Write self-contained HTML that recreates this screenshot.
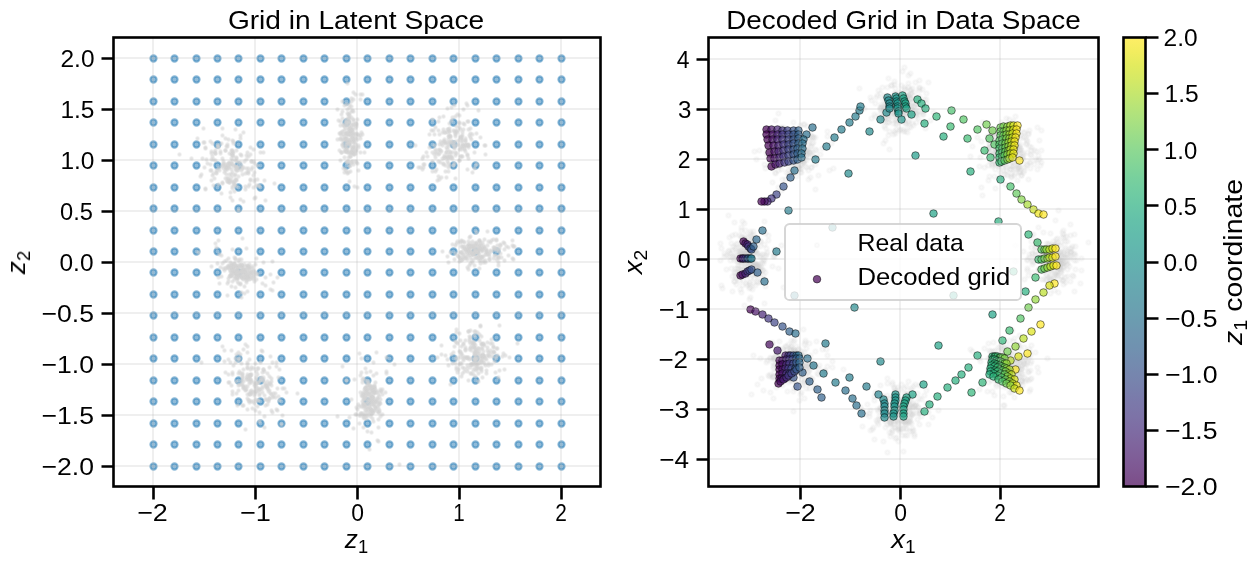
<!DOCTYPE html>
<html><head><meta charset="utf-8"><title>Latent grid decoding</title>
<style>html,body{margin:0;padding:0;background:#fff;overflow:hidden}svg{display:block}text{font-family:"Liberation Sans",sans-serif;fill:#000}</style>
</head><body>
<svg width="1260" height="566" viewBox="0 0 1260 566">
<rect width="1260" height="566" fill="#fff"/>
<defs><clipPath id="cl"><rect x="113.5" y="37.5" width="487.0" height="449.0"/></clipPath><clipPath id="cr"><rect x="708.5" y="37.5" width="390.0" height="449.0"/></clipPath>
<linearGradient id="vg" x1="0" y1="0" x2="0" y2="1"><stop offset="0%" stop-color="#feee66"/><stop offset="3.1%" stop-color="#f2ed5f"/><stop offset="6.2%" stop-color="#e3eb5e"/><stop offset="9.4%" stop-color="#d5e965"/><stop offset="12.5%" stop-color="#c6e76e"/><stop offset="15.6%" stop-color="#b7e478"/><stop offset="18.8%" stop-color="#a9e181"/><stop offset="21.9%" stop-color="#9bdd89"/><stop offset="25%" stop-color="#8ed991"/><stop offset="28.1%" stop-color="#83d597"/><stop offset="31.2%" stop-color="#78d09d"/><stop offset="34.4%" stop-color="#70cca2"/><stop offset="37.5%" stop-color="#69c7a6"/><stop offset="40.6%" stop-color="#64c1a9"/><stop offset="43.8%" stop-color="#62bcac"/><stop offset="46.9%" stop-color="#62b7ae"/><stop offset="50%" stop-color="#63b2af"/><stop offset="53.1%" stop-color="#65acb0"/><stop offset="56.2%" stop-color="#67a7b0"/><stop offset="59.4%" stop-color="#69a2b0"/><stop offset="62.5%" stop-color="#6b9db0"/><stop offset="65.6%" stop-color="#6e97b0"/><stop offset="68.8%" stop-color="#7092b0"/><stop offset="71.9%" stop-color="#738caf"/><stop offset="75%" stop-color="#7686ae"/><stop offset="78.1%" stop-color="#7880ac"/><stop offset="81.2%" stop-color="#7b79aa"/><stop offset="84.4%" stop-color="#7d73a7"/><stop offset="87.5%" stop-color="#7e6ca3"/><stop offset="90.6%" stop-color="#7f659d"/><stop offset="93.8%" stop-color="#7f5d97"/><stop offset="96.9%" stop-color="#7e5590"/><stop offset="100%" stop-color="#7c4d87"/></linearGradient></defs>
<g clip-path="url(#cl)">
<g fill="#1f77b4" fill-opacity="0.5" stroke="#1f77b4" stroke-opacity="0.5" stroke-width="2.08">
<circle cx="153.5" cy="466.5" r="3.1"/>
<circle cx="153.5" cy="444.5" r="3.1"/>
<circle cx="153.5" cy="423.5" r="3.1"/>
<circle cx="153.5" cy="401.5" r="3.1"/>
<circle cx="153.5" cy="380.5" r="3.1"/>
<circle cx="153.5" cy="358.5" r="3.1"/>
<circle cx="153.5" cy="337.5" r="3.1"/>
<circle cx="153.5" cy="315.5" r="3.1"/>
<circle cx="153.5" cy="294.5" r="3.1"/>
<circle cx="153.5" cy="272.5" r="3.1"/>
<circle cx="153.5" cy="251.5" r="3.1"/>
<circle cx="153.5" cy="230.5" r="3.1"/>
<circle cx="153.5" cy="208.5" r="3.1"/>
<circle cx="153.5" cy="187.5" r="3.1"/>
<circle cx="153.5" cy="165.5" r="3.1"/>
<circle cx="153.5" cy="144.5" r="3.1"/>
<circle cx="153.5" cy="122.5" r="3.1"/>
<circle cx="153.5" cy="101.5" r="3.1"/>
<circle cx="153.5" cy="79.5" r="3.1"/>
<circle cx="153.5" cy="58.5" r="3.1"/>
<circle cx="174.5" cy="466.5" r="3.1"/>
<circle cx="174.5" cy="444.5" r="3.1"/>
<circle cx="174.5" cy="423.5" r="3.1"/>
<circle cx="174.5" cy="401.5" r="3.1"/>
<circle cx="174.5" cy="380.5" r="3.1"/>
<circle cx="174.5" cy="358.5" r="3.1"/>
<circle cx="174.5" cy="337.5" r="3.1"/>
<circle cx="174.5" cy="315.5" r="3.1"/>
<circle cx="174.5" cy="294.5" r="3.1"/>
<circle cx="174.5" cy="272.5" r="3.1"/>
<circle cx="174.5" cy="251.5" r="3.1"/>
<circle cx="174.5" cy="230.5" r="3.1"/>
<circle cx="174.5" cy="208.5" r="3.1"/>
<circle cx="174.5" cy="187.5" r="3.1"/>
<circle cx="174.5" cy="165.5" r="3.1"/>
<circle cx="174.5" cy="144.5" r="3.1"/>
<circle cx="174.5" cy="122.5" r="3.1"/>
<circle cx="174.5" cy="101.5" r="3.1"/>
<circle cx="174.5" cy="79.5" r="3.1"/>
<circle cx="174.5" cy="58.5" r="3.1"/>
<circle cx="196.5" cy="466.5" r="3.1"/>
<circle cx="196.5" cy="444.5" r="3.1"/>
<circle cx="196.5" cy="423.5" r="3.1"/>
<circle cx="196.5" cy="401.5" r="3.1"/>
<circle cx="196.5" cy="380.5" r="3.1"/>
<circle cx="196.5" cy="358.5" r="3.1"/>
<circle cx="196.5" cy="337.5" r="3.1"/>
<circle cx="196.5" cy="315.5" r="3.1"/>
<circle cx="196.5" cy="294.5" r="3.1"/>
<circle cx="196.5" cy="272.5" r="3.1"/>
<circle cx="196.5" cy="251.5" r="3.1"/>
<circle cx="196.5" cy="230.5" r="3.1"/>
<circle cx="196.5" cy="208.5" r="3.1"/>
<circle cx="196.5" cy="187.5" r="3.1"/>
<circle cx="196.5" cy="165.5" r="3.1"/>
<circle cx="196.5" cy="144.5" r="3.1"/>
<circle cx="196.5" cy="122.5" r="3.1"/>
<circle cx="196.5" cy="101.5" r="3.1"/>
<circle cx="196.5" cy="79.5" r="3.1"/>
<circle cx="196.5" cy="58.5" r="3.1"/>
<circle cx="217.5" cy="466.5" r="3.1"/>
<circle cx="217.5" cy="444.5" r="3.1"/>
<circle cx="217.5" cy="423.5" r="3.1"/>
<circle cx="217.5" cy="401.5" r="3.1"/>
<circle cx="217.5" cy="380.5" r="3.1"/>
<circle cx="217.5" cy="358.5" r="3.1"/>
<circle cx="217.5" cy="337.5" r="3.1"/>
<circle cx="217.5" cy="315.5" r="3.1"/>
<circle cx="217.5" cy="294.5" r="3.1"/>
<circle cx="217.5" cy="272.5" r="3.1"/>
<circle cx="217.5" cy="251.5" r="3.1"/>
<circle cx="217.5" cy="230.5" r="3.1"/>
<circle cx="217.5" cy="208.5" r="3.1"/>
<circle cx="217.5" cy="187.5" r="3.1"/>
<circle cx="217.5" cy="165.5" r="3.1"/>
<circle cx="217.5" cy="144.5" r="3.1"/>
<circle cx="217.5" cy="122.5" r="3.1"/>
<circle cx="217.5" cy="101.5" r="3.1"/>
<circle cx="217.5" cy="79.5" r="3.1"/>
<circle cx="217.5" cy="58.5" r="3.1"/>
<circle cx="238.5" cy="466.5" r="3.1"/>
<circle cx="238.5" cy="444.5" r="3.1"/>
<circle cx="238.5" cy="423.5" r="3.1"/>
<circle cx="238.5" cy="401.5" r="3.1"/>
<circle cx="238.5" cy="380.5" r="3.1"/>
<circle cx="238.5" cy="358.5" r="3.1"/>
<circle cx="238.5" cy="337.5" r="3.1"/>
<circle cx="238.5" cy="315.5" r="3.1"/>
<circle cx="238.5" cy="294.5" r="3.1"/>
<circle cx="238.5" cy="272.5" r="3.1"/>
<circle cx="238.5" cy="251.5" r="3.1"/>
<circle cx="238.5" cy="230.5" r="3.1"/>
<circle cx="238.5" cy="208.5" r="3.1"/>
<circle cx="238.5" cy="187.5" r="3.1"/>
<circle cx="238.5" cy="165.5" r="3.1"/>
<circle cx="238.5" cy="144.5" r="3.1"/>
<circle cx="238.5" cy="122.5" r="3.1"/>
<circle cx="238.5" cy="101.5" r="3.1"/>
<circle cx="238.5" cy="79.5" r="3.1"/>
<circle cx="238.5" cy="58.5" r="3.1"/>
<circle cx="260.5" cy="466.5" r="3.1"/>
<circle cx="260.5" cy="444.5" r="3.1"/>
<circle cx="260.5" cy="423.5" r="3.1"/>
<circle cx="260.5" cy="401.5" r="3.1"/>
<circle cx="260.5" cy="380.5" r="3.1"/>
<circle cx="260.5" cy="358.5" r="3.1"/>
<circle cx="260.5" cy="337.5" r="3.1"/>
<circle cx="260.5" cy="315.5" r="3.1"/>
<circle cx="260.5" cy="294.5" r="3.1"/>
<circle cx="260.5" cy="272.5" r="3.1"/>
<circle cx="260.5" cy="251.5" r="3.1"/>
<circle cx="260.5" cy="230.5" r="3.1"/>
<circle cx="260.5" cy="208.5" r="3.1"/>
<circle cx="260.5" cy="187.5" r="3.1"/>
<circle cx="260.5" cy="165.5" r="3.1"/>
<circle cx="260.5" cy="144.5" r="3.1"/>
<circle cx="260.5" cy="122.5" r="3.1"/>
<circle cx="260.5" cy="101.5" r="3.1"/>
<circle cx="260.5" cy="79.5" r="3.1"/>
<circle cx="260.5" cy="58.5" r="3.1"/>
<circle cx="281.5" cy="466.5" r="3.1"/>
<circle cx="281.5" cy="444.5" r="3.1"/>
<circle cx="281.5" cy="423.5" r="3.1"/>
<circle cx="281.5" cy="401.5" r="3.1"/>
<circle cx="281.5" cy="380.5" r="3.1"/>
<circle cx="281.5" cy="358.5" r="3.1"/>
<circle cx="281.5" cy="337.5" r="3.1"/>
<circle cx="281.5" cy="315.5" r="3.1"/>
<circle cx="281.5" cy="294.5" r="3.1"/>
<circle cx="281.5" cy="272.5" r="3.1"/>
<circle cx="281.5" cy="251.5" r="3.1"/>
<circle cx="281.5" cy="230.5" r="3.1"/>
<circle cx="281.5" cy="208.5" r="3.1"/>
<circle cx="281.5" cy="187.5" r="3.1"/>
<circle cx="281.5" cy="165.5" r="3.1"/>
<circle cx="281.5" cy="144.5" r="3.1"/>
<circle cx="281.5" cy="122.5" r="3.1"/>
<circle cx="281.5" cy="101.5" r="3.1"/>
<circle cx="281.5" cy="79.5" r="3.1"/>
<circle cx="281.5" cy="58.5" r="3.1"/>
<circle cx="303.5" cy="466.5" r="3.1"/>
<circle cx="303.5" cy="444.5" r="3.1"/>
<circle cx="303.5" cy="423.5" r="3.1"/>
<circle cx="303.5" cy="401.5" r="3.1"/>
<circle cx="303.5" cy="380.5" r="3.1"/>
<circle cx="303.5" cy="358.5" r="3.1"/>
<circle cx="303.5" cy="337.5" r="3.1"/>
<circle cx="303.5" cy="315.5" r="3.1"/>
<circle cx="303.5" cy="294.5" r="3.1"/>
<circle cx="303.5" cy="272.5" r="3.1"/>
<circle cx="303.5" cy="251.5" r="3.1"/>
<circle cx="303.5" cy="230.5" r="3.1"/>
<circle cx="303.5" cy="208.5" r="3.1"/>
<circle cx="303.5" cy="187.5" r="3.1"/>
<circle cx="303.5" cy="165.5" r="3.1"/>
<circle cx="303.5" cy="144.5" r="3.1"/>
<circle cx="303.5" cy="122.5" r="3.1"/>
<circle cx="303.5" cy="101.5" r="3.1"/>
<circle cx="303.5" cy="79.5" r="3.1"/>
<circle cx="303.5" cy="58.5" r="3.1"/>
<circle cx="324.5" cy="466.5" r="3.1"/>
<circle cx="324.5" cy="444.5" r="3.1"/>
<circle cx="324.5" cy="423.5" r="3.1"/>
<circle cx="324.5" cy="401.5" r="3.1"/>
<circle cx="324.5" cy="380.5" r="3.1"/>
<circle cx="324.5" cy="358.5" r="3.1"/>
<circle cx="324.5" cy="337.5" r="3.1"/>
<circle cx="324.5" cy="315.5" r="3.1"/>
<circle cx="324.5" cy="294.5" r="3.1"/>
<circle cx="324.5" cy="272.5" r="3.1"/>
<circle cx="324.5" cy="251.5" r="3.1"/>
<circle cx="324.5" cy="230.5" r="3.1"/>
<circle cx="324.5" cy="208.5" r="3.1"/>
<circle cx="324.5" cy="187.5" r="3.1"/>
<circle cx="324.5" cy="165.5" r="3.1"/>
<circle cx="324.5" cy="144.5" r="3.1"/>
<circle cx="324.5" cy="122.5" r="3.1"/>
<circle cx="324.5" cy="101.5" r="3.1"/>
<circle cx="324.5" cy="79.5" r="3.1"/>
<circle cx="324.5" cy="58.5" r="3.1"/>
<circle cx="346.5" cy="466.5" r="3.1"/>
<circle cx="346.5" cy="444.5" r="3.1"/>
<circle cx="346.5" cy="423.5" r="3.1"/>
<circle cx="346.5" cy="401.5" r="3.1"/>
<circle cx="346.5" cy="380.5" r="3.1"/>
<circle cx="346.5" cy="358.5" r="3.1"/>
<circle cx="346.5" cy="337.5" r="3.1"/>
<circle cx="346.5" cy="315.5" r="3.1"/>
<circle cx="346.5" cy="294.5" r="3.1"/>
<circle cx="346.5" cy="272.5" r="3.1"/>
<circle cx="346.5" cy="251.5" r="3.1"/>
<circle cx="346.5" cy="230.5" r="3.1"/>
<circle cx="346.5" cy="208.5" r="3.1"/>
<circle cx="346.5" cy="187.5" r="3.1"/>
<circle cx="346.5" cy="165.5" r="3.1"/>
<circle cx="346.5" cy="144.5" r="3.1"/>
<circle cx="346.5" cy="122.5" r="3.1"/>
<circle cx="346.5" cy="101.5" r="3.1"/>
<circle cx="346.5" cy="79.5" r="3.1"/>
<circle cx="346.5" cy="58.5" r="3.1"/>
<circle cx="367.5" cy="466.5" r="3.1"/>
<circle cx="367.5" cy="444.5" r="3.1"/>
<circle cx="367.5" cy="423.5" r="3.1"/>
<circle cx="367.5" cy="401.5" r="3.1"/>
<circle cx="367.5" cy="380.5" r="3.1"/>
<circle cx="367.5" cy="358.5" r="3.1"/>
<circle cx="367.5" cy="337.5" r="3.1"/>
<circle cx="367.5" cy="315.5" r="3.1"/>
<circle cx="367.5" cy="294.5" r="3.1"/>
<circle cx="367.5" cy="272.5" r="3.1"/>
<circle cx="367.5" cy="251.5" r="3.1"/>
<circle cx="367.5" cy="230.5" r="3.1"/>
<circle cx="367.5" cy="208.5" r="3.1"/>
<circle cx="367.5" cy="187.5" r="3.1"/>
<circle cx="367.5" cy="165.5" r="3.1"/>
<circle cx="367.5" cy="144.5" r="3.1"/>
<circle cx="367.5" cy="122.5" r="3.1"/>
<circle cx="367.5" cy="101.5" r="3.1"/>
<circle cx="367.5" cy="79.5" r="3.1"/>
<circle cx="367.5" cy="58.5" r="3.1"/>
<circle cx="389.5" cy="466.5" r="3.1"/>
<circle cx="389.5" cy="444.5" r="3.1"/>
<circle cx="389.5" cy="423.5" r="3.1"/>
<circle cx="389.5" cy="401.5" r="3.1"/>
<circle cx="389.5" cy="380.5" r="3.1"/>
<circle cx="389.5" cy="358.5" r="3.1"/>
<circle cx="389.5" cy="337.5" r="3.1"/>
<circle cx="389.5" cy="315.5" r="3.1"/>
<circle cx="389.5" cy="294.5" r="3.1"/>
<circle cx="389.5" cy="272.5" r="3.1"/>
<circle cx="389.5" cy="251.5" r="3.1"/>
<circle cx="389.5" cy="230.5" r="3.1"/>
<circle cx="389.5" cy="208.5" r="3.1"/>
<circle cx="389.5" cy="187.5" r="3.1"/>
<circle cx="389.5" cy="165.5" r="3.1"/>
<circle cx="389.5" cy="144.5" r="3.1"/>
<circle cx="389.5" cy="122.5" r="3.1"/>
<circle cx="389.5" cy="101.5" r="3.1"/>
<circle cx="389.5" cy="79.5" r="3.1"/>
<circle cx="389.5" cy="58.5" r="3.1"/>
<circle cx="410.5" cy="466.5" r="3.1"/>
<circle cx="410.5" cy="444.5" r="3.1"/>
<circle cx="410.5" cy="423.5" r="3.1"/>
<circle cx="410.5" cy="401.5" r="3.1"/>
<circle cx="410.5" cy="380.5" r="3.1"/>
<circle cx="410.5" cy="358.5" r="3.1"/>
<circle cx="410.5" cy="337.5" r="3.1"/>
<circle cx="410.5" cy="315.5" r="3.1"/>
<circle cx="410.5" cy="294.5" r="3.1"/>
<circle cx="410.5" cy="272.5" r="3.1"/>
<circle cx="410.5" cy="251.5" r="3.1"/>
<circle cx="410.5" cy="230.5" r="3.1"/>
<circle cx="410.5" cy="208.5" r="3.1"/>
<circle cx="410.5" cy="187.5" r="3.1"/>
<circle cx="410.5" cy="165.5" r="3.1"/>
<circle cx="410.5" cy="144.5" r="3.1"/>
<circle cx="410.5" cy="122.5" r="3.1"/>
<circle cx="410.5" cy="101.5" r="3.1"/>
<circle cx="410.5" cy="79.5" r="3.1"/>
<circle cx="410.5" cy="58.5" r="3.1"/>
<circle cx="432.5" cy="466.5" r="3.1"/>
<circle cx="432.5" cy="444.5" r="3.1"/>
<circle cx="432.5" cy="423.5" r="3.1"/>
<circle cx="432.5" cy="401.5" r="3.1"/>
<circle cx="432.5" cy="380.5" r="3.1"/>
<circle cx="432.5" cy="358.5" r="3.1"/>
<circle cx="432.5" cy="337.5" r="3.1"/>
<circle cx="432.5" cy="315.5" r="3.1"/>
<circle cx="432.5" cy="294.5" r="3.1"/>
<circle cx="432.5" cy="272.5" r="3.1"/>
<circle cx="432.5" cy="251.5" r="3.1"/>
<circle cx="432.5" cy="230.5" r="3.1"/>
<circle cx="432.5" cy="208.5" r="3.1"/>
<circle cx="432.5" cy="187.5" r="3.1"/>
<circle cx="432.5" cy="165.5" r="3.1"/>
<circle cx="432.5" cy="144.5" r="3.1"/>
<circle cx="432.5" cy="122.5" r="3.1"/>
<circle cx="432.5" cy="101.5" r="3.1"/>
<circle cx="432.5" cy="79.5" r="3.1"/>
<circle cx="432.5" cy="58.5" r="3.1"/>
<circle cx="453.5" cy="466.5" r="3.1"/>
<circle cx="453.5" cy="444.5" r="3.1"/>
<circle cx="453.5" cy="423.5" r="3.1"/>
<circle cx="453.5" cy="401.5" r="3.1"/>
<circle cx="453.5" cy="380.5" r="3.1"/>
<circle cx="453.5" cy="358.5" r="3.1"/>
<circle cx="453.5" cy="337.5" r="3.1"/>
<circle cx="453.5" cy="315.5" r="3.1"/>
<circle cx="453.5" cy="294.5" r="3.1"/>
<circle cx="453.5" cy="272.5" r="3.1"/>
<circle cx="453.5" cy="251.5" r="3.1"/>
<circle cx="453.5" cy="230.5" r="3.1"/>
<circle cx="453.5" cy="208.5" r="3.1"/>
<circle cx="453.5" cy="187.5" r="3.1"/>
<circle cx="453.5" cy="165.5" r="3.1"/>
<circle cx="453.5" cy="144.5" r="3.1"/>
<circle cx="453.5" cy="122.5" r="3.1"/>
<circle cx="453.5" cy="101.5" r="3.1"/>
<circle cx="453.5" cy="79.5" r="3.1"/>
<circle cx="453.5" cy="58.5" r="3.1"/>
<circle cx="475.5" cy="466.5" r="3.1"/>
<circle cx="475.5" cy="444.5" r="3.1"/>
<circle cx="475.5" cy="423.5" r="3.1"/>
<circle cx="475.5" cy="401.5" r="3.1"/>
<circle cx="475.5" cy="380.5" r="3.1"/>
<circle cx="475.5" cy="358.5" r="3.1"/>
<circle cx="475.5" cy="337.5" r="3.1"/>
<circle cx="475.5" cy="315.5" r="3.1"/>
<circle cx="475.5" cy="294.5" r="3.1"/>
<circle cx="475.5" cy="272.5" r="3.1"/>
<circle cx="475.5" cy="251.5" r="3.1"/>
<circle cx="475.5" cy="230.5" r="3.1"/>
<circle cx="475.5" cy="208.5" r="3.1"/>
<circle cx="475.5" cy="187.5" r="3.1"/>
<circle cx="475.5" cy="165.5" r="3.1"/>
<circle cx="475.5" cy="144.5" r="3.1"/>
<circle cx="475.5" cy="122.5" r="3.1"/>
<circle cx="475.5" cy="101.5" r="3.1"/>
<circle cx="475.5" cy="79.5" r="3.1"/>
<circle cx="475.5" cy="58.5" r="3.1"/>
<circle cx="496.5" cy="466.5" r="3.1"/>
<circle cx="496.5" cy="444.5" r="3.1"/>
<circle cx="496.5" cy="423.5" r="3.1"/>
<circle cx="496.5" cy="401.5" r="3.1"/>
<circle cx="496.5" cy="380.5" r="3.1"/>
<circle cx="496.5" cy="358.5" r="3.1"/>
<circle cx="496.5" cy="337.5" r="3.1"/>
<circle cx="496.5" cy="315.5" r="3.1"/>
<circle cx="496.5" cy="294.5" r="3.1"/>
<circle cx="496.5" cy="272.5" r="3.1"/>
<circle cx="496.5" cy="251.5" r="3.1"/>
<circle cx="496.5" cy="230.5" r="3.1"/>
<circle cx="496.5" cy="208.5" r="3.1"/>
<circle cx="496.5" cy="187.5" r="3.1"/>
<circle cx="496.5" cy="165.5" r="3.1"/>
<circle cx="496.5" cy="144.5" r="3.1"/>
<circle cx="496.5" cy="122.5" r="3.1"/>
<circle cx="496.5" cy="101.5" r="3.1"/>
<circle cx="496.5" cy="79.5" r="3.1"/>
<circle cx="496.5" cy="58.5" r="3.1"/>
<circle cx="518.5" cy="466.5" r="3.1"/>
<circle cx="518.5" cy="444.5" r="3.1"/>
<circle cx="518.5" cy="423.5" r="3.1"/>
<circle cx="518.5" cy="401.5" r="3.1"/>
<circle cx="518.5" cy="380.5" r="3.1"/>
<circle cx="518.5" cy="358.5" r="3.1"/>
<circle cx="518.5" cy="337.5" r="3.1"/>
<circle cx="518.5" cy="315.5" r="3.1"/>
<circle cx="518.5" cy="294.5" r="3.1"/>
<circle cx="518.5" cy="272.5" r="3.1"/>
<circle cx="518.5" cy="251.5" r="3.1"/>
<circle cx="518.5" cy="230.5" r="3.1"/>
<circle cx="518.5" cy="208.5" r="3.1"/>
<circle cx="518.5" cy="187.5" r="3.1"/>
<circle cx="518.5" cy="165.5" r="3.1"/>
<circle cx="518.5" cy="144.5" r="3.1"/>
<circle cx="518.5" cy="122.5" r="3.1"/>
<circle cx="518.5" cy="101.5" r="3.1"/>
<circle cx="518.5" cy="79.5" r="3.1"/>
<circle cx="518.5" cy="58.5" r="3.1"/>
<circle cx="539.5" cy="466.5" r="3.1"/>
<circle cx="539.5" cy="444.5" r="3.1"/>
<circle cx="539.5" cy="423.5" r="3.1"/>
<circle cx="539.5" cy="401.5" r="3.1"/>
<circle cx="539.5" cy="380.5" r="3.1"/>
<circle cx="539.5" cy="358.5" r="3.1"/>
<circle cx="539.5" cy="337.5" r="3.1"/>
<circle cx="539.5" cy="315.5" r="3.1"/>
<circle cx="539.5" cy="294.5" r="3.1"/>
<circle cx="539.5" cy="272.5" r="3.1"/>
<circle cx="539.5" cy="251.5" r="3.1"/>
<circle cx="539.5" cy="230.5" r="3.1"/>
<circle cx="539.5" cy="208.5" r="3.1"/>
<circle cx="539.5" cy="187.5" r="3.1"/>
<circle cx="539.5" cy="165.5" r="3.1"/>
<circle cx="539.5" cy="144.5" r="3.1"/>
<circle cx="539.5" cy="122.5" r="3.1"/>
<circle cx="539.5" cy="101.5" r="3.1"/>
<circle cx="539.5" cy="79.5" r="3.1"/>
<circle cx="539.5" cy="58.5" r="3.1"/>
<circle cx="561.5" cy="466.5" r="3.1"/>
<circle cx="561.5" cy="444.5" r="3.1"/>
<circle cx="561.5" cy="423.5" r="3.1"/>
<circle cx="561.5" cy="401.5" r="3.1"/>
<circle cx="561.5" cy="380.5" r="3.1"/>
<circle cx="561.5" cy="358.5" r="3.1"/>
<circle cx="561.5" cy="337.5" r="3.1"/>
<circle cx="561.5" cy="315.5" r="3.1"/>
<circle cx="561.5" cy="294.5" r="3.1"/>
<circle cx="561.5" cy="272.5" r="3.1"/>
<circle cx="561.5" cy="251.5" r="3.1"/>
<circle cx="561.5" cy="230.5" r="3.1"/>
<circle cx="561.5" cy="208.5" r="3.1"/>
<circle cx="561.5" cy="187.5" r="3.1"/>
<circle cx="561.5" cy="165.5" r="3.1"/>
<circle cx="561.5" cy="144.5" r="3.1"/>
<circle cx="561.5" cy="122.5" r="3.1"/>
<circle cx="561.5" cy="101.5" r="3.1"/>
<circle cx="561.5" cy="79.5" r="3.1"/>
<circle cx="561.5" cy="58.5" r="3.1"/>
</g>
<g fill="#d3d3d3" fill-opacity="0.42" stroke="#d3d3d3" stroke-opacity="0.42" stroke-width="2.08">
<circle cx="232.5" cy="160.5" r="1.2"/>
<circle cx="228.5" cy="178.5" r="1.2"/>
<circle cx="225.5" cy="178.5" r="1.2"/>
<circle cx="233.5" cy="143.5" r="1.2"/>
<circle cx="224.5" cy="172.5" r="1.2"/>
<circle cx="240.5" cy="162.5" r="1.2"/>
<circle cx="234.5" cy="181.5" r="1.2"/>
<circle cx="232.5" cy="153.5" r="1.2"/>
<circle cx="210.5" cy="164.5" r="1.2"/>
<circle cx="201.5" cy="174.5" r="1.2"/>
<circle cx="202.5" cy="158.5" r="1.2"/>
<circle cx="211.5" cy="153.5" r="1.2"/>
<circle cx="235.5" cy="169.5" r="1.2"/>
<circle cx="191.5" cy="158.5" r="1.2"/>
<circle cx="231.5" cy="163.5" r="1.2"/>
<circle cx="207.5" cy="163.5" r="1.2"/>
<circle cx="216.5" cy="172.5" r="1.2"/>
<circle cx="249.5" cy="184.5" r="1.2"/>
<circle cx="232.5" cy="150.5" r="1.2"/>
<circle cx="223.5" cy="163.5" r="1.2"/>
<circle cx="234.5" cy="165.5" r="1.2"/>
<circle cx="212.5" cy="156.5" r="1.2"/>
<circle cx="254.5" cy="198.5" r="1.2"/>
<circle cx="246.5" cy="168.5" r="1.2"/>
<circle cx="222.5" cy="128.5" r="1.2"/>
<circle cx="245.5" cy="189.5" r="1.2"/>
<circle cx="233.5" cy="156.5" r="1.2"/>
<circle cx="229.5" cy="153.5" r="1.2"/>
<circle cx="231.5" cy="154.5" r="1.2"/>
<circle cx="256.5" cy="185.5" r="1.2"/>
<circle cx="235.5" cy="174.5" r="1.2"/>
<circle cx="234.5" cy="185.5" r="1.2"/>
<circle cx="223.5" cy="165.5" r="1.2"/>
<circle cx="247.5" cy="152.5" r="1.2"/>
<circle cx="211.5" cy="170.5" r="1.2"/>
<circle cx="243.5" cy="201.5" r="1.2"/>
<circle cx="225.5" cy="164.5" r="1.2"/>
<circle cx="253.5" cy="161.5" r="1.2"/>
<circle cx="227.5" cy="169.5" r="1.2"/>
<circle cx="228.5" cy="139.5" r="1.2"/>
<circle cx="225.5" cy="167.5" r="1.2"/>
<circle cx="238.5" cy="169.5" r="1.2"/>
<circle cx="229.5" cy="182.5" r="1.2"/>
<circle cx="232.5" cy="172.5" r="1.2"/>
<circle cx="251.5" cy="161.5" r="1.2"/>
<circle cx="232.5" cy="154.5" r="1.2"/>
<circle cx="227.5" cy="146.5" r="1.2"/>
<circle cx="232.5" cy="155.5" r="1.2"/>
<circle cx="211.5" cy="151.5" r="1.2"/>
<circle cx="205.5" cy="188.5" r="1.2"/>
<circle cx="227.5" cy="178.5" r="1.2"/>
<circle cx="235.5" cy="129.5" r="1.2"/>
<circle cx="219.5" cy="170.5" r="1.2"/>
<circle cx="236.5" cy="158.5" r="1.2"/>
<circle cx="229.5" cy="167.5" r="1.2"/>
<circle cx="244.5" cy="161.5" r="1.2"/>
<circle cx="215.5" cy="160.5" r="1.2"/>
<circle cx="233.5" cy="182.5" r="1.2"/>
<circle cx="236.5" cy="180.5" r="1.2"/>
<circle cx="248.5" cy="168.5" r="1.2"/>
<circle cx="234.5" cy="175.5" r="1.2"/>
<circle cx="230.5" cy="197.5" r="1.2"/>
<circle cx="214.5" cy="152.5" r="1.2"/>
<circle cx="197.5" cy="138.5" r="1.2"/>
<circle cx="204.5" cy="142.5" r="1.2"/>
<circle cx="218.5" cy="147.5" r="1.2"/>
<circle cx="234.5" cy="191.5" r="1.2"/>
<circle cx="253.5" cy="149.5" r="1.2"/>
<circle cx="231.5" cy="169.5" r="1.2"/>
<circle cx="230.5" cy="180.5" r="1.2"/>
<circle cx="250.5" cy="180.5" r="1.2"/>
<circle cx="231.5" cy="177.5" r="1.2"/>
<circle cx="222.5" cy="182.5" r="1.2"/>
<circle cx="253.5" cy="175.5" r="1.2"/>
<circle cx="248.5" cy="171.5" r="1.2"/>
<circle cx="221.5" cy="166.5" r="1.2"/>
<circle cx="223.5" cy="161.5" r="1.2"/>
<circle cx="226.5" cy="167.5" r="1.2"/>
<circle cx="210.5" cy="170.5" r="1.2"/>
<circle cx="259.5" cy="186.5" r="1.2"/>
<circle cx="215.5" cy="153.5" r="1.2"/>
<circle cx="255.5" cy="197.5" r="1.2"/>
<circle cx="229.5" cy="174.5" r="1.2"/>
<circle cx="203.5" cy="142.5" r="1.2"/>
<circle cx="232.5" cy="164.5" r="1.2"/>
<circle cx="220.5" cy="153.5" r="1.2"/>
<circle cx="223.5" cy="164.5" r="1.2"/>
<circle cx="214.5" cy="178.5" r="1.2"/>
<circle cx="254.5" cy="181.5" r="1.2"/>
<circle cx="237.5" cy="167.5" r="1.2"/>
<circle cx="225.5" cy="170.5" r="1.2"/>
<circle cx="242.5" cy="174.5" r="1.2"/>
<circle cx="230.5" cy="164.5" r="1.2"/>
<circle cx="251.5" cy="161.5" r="1.2"/>
<circle cx="238.5" cy="176.5" r="1.2"/>
<circle cx="210.5" cy="141.5" r="1.2"/>
<circle cx="248.5" cy="173.5" r="1.2"/>
<circle cx="241.5" cy="155.5" r="1.2"/>
<circle cx="246.5" cy="155.5" r="1.2"/>
<circle cx="225.5" cy="138.5" r="1.2"/>
<circle cx="212.5" cy="143.5" r="1.2"/>
<circle cx="240.5" cy="154.5" r="1.2"/>
<circle cx="263.5" cy="152.5" r="1.2"/>
<circle cx="213.5" cy="185.5" r="1.2"/>
<circle cx="245.5" cy="186.5" r="1.2"/>
<circle cx="232.5" cy="151.5" r="1.2"/>
<circle cx="205.5" cy="189.5" r="1.2"/>
<circle cx="236.5" cy="166.5" r="1.2"/>
<circle cx="228.5" cy="163.5" r="1.2"/>
<circle cx="218.5" cy="184.5" r="1.2"/>
<circle cx="229.5" cy="180.5" r="1.2"/>
<circle cx="205.5" cy="147.5" r="1.2"/>
<circle cx="231.5" cy="158.5" r="1.2"/>
<circle cx="216.5" cy="170.5" r="1.2"/>
<circle cx="216.5" cy="173.5" r="1.2"/>
<circle cx="235.5" cy="179.5" r="1.2"/>
<circle cx="238.5" cy="162.5" r="1.2"/>
<circle cx="265.5" cy="200.5" r="1.2"/>
<circle cx="247.5" cy="172.5" r="1.2"/>
<circle cx="232.5" cy="188.5" r="1.2"/>
<circle cx="225.5" cy="150.5" r="1.2"/>
<circle cx="231.5" cy="163.5" r="1.2"/>
<circle cx="227.5" cy="144.5" r="1.2"/>
<circle cx="232.5" cy="200.5" r="1.2"/>
<circle cx="221.5" cy="193.5" r="1.2"/>
<circle cx="179.5" cy="154.5" r="1.2"/>
<circle cx="254.5" cy="172.5" r="1.2"/>
<circle cx="213.5" cy="173.5" r="1.2"/>
<circle cx="251.5" cy="169.5" r="1.2"/>
<circle cx="233.5" cy="166.5" r="1.2"/>
<circle cx="233.5" cy="152.5" r="1.2"/>
<circle cx="241.5" cy="165.5" r="1.2"/>
<circle cx="215.5" cy="150.5" r="1.2"/>
<circle cx="221.5" cy="143.5" r="1.2"/>
<circle cx="211.5" cy="159.5" r="1.2"/>
<circle cx="232.5" cy="186.5" r="1.2"/>
<circle cx="260.5" cy="152.5" r="1.2"/>
<circle cx="225.5" cy="150.5" r="1.2"/>
<circle cx="238.5" cy="210.5" r="1.2"/>
<circle cx="236.5" cy="167.5" r="1.2"/>
<circle cx="234.5" cy="183.5" r="1.2"/>
<circle cx="228.5" cy="166.5" r="1.2"/>
<circle cx="252.5" cy="167.5" r="1.2"/>
<circle cx="232.5" cy="140.5" r="1.2"/>
<circle cx="223.5" cy="168.5" r="1.2"/>
<circle cx="203.5" cy="128.5" r="1.2"/>
<circle cx="248.5" cy="156.5" r="1.2"/>
<circle cx="243.5" cy="167.5" r="1.2"/>
<circle cx="236.5" cy="170.5" r="1.2"/>
<circle cx="229.5" cy="163.5" r="1.2"/>
<circle cx="257.5" cy="165.5" r="1.2"/>
<circle cx="231.5" cy="174.5" r="1.2"/>
<circle cx="222.5" cy="135.5" r="1.2"/>
<circle cx="240.5" cy="167.5" r="1.2"/>
<circle cx="227.5" cy="181.5" r="1.2"/>
<circle cx="231.5" cy="150.5" r="1.2"/>
<circle cx="226.5" cy="166.5" r="1.2"/>
<circle cx="229.5" cy="162.5" r="1.2"/>
<circle cx="206.5" cy="159.5" r="1.2"/>
<circle cx="218.5" cy="145.5" r="1.2"/>
<circle cx="220.5" cy="151.5" r="1.2"/>
<circle cx="257.5" cy="179.5" r="1.2"/>
<circle cx="222.5" cy="158.5" r="1.2"/>
<circle cx="232.5" cy="181.5" r="1.2"/>
<circle cx="240.5" cy="135.5" r="1.2"/>
<circle cx="228.5" cy="167.5" r="1.2"/>
<circle cx="215.5" cy="153.5" r="1.2"/>
<circle cx="212.5" cy="175.5" r="1.2"/>
<circle cx="253.5" cy="187.5" r="1.2"/>
<circle cx="250.5" cy="147.5" r="1.2"/>
<circle cx="236.5" cy="157.5" r="1.2"/>
<circle cx="264.5" cy="180.5" r="1.2"/>
<circle cx="222.5" cy="183.5" r="1.2"/>
<circle cx="233.5" cy="141.5" r="1.2"/>
<circle cx="248.5" cy="186.5" r="1.2"/>
<circle cx="218.5" cy="168.5" r="1.2"/>
<circle cx="237.5" cy="170.5" r="1.2"/>
<circle cx="236.5" cy="161.5" r="1.2"/>
<circle cx="227.5" cy="164.5" r="1.2"/>
<circle cx="236.5" cy="167.5" r="1.2"/>
<circle cx="240.5" cy="138.5" r="1.2"/>
<circle cx="242.5" cy="168.5" r="1.2"/>
<circle cx="205.5" cy="148.5" r="1.2"/>
<circle cx="200.5" cy="176.5" r="1.2"/>
<circle cx="246.5" cy="159.5" r="1.2"/>
<circle cx="230.5" cy="192.5" r="1.2"/>
<circle cx="226.5" cy="174.5" r="1.2"/>
<circle cx="243.5" cy="132.5" r="1.2"/>
<circle cx="236.5" cy="179.5" r="1.2"/>
<circle cx="213.5" cy="159.5" r="1.2"/>
<circle cx="229.5" cy="182.5" r="1.2"/>
<circle cx="234.5" cy="184.5" r="1.2"/>
<circle cx="250.5" cy="154.5" r="1.2"/>
<circle cx="250.5" cy="179.5" r="1.2"/>
<circle cx="241.5" cy="170.5" r="1.2"/>
<circle cx="226.5" cy="168.5" r="1.2"/>
<circle cx="211.5" cy="180.5" r="1.2"/>
<circle cx="245.5" cy="173.5" r="1.2"/>
<circle cx="236.5" cy="150.5" r="1.2"/>
<circle cx="204.5" cy="167.5" r="1.2"/>
<circle cx="235.5" cy="160.5" r="1.2"/>
<circle cx="226.5" cy="146.5" r="1.2"/>
<circle cx="236.5" cy="186.5" r="1.2"/>
<circle cx="217.5" cy="146.5" r="1.2"/>
<circle cx="240.5" cy="199.5" r="1.2"/>
<circle cx="254.5" cy="163.5" r="1.2"/>
<circle cx="254.5" cy="179.5" r="1.2"/>
<circle cx="227.5" cy="181.5" r="1.2"/>
<circle cx="274.5" cy="183.5" r="1.2"/>
<circle cx="258.5" cy="185.5" r="1.2"/>
<circle cx="350.5" cy="165.5" r="1.2"/>
<circle cx="347.5" cy="113.5" r="1.2"/>
<circle cx="342.5" cy="111.5" r="1.2"/>
<circle cx="351.5" cy="152.5" r="1.2"/>
<circle cx="347.5" cy="141.5" r="1.2"/>
<circle cx="349.5" cy="143.5" r="1.2"/>
<circle cx="345.5" cy="138.5" r="1.2"/>
<circle cx="344.5" cy="157.5" r="1.2"/>
<circle cx="349.5" cy="115.5" r="1.2"/>
<circle cx="341.5" cy="132.5" r="1.2"/>
<circle cx="346.5" cy="151.5" r="1.2"/>
<circle cx="354.5" cy="142.5" r="1.2"/>
<circle cx="358.5" cy="147.5" r="1.2"/>
<circle cx="352.5" cy="137.5" r="1.2"/>
<circle cx="345.5" cy="121.5" r="1.2"/>
<circle cx="349.5" cy="121.5" r="1.2"/>
<circle cx="349.5" cy="153.5" r="1.2"/>
<circle cx="349.5" cy="131.5" r="1.2"/>
<circle cx="355.5" cy="150.5" r="1.2"/>
<circle cx="349.5" cy="166.5" r="1.2"/>
<circle cx="353.5" cy="153.5" r="1.2"/>
<circle cx="339.5" cy="133.5" r="1.2"/>
<circle cx="356.5" cy="162.5" r="1.2"/>
<circle cx="343.5" cy="147.5" r="1.2"/>
<circle cx="343.5" cy="125.5" r="1.2"/>
<circle cx="345.5" cy="146.5" r="1.2"/>
<circle cx="353.5" cy="147.5" r="1.2"/>
<circle cx="352.5" cy="151.5" r="1.2"/>
<circle cx="343.5" cy="168.5" r="1.2"/>
<circle cx="360.5" cy="138.5" r="1.2"/>
<circle cx="351.5" cy="133.5" r="1.2"/>
<circle cx="350.5" cy="131.5" r="1.2"/>
<circle cx="360.5" cy="152.5" r="1.2"/>
<circle cx="341.5" cy="152.5" r="1.2"/>
<circle cx="342.5" cy="118.5" r="1.2"/>
<circle cx="354.5" cy="151.5" r="1.2"/>
<circle cx="342.5" cy="139.5" r="1.2"/>
<circle cx="357.5" cy="187.5" r="1.2"/>
<circle cx="352.5" cy="153.5" r="1.2"/>
<circle cx="355.5" cy="153.5" r="1.2"/>
<circle cx="348.5" cy="161.5" r="1.2"/>
<circle cx="344.5" cy="105.5" r="1.2"/>
<circle cx="354.5" cy="140.5" r="1.2"/>
<circle cx="345.5" cy="169.5" r="1.2"/>
<circle cx="347.5" cy="133.5" r="1.2"/>
<circle cx="349.5" cy="134.5" r="1.2"/>
<circle cx="343.5" cy="134.5" r="1.2"/>
<circle cx="349.5" cy="107.5" r="1.2"/>
<circle cx="360.5" cy="135.5" r="1.2"/>
<circle cx="345.5" cy="133.5" r="1.2"/>
<circle cx="346.5" cy="147.5" r="1.2"/>
<circle cx="349.5" cy="152.5" r="1.2"/>
<circle cx="353.5" cy="134.5" r="1.2"/>
<circle cx="351.5" cy="136.5" r="1.2"/>
<circle cx="345.5" cy="151.5" r="1.2"/>
<circle cx="348.5" cy="143.5" r="1.2"/>
<circle cx="351.5" cy="132.5" r="1.2"/>
<circle cx="342.5" cy="131.5" r="1.2"/>
<circle cx="342.5" cy="144.5" r="1.2"/>
<circle cx="348.5" cy="172.5" r="1.2"/>
<circle cx="350.5" cy="129.5" r="1.2"/>
<circle cx="349.5" cy="140.5" r="1.2"/>
<circle cx="347.5" cy="151.5" r="1.2"/>
<circle cx="348.5" cy="143.5" r="1.2"/>
<circle cx="350.5" cy="156.5" r="1.2"/>
<circle cx="351.5" cy="129.5" r="1.2"/>
<circle cx="349.5" cy="141.5" r="1.2"/>
<circle cx="353.5" cy="164.5" r="1.2"/>
<circle cx="352.5" cy="128.5" r="1.2"/>
<circle cx="351.5" cy="125.5" r="1.2"/>
<circle cx="346.5" cy="137.5" r="1.2"/>
<circle cx="353.5" cy="124.5" r="1.2"/>
<circle cx="351.5" cy="162.5" r="1.2"/>
<circle cx="352.5" cy="110.5" r="1.2"/>
<circle cx="355.5" cy="128.5" r="1.2"/>
<circle cx="341.5" cy="114.5" r="1.2"/>
<circle cx="349.5" cy="181.5" r="1.2"/>
<circle cx="352.5" cy="161.5" r="1.2"/>
<circle cx="342.5" cy="145.5" r="1.2"/>
<circle cx="357.5" cy="139.5" r="1.2"/>
<circle cx="351.5" cy="98.5" r="1.2"/>
<circle cx="358.5" cy="134.5" r="1.2"/>
<circle cx="348.5" cy="157.5" r="1.2"/>
<circle cx="346.5" cy="124.5" r="1.2"/>
<circle cx="352.5" cy="130.5" r="1.2"/>
<circle cx="355.5" cy="147.5" r="1.2"/>
<circle cx="349.5" cy="118.5" r="1.2"/>
<circle cx="353.5" cy="111.5" r="1.2"/>
<circle cx="352.5" cy="138.5" r="1.2"/>
<circle cx="351.5" cy="152.5" r="1.2"/>
<circle cx="340.5" cy="121.5" r="1.2"/>
<circle cx="349.5" cy="126.5" r="1.2"/>
<circle cx="340.5" cy="139.5" r="1.2"/>
<circle cx="346.5" cy="149.5" r="1.2"/>
<circle cx="337.5" cy="139.5" r="1.2"/>
<circle cx="354.5" cy="125.5" r="1.2"/>
<circle cx="346.5" cy="133.5" r="1.2"/>
<circle cx="354.5" cy="186.5" r="1.2"/>
<circle cx="349.5" cy="122.5" r="1.2"/>
<circle cx="353.5" cy="99.5" r="1.2"/>
<circle cx="356.5" cy="126.5" r="1.2"/>
<circle cx="351.5" cy="117.5" r="1.2"/>
<circle cx="346.5" cy="133.5" r="1.2"/>
<circle cx="355.5" cy="94.5" r="1.2"/>
<circle cx="349.5" cy="133.5" r="1.2"/>
<circle cx="351.5" cy="106.5" r="1.2"/>
<circle cx="349.5" cy="104.5" r="1.2"/>
<circle cx="344.5" cy="136.5" r="1.2"/>
<circle cx="348.5" cy="117.5" r="1.2"/>
<circle cx="355.5" cy="161.5" r="1.2"/>
<circle cx="344.5" cy="126.5" r="1.2"/>
<circle cx="346.5" cy="162.5" r="1.2"/>
<circle cx="355.5" cy="123.5" r="1.2"/>
<circle cx="352.5" cy="141.5" r="1.2"/>
<circle cx="355.5" cy="137.5" r="1.2"/>
<circle cx="356.5" cy="150.5" r="1.2"/>
<circle cx="345.5" cy="128.5" r="1.2"/>
<circle cx="346.5" cy="119.5" r="1.2"/>
<circle cx="351.5" cy="150.5" r="1.2"/>
<circle cx="350.5" cy="139.5" r="1.2"/>
<circle cx="355.5" cy="144.5" r="1.2"/>
<circle cx="347.5" cy="109.5" r="1.2"/>
<circle cx="362.5" cy="94.5" r="1.2"/>
<circle cx="350.5" cy="128.5" r="1.2"/>
<circle cx="358.5" cy="135.5" r="1.2"/>
<circle cx="344.5" cy="130.5" r="1.2"/>
<circle cx="352.5" cy="148.5" r="1.2"/>
<circle cx="340.5" cy="160.5" r="1.2"/>
<circle cx="353.5" cy="147.5" r="1.2"/>
<circle cx="349.5" cy="128.5" r="1.2"/>
<circle cx="353.5" cy="139.5" r="1.2"/>
<circle cx="352.5" cy="149.5" r="1.2"/>
<circle cx="347.5" cy="152.5" r="1.2"/>
<circle cx="356.5" cy="133.5" r="1.2"/>
<circle cx="345.5" cy="139.5" r="1.2"/>
<circle cx="348.5" cy="119.5" r="1.2"/>
<circle cx="341.5" cy="152.5" r="1.2"/>
<circle cx="347.5" cy="83.5" r="1.2"/>
<circle cx="355.5" cy="134.5" r="1.2"/>
<circle cx="353.5" cy="92.5" r="1.2"/>
<circle cx="348.5" cy="139.5" r="1.2"/>
<circle cx="356.5" cy="123.5" r="1.2"/>
<circle cx="353.5" cy="142.5" r="1.2"/>
<circle cx="360.5" cy="99.5" r="1.2"/>
<circle cx="353.5" cy="119.5" r="1.2"/>
<circle cx="338.5" cy="120.5" r="1.2"/>
<circle cx="348.5" cy="124.5" r="1.2"/>
<circle cx="353.5" cy="139.5" r="1.2"/>
<circle cx="340.5" cy="125.5" r="1.2"/>
<circle cx="345.5" cy="139.5" r="1.2"/>
<circle cx="346.5" cy="139.5" r="1.2"/>
<circle cx="337.5" cy="109.5" r="1.2"/>
<circle cx="351.5" cy="111.5" r="1.2"/>
<circle cx="361.5" cy="132.5" r="1.2"/>
<circle cx="339.5" cy="150.5" r="1.2"/>
<circle cx="343.5" cy="142.5" r="1.2"/>
<circle cx="350.5" cy="171.5" r="1.2"/>
<circle cx="351.5" cy="162.5" r="1.2"/>
<circle cx="351.5" cy="134.5" r="1.2"/>
<circle cx="348.5" cy="134.5" r="1.2"/>
<circle cx="346.5" cy="144.5" r="1.2"/>
<circle cx="340.5" cy="133.5" r="1.2"/>
<circle cx="360.5" cy="94.5" r="1.2"/>
<circle cx="357.5" cy="119.5" r="1.2"/>
<circle cx="346.5" cy="104.5" r="1.2"/>
<circle cx="349.5" cy="134.5" r="1.2"/>
<circle cx="348.5" cy="130.5" r="1.2"/>
<circle cx="347.5" cy="134.5" r="1.2"/>
<circle cx="343.5" cy="139.5" r="1.2"/>
<circle cx="362.5" cy="134.5" r="1.2"/>
<circle cx="348.5" cy="122.5" r="1.2"/>
<circle cx="353.5" cy="154.5" r="1.2"/>
<circle cx="348.5" cy="114.5" r="1.2"/>
<circle cx="351.5" cy="130.5" r="1.2"/>
<circle cx="358.5" cy="145.5" r="1.2"/>
<circle cx="350.5" cy="142.5" r="1.2"/>
<circle cx="358.5" cy="170.5" r="1.2"/>
<circle cx="346.5" cy="142.5" r="1.2"/>
<circle cx="353.5" cy="120.5" r="1.2"/>
<circle cx="357.5" cy="163.5" r="1.2"/>
<circle cx="354.5" cy="138.5" r="1.2"/>
<circle cx="346.5" cy="122.5" r="1.2"/>
<circle cx="344.5" cy="172.5" r="1.2"/>
<circle cx="347.5" cy="161.5" r="1.2"/>
<circle cx="346.5" cy="125.5" r="1.2"/>
<circle cx="351.5" cy="101.5" r="1.2"/>
<circle cx="348.5" cy="162.5" r="1.2"/>
<circle cx="345.5" cy="150.5" r="1.2"/>
<circle cx="343.5" cy="124.5" r="1.2"/>
<circle cx="346.5" cy="171.5" r="1.2"/>
<circle cx="353.5" cy="134.5" r="1.2"/>
<circle cx="351.5" cy="130.5" r="1.2"/>
<circle cx="353.5" cy="132.5" r="1.2"/>
<circle cx="356.5" cy="124.5" r="1.2"/>
<circle cx="352.5" cy="124.5" r="1.2"/>
<circle cx="341.5" cy="135.5" r="1.2"/>
<circle cx="348.5" cy="128.5" r="1.2"/>
<circle cx="342.5" cy="101.5" r="1.2"/>
<circle cx="350.5" cy="156.5" r="1.2"/>
<circle cx="340.5" cy="138.5" r="1.2"/>
<circle cx="349.5" cy="146.5" r="1.2"/>
<circle cx="350.5" cy="145.5" r="1.2"/>
<circle cx="353.5" cy="146.5" r="1.2"/>
<circle cx="349.5" cy="113.5" r="1.2"/>
<circle cx="364.5" cy="152.5" r="1.2"/>
<circle cx="347.5" cy="149.5" r="1.2"/>
<circle cx="354.5" cy="154.5" r="1.2"/>
<circle cx="347.5" cy="133.5" r="1.2"/>
<circle cx="344.5" cy="151.5" r="1.2"/>
<circle cx="347.5" cy="173.5" r="1.2"/>
<circle cx="427.5" cy="156.5" r="1.2"/>
<circle cx="452.5" cy="145.5" r="1.2"/>
<circle cx="422.5" cy="158.5" r="1.2"/>
<circle cx="462.5" cy="132.5" r="1.2"/>
<circle cx="448.5" cy="157.5" r="1.2"/>
<circle cx="459.5" cy="149.5" r="1.2"/>
<circle cx="432.5" cy="161.5" r="1.2"/>
<circle cx="472.5" cy="134.5" r="1.2"/>
<circle cx="467.5" cy="145.5" r="1.2"/>
<circle cx="464.5" cy="148.5" r="1.2"/>
<circle cx="447.5" cy="108.5" r="1.2"/>
<circle cx="461.5" cy="147.5" r="1.2"/>
<circle cx="448.5" cy="139.5" r="1.2"/>
<circle cx="468.5" cy="145.5" r="1.2"/>
<circle cx="423.5" cy="156.5" r="1.2"/>
<circle cx="450.5" cy="142.5" r="1.2"/>
<circle cx="470.5" cy="133.5" r="1.2"/>
<circle cx="462.5" cy="156.5" r="1.2"/>
<circle cx="463.5" cy="109.5" r="1.2"/>
<circle cx="461.5" cy="136.5" r="1.2"/>
<circle cx="452.5" cy="117.5" r="1.2"/>
<circle cx="435.5" cy="149.5" r="1.2"/>
<circle cx="456.5" cy="130.5" r="1.2"/>
<circle cx="443.5" cy="141.5" r="1.2"/>
<circle cx="445.5" cy="143.5" r="1.2"/>
<circle cx="447.5" cy="161.5" r="1.2"/>
<circle cx="449.5" cy="131.5" r="1.2"/>
<circle cx="435.5" cy="151.5" r="1.2"/>
<circle cx="460.5" cy="156.5" r="1.2"/>
<circle cx="452.5" cy="158.5" r="1.2"/>
<circle cx="467.5" cy="105.5" r="1.2"/>
<circle cx="480.5" cy="137.5" r="1.2"/>
<circle cx="461.5" cy="138.5" r="1.2"/>
<circle cx="451.5" cy="120.5" r="1.2"/>
<circle cx="429.5" cy="134.5" r="1.2"/>
<circle cx="449.5" cy="123.5" r="1.2"/>
<circle cx="452.5" cy="152.5" r="1.2"/>
<circle cx="454.5" cy="131.5" r="1.2"/>
<circle cx="450.5" cy="136.5" r="1.2"/>
<circle cx="441.5" cy="177.5" r="1.2"/>
<circle cx="463.5" cy="129.5" r="1.2"/>
<circle cx="452.5" cy="142.5" r="1.2"/>
<circle cx="465.5" cy="145.5" r="1.2"/>
<circle cx="439.5" cy="149.5" r="1.2"/>
<circle cx="468.5" cy="158.5" r="1.2"/>
<circle cx="468.5" cy="147.5" r="1.2"/>
<circle cx="433.5" cy="130.5" r="1.2"/>
<circle cx="448.5" cy="163.5" r="1.2"/>
<circle cx="444.5" cy="132.5" r="1.2"/>
<circle cx="468.5" cy="144.5" r="1.2"/>
<circle cx="456.5" cy="131.5" r="1.2"/>
<circle cx="440.5" cy="141.5" r="1.2"/>
<circle cx="449.5" cy="151.5" r="1.2"/>
<circle cx="442.5" cy="145.5" r="1.2"/>
<circle cx="450.5" cy="152.5" r="1.2"/>
<circle cx="443.5" cy="129.5" r="1.2"/>
<circle cx="453.5" cy="130.5" r="1.2"/>
<circle cx="468.5" cy="129.5" r="1.2"/>
<circle cx="484.5" cy="145.5" r="1.2"/>
<circle cx="462.5" cy="144.5" r="1.2"/>
<circle cx="478.5" cy="110.5" r="1.2"/>
<circle cx="420.5" cy="167.5" r="1.2"/>
<circle cx="460.5" cy="129.5" r="1.2"/>
<circle cx="461.5" cy="141.5" r="1.2"/>
<circle cx="456.5" cy="132.5" r="1.2"/>
<circle cx="448.5" cy="129.5" r="1.2"/>
<circle cx="415.5" cy="145.5" r="1.2"/>
<circle cx="434.5" cy="134.5" r="1.2"/>
<circle cx="446.5" cy="157.5" r="1.2"/>
<circle cx="455.5" cy="155.5" r="1.2"/>
<circle cx="435.5" cy="171.5" r="1.2"/>
<circle cx="449.5" cy="136.5" r="1.2"/>
<circle cx="465.5" cy="141.5" r="1.2"/>
<circle cx="465.5" cy="138.5" r="1.2"/>
<circle cx="448.5" cy="136.5" r="1.2"/>
<circle cx="466.5" cy="144.5" r="1.2"/>
<circle cx="446.5" cy="147.5" r="1.2"/>
<circle cx="451.5" cy="156.5" r="1.2"/>
<circle cx="465.5" cy="145.5" r="1.2"/>
<circle cx="456.5" cy="153.5" r="1.2"/>
<circle cx="455.5" cy="136.5" r="1.2"/>
<circle cx="443.5" cy="116.5" r="1.2"/>
<circle cx="455.5" cy="116.5" r="1.2"/>
<circle cx="464.5" cy="149.5" r="1.2"/>
<circle cx="444.5" cy="139.5" r="1.2"/>
<circle cx="450.5" cy="142.5" r="1.2"/>
<circle cx="445.5" cy="171.5" r="1.2"/>
<circle cx="446.5" cy="177.5" r="1.2"/>
<circle cx="455.5" cy="152.5" r="1.2"/>
<circle cx="438.5" cy="150.5" r="1.2"/>
<circle cx="454.5" cy="163.5" r="1.2"/>
<circle cx="423.5" cy="167.5" r="1.2"/>
<circle cx="418.5" cy="167.5" r="1.2"/>
<circle cx="474.5" cy="152.5" r="1.2"/>
<circle cx="459.5" cy="160.5" r="1.2"/>
<circle cx="454.5" cy="147.5" r="1.2"/>
<circle cx="449.5" cy="135.5" r="1.2"/>
<circle cx="476.5" cy="133.5" r="1.2"/>
<circle cx="451.5" cy="157.5" r="1.2"/>
<circle cx="458.5" cy="144.5" r="1.2"/>
<circle cx="462.5" cy="140.5" r="1.2"/>
<circle cx="476.5" cy="164.5" r="1.2"/>
<circle cx="445.5" cy="132.5" r="1.2"/>
<circle cx="444.5" cy="157.5" r="1.2"/>
<circle cx="445.5" cy="165.5" r="1.2"/>
<circle cx="451.5" cy="107.5" r="1.2"/>
<circle cx="467.5" cy="154.5" r="1.2"/>
<circle cx="436.5" cy="153.5" r="1.2"/>
<circle cx="465.5" cy="151.5" r="1.2"/>
<circle cx="439.5" cy="134.5" r="1.2"/>
<circle cx="463.5" cy="145.5" r="1.2"/>
<circle cx="432.5" cy="171.5" r="1.2"/>
<circle cx="439.5" cy="179.5" r="1.2"/>
<circle cx="461.5" cy="149.5" r="1.2"/>
<circle cx="457.5" cy="114.5" r="1.2"/>
<circle cx="467.5" cy="155.5" r="1.2"/>
<circle cx="463.5" cy="123.5" r="1.2"/>
<circle cx="438.5" cy="161.5" r="1.2"/>
<circle cx="448.5" cy="167.5" r="1.2"/>
<circle cx="472.5" cy="172.5" r="1.2"/>
<circle cx="432.5" cy="152.5" r="1.2"/>
<circle cx="446.5" cy="142.5" r="1.2"/>
<circle cx="454.5" cy="145.5" r="1.2"/>
<circle cx="467.5" cy="169.5" r="1.2"/>
<circle cx="449.5" cy="154.5" r="1.2"/>
<circle cx="451.5" cy="140.5" r="1.2"/>
<circle cx="435.5" cy="157.5" r="1.2"/>
<circle cx="462.5" cy="135.5" r="1.2"/>
<circle cx="439.5" cy="117.5" r="1.2"/>
<circle cx="485.5" cy="154.5" r="1.2"/>
<circle cx="454.5" cy="105.5" r="1.2"/>
<circle cx="461.5" cy="137.5" r="1.2"/>
<circle cx="446.5" cy="152.5" r="1.2"/>
<circle cx="446.5" cy="152.5" r="1.2"/>
<circle cx="461.5" cy="146.5" r="1.2"/>
<circle cx="443.5" cy="163.5" r="1.2"/>
<circle cx="449.5" cy="157.5" r="1.2"/>
<circle cx="447.5" cy="129.5" r="1.2"/>
<circle cx="455.5" cy="134.5" r="1.2"/>
<circle cx="455.5" cy="141.5" r="1.2"/>
<circle cx="447.5" cy="149.5" r="1.2"/>
<circle cx="461.5" cy="156.5" r="1.2"/>
<circle cx="470.5" cy="137.5" r="1.2"/>
<circle cx="438.5" cy="154.5" r="1.2"/>
<circle cx="439.5" cy="144.5" r="1.2"/>
<circle cx="438.5" cy="130.5" r="1.2"/>
<circle cx="437.5" cy="180.5" r="1.2"/>
<circle cx="438.5" cy="176.5" r="1.2"/>
<circle cx="449.5" cy="128.5" r="1.2"/>
<circle cx="459.5" cy="160.5" r="1.2"/>
<circle cx="438.5" cy="121.5" r="1.2"/>
<circle cx="454.5" cy="142.5" r="1.2"/>
<circle cx="466.5" cy="103.5" r="1.2"/>
<circle cx="469.5" cy="135.5" r="1.2"/>
<circle cx="455.5" cy="133.5" r="1.2"/>
<circle cx="440.5" cy="162.5" r="1.2"/>
<circle cx="450.5" cy="157.5" r="1.2"/>
<circle cx="448.5" cy="142.5" r="1.2"/>
<circle cx="485.5" cy="145.5" r="1.2"/>
<circle cx="448.5" cy="146.5" r="1.2"/>
<circle cx="456.5" cy="126.5" r="1.2"/>
<circle cx="442.5" cy="158.5" r="1.2"/>
<circle cx="424.5" cy="164.5" r="1.2"/>
<circle cx="458.5" cy="140.5" r="1.2"/>
<circle cx="434.5" cy="154.5" r="1.2"/>
<circle cx="450.5" cy="136.5" r="1.2"/>
<circle cx="440.5" cy="150.5" r="1.2"/>
<circle cx="422.5" cy="169.5" r="1.2"/>
<circle cx="474.5" cy="168.5" r="1.2"/>
<circle cx="444.5" cy="142.5" r="1.2"/>
<circle cx="444.5" cy="157.5" r="1.2"/>
<circle cx="448.5" cy="144.5" r="1.2"/>
<circle cx="448.5" cy="171.5" r="1.2"/>
<circle cx="447.5" cy="157.5" r="1.2"/>
<circle cx="441.5" cy="143.5" r="1.2"/>
<circle cx="459.5" cy="127.5" r="1.2"/>
<circle cx="442.5" cy="132.5" r="1.2"/>
<circle cx="467.5" cy="121.5" r="1.2"/>
<circle cx="471.5" cy="139.5" r="1.2"/>
<circle cx="447.5" cy="132.5" r="1.2"/>
<circle cx="429.5" cy="147.5" r="1.2"/>
<circle cx="441.5" cy="151.5" r="1.2"/>
<circle cx="423.5" cy="164.5" r="1.2"/>
<circle cx="449.5" cy="131.5" r="1.2"/>
<circle cx="465.5" cy="140.5" r="1.2"/>
<circle cx="447.5" cy="156.5" r="1.2"/>
<circle cx="456.5" cy="145.5" r="1.2"/>
<circle cx="459.5" cy="115.5" r="1.2"/>
<circle cx="449.5" cy="165.5" r="1.2"/>
<circle cx="436.5" cy="169.5" r="1.2"/>
<circle cx="431.5" cy="130.5" r="1.2"/>
<circle cx="453.5" cy="165.5" r="1.2"/>
<circle cx="459.5" cy="122.5" r="1.2"/>
<circle cx="444.5" cy="155.5" r="1.2"/>
<circle cx="444.5" cy="141.5" r="1.2"/>
<circle cx="459.5" cy="123.5" r="1.2"/>
<circle cx="468.5" cy="121.5" r="1.2"/>
<circle cx="470.5" cy="128.5" r="1.2"/>
<circle cx="426.5" cy="152.5" r="1.2"/>
<circle cx="454.5" cy="148.5" r="1.2"/>
<circle cx="463.5" cy="145.5" r="1.2"/>
<circle cx="435.5" cy="127.5" r="1.2"/>
<circle cx="460.5" cy="137.5" r="1.2"/>
<circle cx="464.5" cy="124.5" r="1.2"/>
<circle cx="455.5" cy="178.5" r="1.2"/>
<circle cx="439.5" cy="153.5" r="1.2"/>
<circle cx="434.5" cy="145.5" r="1.2"/>
<circle cx="468.5" cy="145.5" r="1.2"/>
<circle cx="432.5" cy="119.5" r="1.2"/>
<circle cx="443.5" cy="164.5" r="1.2"/>
<circle cx="480.5" cy="248.5" r="1.2"/>
<circle cx="468.5" cy="245.5" r="1.2"/>
<circle cx="470.5" cy="257.5" r="1.2"/>
<circle cx="479.5" cy="245.5" r="1.2"/>
<circle cx="469.5" cy="248.5" r="1.2"/>
<circle cx="476.5" cy="232.5" r="1.2"/>
<circle cx="468.5" cy="241.5" r="1.2"/>
<circle cx="476.5" cy="251.5" r="1.2"/>
<circle cx="487.5" cy="245.5" r="1.2"/>
<circle cx="494.5" cy="248.5" r="1.2"/>
<circle cx="469.5" cy="254.5" r="1.2"/>
<circle cx="484.5" cy="247.5" r="1.2"/>
<circle cx="495.5" cy="248.5" r="1.2"/>
<circle cx="491.5" cy="240.5" r="1.2"/>
<circle cx="479.5" cy="260.5" r="1.2"/>
<circle cx="461.5" cy="260.5" r="1.2"/>
<circle cx="498.5" cy="256.5" r="1.2"/>
<circle cx="493.5" cy="247.5" r="1.2"/>
<circle cx="500.5" cy="244.5" r="1.2"/>
<circle cx="476.5" cy="252.5" r="1.2"/>
<circle cx="478.5" cy="249.5" r="1.2"/>
<circle cx="470.5" cy="251.5" r="1.2"/>
<circle cx="498.5" cy="262.5" r="1.2"/>
<circle cx="480.5" cy="257.5" r="1.2"/>
<circle cx="479.5" cy="245.5" r="1.2"/>
<circle cx="476.5" cy="245.5" r="1.2"/>
<circle cx="456.5" cy="243.5" r="1.2"/>
<circle cx="469.5" cy="246.5" r="1.2"/>
<circle cx="479.5" cy="268.5" r="1.2"/>
<circle cx="467.5" cy="249.5" r="1.2"/>
<circle cx="498.5" cy="249.5" r="1.2"/>
<circle cx="480.5" cy="260.5" r="1.2"/>
<circle cx="496.5" cy="239.5" r="1.2"/>
<circle cx="477.5" cy="252.5" r="1.2"/>
<circle cx="455.5" cy="245.5" r="1.2"/>
<circle cx="513.5" cy="246.5" r="1.2"/>
<circle cx="494.5" cy="247.5" r="1.2"/>
<circle cx="464.5" cy="242.5" r="1.2"/>
<circle cx="461.5" cy="252.5" r="1.2"/>
<circle cx="481.5" cy="245.5" r="1.2"/>
<circle cx="482.5" cy="248.5" r="1.2"/>
<circle cx="467.5" cy="259.5" r="1.2"/>
<circle cx="478.5" cy="255.5" r="1.2"/>
<circle cx="460.5" cy="259.5" r="1.2"/>
<circle cx="470.5" cy="263.5" r="1.2"/>
<circle cx="459.5" cy="261.5" r="1.2"/>
<circle cx="479.5" cy="248.5" r="1.2"/>
<circle cx="504.5" cy="260.5" r="1.2"/>
<circle cx="468.5" cy="244.5" r="1.2"/>
<circle cx="474.5" cy="253.5" r="1.2"/>
<circle cx="500.5" cy="253.5" r="1.2"/>
<circle cx="462.5" cy="259.5" r="1.2"/>
<circle cx="481.5" cy="249.5" r="1.2"/>
<circle cx="459.5" cy="257.5" r="1.2"/>
<circle cx="484.5" cy="247.5" r="1.2"/>
<circle cx="468.5" cy="246.5" r="1.2"/>
<circle cx="485.5" cy="262.5" r="1.2"/>
<circle cx="473.5" cy="248.5" r="1.2"/>
<circle cx="469.5" cy="265.5" r="1.2"/>
<circle cx="473.5" cy="246.5" r="1.2"/>
<circle cx="498.5" cy="265.5" r="1.2"/>
<circle cx="512.5" cy="258.5" r="1.2"/>
<circle cx="490.5" cy="242.5" r="1.2"/>
<circle cx="490.5" cy="250.5" r="1.2"/>
<circle cx="462.5" cy="246.5" r="1.2"/>
<circle cx="467.5" cy="267.5" r="1.2"/>
<circle cx="514.5" cy="246.5" r="1.2"/>
<circle cx="501.5" cy="257.5" r="1.2"/>
<circle cx="496.5" cy="240.5" r="1.2"/>
<circle cx="498.5" cy="251.5" r="1.2"/>
<circle cx="461.5" cy="252.5" r="1.2"/>
<circle cx="448.5" cy="262.5" r="1.2"/>
<circle cx="478.5" cy="257.5" r="1.2"/>
<circle cx="475.5" cy="251.5" r="1.2"/>
<circle cx="503.5" cy="242.5" r="1.2"/>
<circle cx="476.5" cy="243.5" r="1.2"/>
<circle cx="467.5" cy="253.5" r="1.2"/>
<circle cx="489.5" cy="259.5" r="1.2"/>
<circle cx="473.5" cy="259.5" r="1.2"/>
<circle cx="479.5" cy="240.5" r="1.2"/>
<circle cx="467.5" cy="249.5" r="1.2"/>
<circle cx="465.5" cy="258.5" r="1.2"/>
<circle cx="461.5" cy="241.5" r="1.2"/>
<circle cx="508.5" cy="247.5" r="1.2"/>
<circle cx="467.5" cy="246.5" r="1.2"/>
<circle cx="473.5" cy="245.5" r="1.2"/>
<circle cx="481.5" cy="249.5" r="1.2"/>
<circle cx="485.5" cy="254.5" r="1.2"/>
<circle cx="472.5" cy="262.5" r="1.2"/>
<circle cx="471.5" cy="260.5" r="1.2"/>
<circle cx="475.5" cy="257.5" r="1.2"/>
<circle cx="478.5" cy="248.5" r="1.2"/>
<circle cx="458.5" cy="256.5" r="1.2"/>
<circle cx="464.5" cy="246.5" r="1.2"/>
<circle cx="500.5" cy="245.5" r="1.2"/>
<circle cx="472.5" cy="241.5" r="1.2"/>
<circle cx="457.5" cy="241.5" r="1.2"/>
<circle cx="468.5" cy="269.5" r="1.2"/>
<circle cx="512.5" cy="240.5" r="1.2"/>
<circle cx="463.5" cy="249.5" r="1.2"/>
<circle cx="474.5" cy="250.5" r="1.2"/>
<circle cx="457.5" cy="255.5" r="1.2"/>
<circle cx="483.5" cy="249.5" r="1.2"/>
<circle cx="493.5" cy="250.5" r="1.2"/>
<circle cx="508.5" cy="255.5" r="1.2"/>
<circle cx="480.5" cy="263.5" r="1.2"/>
<circle cx="460.5" cy="242.5" r="1.2"/>
<circle cx="464.5" cy="247.5" r="1.2"/>
<circle cx="476.5" cy="257.5" r="1.2"/>
<circle cx="472.5" cy="254.5" r="1.2"/>
<circle cx="470.5" cy="246.5" r="1.2"/>
<circle cx="486.5" cy="254.5" r="1.2"/>
<circle cx="465.5" cy="249.5" r="1.2"/>
<circle cx="476.5" cy="244.5" r="1.2"/>
<circle cx="512.5" cy="245.5" r="1.2"/>
<circle cx="476.5" cy="252.5" r="1.2"/>
<circle cx="466.5" cy="257.5" r="1.2"/>
<circle cx="464.5" cy="253.5" r="1.2"/>
<circle cx="471.5" cy="246.5" r="1.2"/>
<circle cx="472.5" cy="252.5" r="1.2"/>
<circle cx="461.5" cy="240.5" r="1.2"/>
<circle cx="484.5" cy="239.5" r="1.2"/>
<circle cx="488.5" cy="241.5" r="1.2"/>
<circle cx="474.5" cy="246.5" r="1.2"/>
<circle cx="513.5" cy="259.5" r="1.2"/>
<circle cx="493.5" cy="239.5" r="1.2"/>
<circle cx="483.5" cy="245.5" r="1.2"/>
<circle cx="494.5" cy="255.5" r="1.2"/>
<circle cx="482.5" cy="256.5" r="1.2"/>
<circle cx="468.5" cy="255.5" r="1.2"/>
<circle cx="475.5" cy="250.5" r="1.2"/>
<circle cx="483.5" cy="260.5" r="1.2"/>
<circle cx="504.5" cy="243.5" r="1.2"/>
<circle cx="487.5" cy="253.5" r="1.2"/>
<circle cx="476.5" cy="247.5" r="1.2"/>
<circle cx="483.5" cy="262.5" r="1.2"/>
<circle cx="487.5" cy="231.5" r="1.2"/>
<circle cx="452.5" cy="244.5" r="1.2"/>
<circle cx="482.5" cy="251.5" r="1.2"/>
<circle cx="496.5" cy="259.5" r="1.2"/>
<circle cx="479.5" cy="241.5" r="1.2"/>
<circle cx="474.5" cy="253.5" r="1.2"/>
<circle cx="479.5" cy="254.5" r="1.2"/>
<circle cx="498.5" cy="257.5" r="1.2"/>
<circle cx="489.5" cy="259.5" r="1.2"/>
<circle cx="486.5" cy="251.5" r="1.2"/>
<circle cx="442.5" cy="251.5" r="1.2"/>
<circle cx="462.5" cy="254.5" r="1.2"/>
<circle cx="498.5" cy="258.5" r="1.2"/>
<circle cx="463.5" cy="241.5" r="1.2"/>
<circle cx="479.5" cy="240.5" r="1.2"/>
<circle cx="481.5" cy="257.5" r="1.2"/>
<circle cx="476.5" cy="242.5" r="1.2"/>
<circle cx="490.5" cy="251.5" r="1.2"/>
<circle cx="478.5" cy="251.5" r="1.2"/>
<circle cx="469.5" cy="237.5" r="1.2"/>
<circle cx="477.5" cy="258.5" r="1.2"/>
<circle cx="470.5" cy="246.5" r="1.2"/>
<circle cx="486.5" cy="251.5" r="1.2"/>
<circle cx="468.5" cy="250.5" r="1.2"/>
<circle cx="454.5" cy="259.5" r="1.2"/>
<circle cx="488.5" cy="254.5" r="1.2"/>
<circle cx="482.5" cy="242.5" r="1.2"/>
<circle cx="486.5" cy="250.5" r="1.2"/>
<circle cx="506.5" cy="246.5" r="1.2"/>
<circle cx="472.5" cy="246.5" r="1.2"/>
<circle cx="483.5" cy="256.5" r="1.2"/>
<circle cx="478.5" cy="252.5" r="1.2"/>
<circle cx="450.5" cy="252.5" r="1.2"/>
<circle cx="473.5" cy="254.5" r="1.2"/>
<circle cx="455.5" cy="253.5" r="1.2"/>
<circle cx="476.5" cy="250.5" r="1.2"/>
<circle cx="461.5" cy="246.5" r="1.2"/>
<circle cx="460.5" cy="252.5" r="1.2"/>
<circle cx="495.5" cy="255.5" r="1.2"/>
<circle cx="470.5" cy="243.5" r="1.2"/>
<circle cx="472.5" cy="253.5" r="1.2"/>
<circle cx="480.5" cy="243.5" r="1.2"/>
<circle cx="447.5" cy="256.5" r="1.2"/>
<circle cx="463.5" cy="258.5" r="1.2"/>
<circle cx="465.5" cy="256.5" r="1.2"/>
<circle cx="481.5" cy="257.5" r="1.2"/>
<circle cx="479.5" cy="248.5" r="1.2"/>
<circle cx="467.5" cy="250.5" r="1.2"/>
<circle cx="499.5" cy="248.5" r="1.2"/>
<circle cx="468.5" cy="251.5" r="1.2"/>
<circle cx="465.5" cy="249.5" r="1.2"/>
<circle cx="489.5" cy="256.5" r="1.2"/>
<circle cx="474.5" cy="243.5" r="1.2"/>
<circle cx="470.5" cy="249.5" r="1.2"/>
<circle cx="463.5" cy="256.5" r="1.2"/>
<circle cx="470.5" cy="236.5" r="1.2"/>
<circle cx="472.5" cy="254.5" r="1.2"/>
<circle cx="469.5" cy="252.5" r="1.2"/>
<circle cx="486.5" cy="249.5" r="1.2"/>
<circle cx="504.5" cy="249.5" r="1.2"/>
<circle cx="496.5" cy="249.5" r="1.2"/>
<circle cx="485.5" cy="260.5" r="1.2"/>
<circle cx="475.5" cy="251.5" r="1.2"/>
<circle cx="474.5" cy="265.5" r="1.2"/>
<circle cx="489.5" cy="253.5" r="1.2"/>
<circle cx="471.5" cy="252.5" r="1.2"/>
<circle cx="474.5" cy="248.5" r="1.2"/>
<circle cx="460.5" cy="257.5" r="1.2"/>
<circle cx="481.5" cy="250.5" r="1.2"/>
<circle cx="472.5" cy="254.5" r="1.2"/>
<circle cx="466.5" cy="251.5" r="1.2"/>
<circle cx="493.5" cy="258.5" r="1.2"/>
<circle cx="497.5" cy="245.5" r="1.2"/>
<circle cx="471.5" cy="245.5" r="1.2"/>
<circle cx="228.5" cy="278.5" r="1.2"/>
<circle cx="230.5" cy="271.5" r="1.2"/>
<circle cx="237.5" cy="273.5" r="1.2"/>
<circle cx="240.5" cy="283.5" r="1.2"/>
<circle cx="243.5" cy="279.5" r="1.2"/>
<circle cx="235.5" cy="272.5" r="1.2"/>
<circle cx="231.5" cy="276.5" r="1.2"/>
<circle cx="232.5" cy="269.5" r="1.2"/>
<circle cx="244.5" cy="269.5" r="1.2"/>
<circle cx="232.5" cy="273.5" r="1.2"/>
<circle cx="233.5" cy="267.5" r="1.2"/>
<circle cx="224.5" cy="261.5" r="1.2"/>
<circle cx="236.5" cy="274.5" r="1.2"/>
<circle cx="242.5" cy="266.5" r="1.2"/>
<circle cx="242.5" cy="266.5" r="1.2"/>
<circle cx="241.5" cy="265.5" r="1.2"/>
<circle cx="249.5" cy="274.5" r="1.2"/>
<circle cx="251.5" cy="272.5" r="1.2"/>
<circle cx="240.5" cy="276.5" r="1.2"/>
<circle cx="237.5" cy="266.5" r="1.2"/>
<circle cx="230.5" cy="265.5" r="1.2"/>
<circle cx="242.5" cy="270.5" r="1.2"/>
<circle cx="223.5" cy="268.5" r="1.2"/>
<circle cx="245.5" cy="276.5" r="1.2"/>
<circle cx="240.5" cy="284.5" r="1.2"/>
<circle cx="245.5" cy="276.5" r="1.2"/>
<circle cx="246.5" cy="282.5" r="1.2"/>
<circle cx="245.5" cy="273.5" r="1.2"/>
<circle cx="246.5" cy="277.5" r="1.2"/>
<circle cx="235.5" cy="258.5" r="1.2"/>
<circle cx="233.5" cy="273.5" r="1.2"/>
<circle cx="238.5" cy="276.5" r="1.2"/>
<circle cx="249.5" cy="264.5" r="1.2"/>
<circle cx="234.5" cy="279.5" r="1.2"/>
<circle cx="249.5" cy="267.5" r="1.2"/>
<circle cx="246.5" cy="266.5" r="1.2"/>
<circle cx="233.5" cy="270.5" r="1.2"/>
<circle cx="229.5" cy="276.5" r="1.2"/>
<circle cx="247.5" cy="276.5" r="1.2"/>
<circle cx="257.5" cy="274.5" r="1.2"/>
<circle cx="235.5" cy="266.5" r="1.2"/>
<circle cx="253.5" cy="271.5" r="1.2"/>
<circle cx="230.5" cy="267.5" r="1.2"/>
<circle cx="250.5" cy="276.5" r="1.2"/>
<circle cx="234.5" cy="264.5" r="1.2"/>
<circle cx="241.5" cy="277.5" r="1.2"/>
<circle cx="237.5" cy="274.5" r="1.2"/>
<circle cx="242.5" cy="271.5" r="1.2"/>
<circle cx="249.5" cy="269.5" r="1.2"/>
<circle cx="228.5" cy="266.5" r="1.2"/>
<circle cx="247.5" cy="270.5" r="1.2"/>
<circle cx="248.5" cy="276.5" r="1.2"/>
<circle cx="232.5" cy="264.5" r="1.2"/>
<circle cx="232.5" cy="281.5" r="1.2"/>
<circle cx="248.5" cy="277.5" r="1.2"/>
<circle cx="237.5" cy="278.5" r="1.2"/>
<circle cx="230.5" cy="275.5" r="1.2"/>
<circle cx="237.5" cy="268.5" r="1.2"/>
<circle cx="222.5" cy="263.5" r="1.2"/>
<circle cx="231.5" cy="275.5" r="1.2"/>
<circle cx="245.5" cy="272.5" r="1.2"/>
<circle cx="228.5" cy="258.5" r="1.2"/>
<circle cx="233.5" cy="268.5" r="1.2"/>
<circle cx="241.5" cy="264.5" r="1.2"/>
<circle cx="236.5" cy="265.5" r="1.2"/>
<circle cx="234.5" cy="264.5" r="1.2"/>
<circle cx="234.5" cy="272.5" r="1.2"/>
<circle cx="254.5" cy="272.5" r="1.2"/>
<circle cx="241.5" cy="259.5" r="1.2"/>
<circle cx="242.5" cy="276.5" r="1.2"/>
<circle cx="245.5" cy="278.5" r="1.2"/>
<circle cx="248.5" cy="266.5" r="1.2"/>
<circle cx="235.5" cy="273.5" r="1.2"/>
<circle cx="241.5" cy="271.5" r="1.2"/>
<circle cx="232.5" cy="266.5" r="1.2"/>
<circle cx="224.5" cy="270.5" r="1.2"/>
<circle cx="237.5" cy="272.5" r="1.2"/>
<circle cx="242.5" cy="278.5" r="1.2"/>
<circle cx="244.5" cy="273.5" r="1.2"/>
<circle cx="235.5" cy="277.5" r="1.2"/>
<circle cx="231.5" cy="267.5" r="1.2"/>
<circle cx="232.5" cy="269.5" r="1.2"/>
<circle cx="248.5" cy="267.5" r="1.2"/>
<circle cx="252.5" cy="275.5" r="1.2"/>
<circle cx="231.5" cy="264.5" r="1.2"/>
<circle cx="242.5" cy="265.5" r="1.2"/>
<circle cx="240.5" cy="265.5" r="1.2"/>
<circle cx="246.5" cy="269.5" r="1.2"/>
<circle cx="244.5" cy="270.5" r="1.2"/>
<circle cx="241.5" cy="270.5" r="1.2"/>
<circle cx="247.5" cy="275.5" r="1.2"/>
<circle cx="253.5" cy="274.5" r="1.2"/>
<circle cx="247.5" cy="273.5" r="1.2"/>
<circle cx="238.5" cy="260.5" r="1.2"/>
<circle cx="237.5" cy="277.5" r="1.2"/>
<circle cx="234.5" cy="271.5" r="1.2"/>
<circle cx="256.5" cy="273.5" r="1.2"/>
<circle cx="247.5" cy="278.5" r="1.2"/>
<circle cx="242.5" cy="268.5" r="1.2"/>
<circle cx="253.5" cy="278.5" r="1.2"/>
<circle cx="244.5" cy="270.5" r="1.2"/>
<circle cx="232.5" cy="269.5" r="1.2"/>
<circle cx="238.5" cy="283.5" r="1.2"/>
<circle cx="244.5" cy="269.5" r="1.2"/>
<circle cx="236.5" cy="277.5" r="1.2"/>
<circle cx="251.5" cy="272.5" r="1.2"/>
<circle cx="247.5" cy="265.5" r="1.2"/>
<circle cx="236.5" cy="266.5" r="1.2"/>
<circle cx="238.5" cy="271.5" r="1.2"/>
<circle cx="239.5" cy="271.5" r="1.2"/>
<circle cx="248.5" cy="272.5" r="1.2"/>
<circle cx="239.5" cy="272.5" r="1.2"/>
<circle cx="242.5" cy="276.5" r="1.2"/>
<circle cx="236.5" cy="270.5" r="1.2"/>
<circle cx="235.5" cy="271.5" r="1.2"/>
<circle cx="235.5" cy="259.5" r="1.2"/>
<circle cx="250.5" cy="271.5" r="1.2"/>
<circle cx="239.5" cy="259.5" r="1.2"/>
<circle cx="242.5" cy="272.5" r="1.2"/>
<circle cx="242.5" cy="270.5" r="1.2"/>
<circle cx="250.5" cy="273.5" r="1.2"/>
<circle cx="256.5" cy="279.5" r="1.2"/>
<circle cx="245.5" cy="277.5" r="1.2"/>
<circle cx="254.5" cy="276.5" r="1.2"/>
<circle cx="239.5" cy="266.5" r="1.2"/>
<circle cx="249.5" cy="279.5" r="1.2"/>
<circle cx="237.5" cy="278.5" r="1.2"/>
<circle cx="241.5" cy="272.5" r="1.2"/>
<circle cx="237.5" cy="274.5" r="1.2"/>
<circle cx="237.5" cy="274.5" r="1.2"/>
<circle cx="244.5" cy="264.5" r="1.2"/>
<circle cx="225.5" cy="268.5" r="1.2"/>
<circle cx="237.5" cy="268.5" r="1.2"/>
<circle cx="232.5" cy="270.5" r="1.2"/>
<circle cx="232.5" cy="265.5" r="1.2"/>
<circle cx="240.5" cy="272.5" r="1.2"/>
<circle cx="243.5" cy="273.5" r="1.2"/>
<circle cx="228.5" cy="265.5" r="1.2"/>
<circle cx="242.5" cy="272.5" r="1.2"/>
<circle cx="247.5" cy="266.5" r="1.2"/>
<circle cx="231.5" cy="273.5" r="1.2"/>
<circle cx="252.5" cy="266.5" r="1.2"/>
<circle cx="234.5" cy="276.5" r="1.2"/>
<circle cx="235.5" cy="273.5" r="1.2"/>
<circle cx="228.5" cy="268.5" r="1.2"/>
<circle cx="230.5" cy="275.5" r="1.2"/>
<circle cx="247.5" cy="276.5" r="1.2"/>
<circle cx="239.5" cy="267.5" r="1.2"/>
<circle cx="246.5" cy="274.5" r="1.2"/>
<circle cx="240.5" cy="275.5" r="1.2"/>
<circle cx="253.5" cy="270.5" r="1.2"/>
<circle cx="220.5" cy="267.5" r="1.2"/>
<circle cx="252.5" cy="268.5" r="1.2"/>
<circle cx="272.5" cy="261.5" r="1.2"/>
<circle cx="230.5" cy="270.5" r="1.2"/>
<circle cx="217.5" cy="263.5" r="1.2"/>
<circle cx="242.5" cy="238.5" r="1.2"/>
<circle cx="241.5" cy="297.5" r="1.2"/>
<circle cx="228.5" cy="267.5" r="1.2"/>
<circle cx="218.5" cy="277.5" r="1.2"/>
<circle cx="233.5" cy="265.5" r="1.2"/>
<circle cx="237.5" cy="281.5" r="1.2"/>
<circle cx="254.5" cy="281.5" r="1.2"/>
<circle cx="231.5" cy="286.5" r="1.2"/>
<circle cx="226.5" cy="260.5" r="1.2"/>
<circle cx="211.5" cy="266.5" r="1.2"/>
<circle cx="252.5" cy="278.5" r="1.2"/>
<circle cx="244.5" cy="286.5" r="1.2"/>
<circle cx="263.5" cy="262.5" r="1.2"/>
<circle cx="244.5" cy="293.5" r="1.2"/>
<circle cx="221.5" cy="255.5" r="1.2"/>
<circle cx="270.5" cy="274.5" r="1.2"/>
<circle cx="262.5" cy="283.5" r="1.2"/>
<circle cx="236.5" cy="270.5" r="1.2"/>
<circle cx="247.5" cy="291.5" r="1.2"/>
<circle cx="256.5" cy="258.5" r="1.2"/>
<circle cx="219.5" cy="283.5" r="1.2"/>
<circle cx="246.5" cy="280.5" r="1.2"/>
<circle cx="198.5" cy="252.5" r="1.2"/>
<circle cx="242.5" cy="277.5" r="1.2"/>
<circle cx="277.5" cy="277.5" r="1.2"/>
<circle cx="226.5" cy="267.5" r="1.2"/>
<circle cx="221.5" cy="276.5" r="1.2"/>
<circle cx="247.5" cy="279.5" r="1.2"/>
<circle cx="232.5" cy="249.5" r="1.2"/>
<circle cx="255.5" cy="264.5" r="1.2"/>
<circle cx="249.5" cy="267.5" r="1.2"/>
<circle cx="265.5" cy="277.5" r="1.2"/>
<circle cx="272.5" cy="290.5" r="1.2"/>
<circle cx="235.5" cy="287.5" r="1.2"/>
<circle cx="234.5" cy="263.5" r="1.2"/>
<circle cx="265.5" cy="285.5" r="1.2"/>
<circle cx="240.5" cy="275.5" r="1.2"/>
<circle cx="227.5" cy="283.5" r="1.2"/>
<circle cx="241.5" cy="292.5" r="1.2"/>
<circle cx="242.5" cy="271.5" r="1.2"/>
<circle cx="228.5" cy="281.5" r="1.2"/>
<circle cx="215.5" cy="243.5" r="1.2"/>
<circle cx="216.5" cy="247.5" r="1.2"/>
<circle cx="250.5" cy="278.5" r="1.2"/>
<circle cx="219.5" cy="254.5" r="1.2"/>
<circle cx="270.5" cy="289.5" r="1.2"/>
<circle cx="234.5" cy="257.5" r="1.2"/>
<circle cx="246.5" cy="248.5" r="1.2"/>
<circle cx="230.5" cy="262.5" r="1.2"/>
<circle cx="218.5" cy="240.5" r="1.2"/>
<circle cx="227.5" cy="295.5" r="1.2"/>
<circle cx="237.5" cy="272.5" r="1.2"/>
<circle cx="273.5" cy="282.5" r="1.2"/>
<circle cx="239.5" cy="264.5" r="1.2"/>
<circle cx="278.5" cy="396.5" r="1.2"/>
<circle cx="269.5" cy="383.5" r="1.2"/>
<circle cx="249.5" cy="379.5" r="1.2"/>
<circle cx="254.5" cy="395.5" r="1.2"/>
<circle cx="272.5" cy="412.5" r="1.2"/>
<circle cx="271.5" cy="378.5" r="1.2"/>
<circle cx="252.5" cy="392.5" r="1.2"/>
<circle cx="250.5" cy="374.5" r="1.2"/>
<circle cx="265.5" cy="384.5" r="1.2"/>
<circle cx="269.5" cy="398.5" r="1.2"/>
<circle cx="257.5" cy="406.5" r="1.2"/>
<circle cx="265.5" cy="386.5" r="1.2"/>
<circle cx="247.5" cy="362.5" r="1.2"/>
<circle cx="264.5" cy="427.5" r="1.2"/>
<circle cx="254.5" cy="403.5" r="1.2"/>
<circle cx="270.5" cy="356.5" r="1.2"/>
<circle cx="246.5" cy="377.5" r="1.2"/>
<circle cx="250.5" cy="375.5" r="1.2"/>
<circle cx="263.5" cy="369.5" r="1.2"/>
<circle cx="238.5" cy="352.5" r="1.2"/>
<circle cx="239.5" cy="371.5" r="1.2"/>
<circle cx="271.5" cy="381.5" r="1.2"/>
<circle cx="239.5" cy="384.5" r="1.2"/>
<circle cx="247.5" cy="379.5" r="1.2"/>
<circle cx="271.5" cy="410.5" r="1.2"/>
<circle cx="261.5" cy="377.5" r="1.2"/>
<circle cx="262.5" cy="380.5" r="1.2"/>
<circle cx="277.5" cy="388.5" r="1.2"/>
<circle cx="267.5" cy="381.5" r="1.2"/>
<circle cx="281.5" cy="424.5" r="1.2"/>
<circle cx="273.5" cy="396.5" r="1.2"/>
<circle cx="249.5" cy="393.5" r="1.2"/>
<circle cx="225.5" cy="372.5" r="1.2"/>
<circle cx="243.5" cy="369.5" r="1.2"/>
<circle cx="231.5" cy="350.5" r="1.2"/>
<circle cx="258.5" cy="388.5" r="1.2"/>
<circle cx="243.5" cy="387.5" r="1.2"/>
<circle cx="236.5" cy="381.5" r="1.2"/>
<circle cx="254.5" cy="385.5" r="1.2"/>
<circle cx="232.5" cy="374.5" r="1.2"/>
<circle cx="240.5" cy="373.5" r="1.2"/>
<circle cx="282.5" cy="388.5" r="1.2"/>
<circle cx="249.5" cy="402.5" r="1.2"/>
<circle cx="232.5" cy="394.5" r="1.2"/>
<circle cx="265.5" cy="399.5" r="1.2"/>
<circle cx="255.5" cy="391.5" r="1.2"/>
<circle cx="255.5" cy="363.5" r="1.2"/>
<circle cx="243.5" cy="381.5" r="1.2"/>
<circle cx="241.5" cy="363.5" r="1.2"/>
<circle cx="238.5" cy="390.5" r="1.2"/>
<circle cx="232.5" cy="391.5" r="1.2"/>
<circle cx="261.5" cy="350.5" r="1.2"/>
<circle cx="238.5" cy="360.5" r="1.2"/>
<circle cx="257.5" cy="400.5" r="1.2"/>
<circle cx="249.5" cy="383.5" r="1.2"/>
<circle cx="243.5" cy="349.5" r="1.2"/>
<circle cx="224.5" cy="361.5" r="1.2"/>
<circle cx="259.5" cy="393.5" r="1.2"/>
<circle cx="256.5" cy="371.5" r="1.2"/>
<circle cx="256.5" cy="377.5" r="1.2"/>
<circle cx="264.5" cy="416.5" r="1.2"/>
<circle cx="276.5" cy="362.5" r="1.2"/>
<circle cx="269.5" cy="376.5" r="1.2"/>
<circle cx="232.5" cy="372.5" r="1.2"/>
<circle cx="241.5" cy="384.5" r="1.2"/>
<circle cx="268.5" cy="401.5" r="1.2"/>
<circle cx="252.5" cy="408.5" r="1.2"/>
<circle cx="251.5" cy="380.5" r="1.2"/>
<circle cx="243.5" cy="386.5" r="1.2"/>
<circle cx="282.5" cy="415.5" r="1.2"/>
<circle cx="238.5" cy="385.5" r="1.2"/>
<circle cx="272.5" cy="362.5" r="1.2"/>
<circle cx="259.5" cy="395.5" r="1.2"/>
<circle cx="247.5" cy="364.5" r="1.2"/>
<circle cx="240.5" cy="354.5" r="1.2"/>
<circle cx="275.5" cy="393.5" r="1.2"/>
<circle cx="263.5" cy="377.5" r="1.2"/>
<circle cx="277.5" cy="410.5" r="1.2"/>
<circle cx="272.5" cy="397.5" r="1.2"/>
<circle cx="242.5" cy="374.5" r="1.2"/>
<circle cx="250.5" cy="394.5" r="1.2"/>
<circle cx="229.5" cy="382.5" r="1.2"/>
<circle cx="276.5" cy="366.5" r="1.2"/>
<circle cx="264.5" cy="371.5" r="1.2"/>
<circle cx="246.5" cy="379.5" r="1.2"/>
<circle cx="258.5" cy="400.5" r="1.2"/>
<circle cx="238.5" cy="373.5" r="1.2"/>
<circle cx="249.5" cy="394.5" r="1.2"/>
<circle cx="259.5" cy="389.5" r="1.2"/>
<circle cx="269.5" cy="390.5" r="1.2"/>
<circle cx="249.5" cy="378.5" r="1.2"/>
<circle cx="251.5" cy="390.5" r="1.2"/>
<circle cx="247.5" cy="368.5" r="1.2"/>
<circle cx="263.5" cy="369.5" r="1.2"/>
<circle cx="228.5" cy="374.5" r="1.2"/>
<circle cx="247.5" cy="376.5" r="1.2"/>
<circle cx="247.5" cy="386.5" r="1.2"/>
<circle cx="266.5" cy="386.5" r="1.2"/>
<circle cx="236.5" cy="354.5" r="1.2"/>
<circle cx="269.5" cy="398.5" r="1.2"/>
<circle cx="266.5" cy="399.5" r="1.2"/>
<circle cx="271.5" cy="394.5" r="1.2"/>
<circle cx="241.5" cy="381.5" r="1.2"/>
<circle cx="242.5" cy="373.5" r="1.2"/>
<circle cx="256.5" cy="383.5" r="1.2"/>
<circle cx="245.5" cy="429.5" r="1.2"/>
<circle cx="255.5" cy="410.5" r="1.2"/>
<circle cx="257.5" cy="368.5" r="1.2"/>
<circle cx="258.5" cy="390.5" r="1.2"/>
<circle cx="251.5" cy="382.5" r="1.2"/>
<circle cx="245.5" cy="386.5" r="1.2"/>
<circle cx="239.5" cy="358.5" r="1.2"/>
<circle cx="253.5" cy="368.5" r="1.2"/>
<circle cx="250.5" cy="379.5" r="1.2"/>
<circle cx="251.5" cy="374.5" r="1.2"/>
<circle cx="266.5" cy="385.5" r="1.2"/>
<circle cx="243.5" cy="388.5" r="1.2"/>
<circle cx="279.5" cy="400.5" r="1.2"/>
<circle cx="249.5" cy="359.5" r="1.2"/>
<circle cx="270.5" cy="383.5" r="1.2"/>
<circle cx="247.5" cy="346.5" r="1.2"/>
<circle cx="260.5" cy="378.5" r="1.2"/>
<circle cx="251.5" cy="401.5" r="1.2"/>
<circle cx="233.5" cy="365.5" r="1.2"/>
<circle cx="260.5" cy="389.5" r="1.2"/>
<circle cx="236.5" cy="393.5" r="1.2"/>
<circle cx="249.5" cy="400.5" r="1.2"/>
<circle cx="267.5" cy="373.5" r="1.2"/>
<circle cx="297.5" cy="393.5" r="1.2"/>
<circle cx="245.5" cy="390.5" r="1.2"/>
<circle cx="201.5" cy="362.5" r="1.2"/>
<circle cx="251.5" cy="367.5" r="1.2"/>
<circle cx="263.5" cy="379.5" r="1.2"/>
<circle cx="257.5" cy="374.5" r="1.2"/>
<circle cx="276.5" cy="409.5" r="1.2"/>
<circle cx="247.5" cy="398.5" r="1.2"/>
<circle cx="278.5" cy="377.5" r="1.2"/>
<circle cx="265.5" cy="405.5" r="1.2"/>
<circle cx="256.5" cy="387.5" r="1.2"/>
<circle cx="255.5" cy="385.5" r="1.2"/>
<circle cx="262.5" cy="392.5" r="1.2"/>
<circle cx="267.5" cy="386.5" r="1.2"/>
<circle cx="249.5" cy="381.5" r="1.2"/>
<circle cx="247.5" cy="367.5" r="1.2"/>
<circle cx="249.5" cy="376.5" r="1.2"/>
<circle cx="248.5" cy="400.5" r="1.2"/>
<circle cx="267.5" cy="404.5" r="1.2"/>
<circle cx="264.5" cy="382.5" r="1.2"/>
<circle cx="228.5" cy="382.5" r="1.2"/>
<circle cx="246.5" cy="389.5" r="1.2"/>
<circle cx="235.5" cy="362.5" r="1.2"/>
<circle cx="250.5" cy="375.5" r="1.2"/>
<circle cx="247.5" cy="374.5" r="1.2"/>
<circle cx="242.5" cy="376.5" r="1.2"/>
<circle cx="262.5" cy="386.5" r="1.2"/>
<circle cx="247.5" cy="394.5" r="1.2"/>
<circle cx="256.5" cy="379.5" r="1.2"/>
<circle cx="250.5" cy="391.5" r="1.2"/>
<circle cx="262.5" cy="351.5" r="1.2"/>
<circle cx="249.5" cy="375.5" r="1.2"/>
<circle cx="259.5" cy="421.5" r="1.2"/>
<circle cx="255.5" cy="393.5" r="1.2"/>
<circle cx="275.5" cy="397.5" r="1.2"/>
<circle cx="242.5" cy="379.5" r="1.2"/>
<circle cx="256.5" cy="391.5" r="1.2"/>
<circle cx="253.5" cy="401.5" r="1.2"/>
<circle cx="250.5" cy="369.5" r="1.2"/>
<circle cx="284.5" cy="388.5" r="1.2"/>
<circle cx="258.5" cy="368.5" r="1.2"/>
<circle cx="269.5" cy="367.5" r="1.2"/>
<circle cx="270.5" cy="393.5" r="1.2"/>
<circle cx="258.5" cy="382.5" r="1.2"/>
<circle cx="258.5" cy="382.5" r="1.2"/>
<circle cx="242.5" cy="405.5" r="1.2"/>
<circle cx="243.5" cy="405.5" r="1.2"/>
<circle cx="255.5" cy="383.5" r="1.2"/>
<circle cx="228.5" cy="359.5" r="1.2"/>
<circle cx="267.5" cy="388.5" r="1.2"/>
<circle cx="279.5" cy="369.5" r="1.2"/>
<circle cx="235.5" cy="358.5" r="1.2"/>
<circle cx="260.5" cy="380.5" r="1.2"/>
<circle cx="268.5" cy="400.5" r="1.2"/>
<circle cx="245.5" cy="389.5" r="1.2"/>
<circle cx="242.5" cy="377.5" r="1.2"/>
<circle cx="231.5" cy="385.5" r="1.2"/>
<circle cx="262.5" cy="388.5" r="1.2"/>
<circle cx="259.5" cy="412.5" r="1.2"/>
<circle cx="242.5" cy="384.5" r="1.2"/>
<circle cx="254.5" cy="391.5" r="1.2"/>
<circle cx="268.5" cy="391.5" r="1.2"/>
<circle cx="254.5" cy="382.5" r="1.2"/>
<circle cx="264.5" cy="395.5" r="1.2"/>
<circle cx="271.5" cy="385.5" r="1.2"/>
<circle cx="256.5" cy="383.5" r="1.2"/>
<circle cx="262.5" cy="372.5" r="1.2"/>
<circle cx="268.5" cy="384.5" r="1.2"/>
<circle cx="267.5" cy="388.5" r="1.2"/>
<circle cx="273.5" cy="393.5" r="1.2"/>
<circle cx="222.5" cy="346.5" r="1.2"/>
<circle cx="255.5" cy="399.5" r="1.2"/>
<circle cx="251.5" cy="393.5" r="1.2"/>
<circle cx="286.5" cy="392.5" r="1.2"/>
<circle cx="230.5" cy="362.5" r="1.2"/>
<circle cx="247.5" cy="352.5" r="1.2"/>
<circle cx="237.5" cy="405.5" r="1.2"/>
<circle cx="255.5" cy="388.5" r="1.2"/>
<circle cx="247.5" cy="409.5" r="1.2"/>
<circle cx="260.5" cy="362.5" r="1.2"/>
<circle cx="224.5" cy="350.5" r="1.2"/>
<circle cx="245.5" cy="344.5" r="1.2"/>
<circle cx="371.5" cy="400.5" r="1.2"/>
<circle cx="374.5" cy="392.5" r="1.2"/>
<circle cx="366.5" cy="390.5" r="1.2"/>
<circle cx="366.5" cy="418.5" r="1.2"/>
<circle cx="379.5" cy="402.5" r="1.2"/>
<circle cx="366.5" cy="394.5" r="1.2"/>
<circle cx="361.5" cy="413.5" r="1.2"/>
<circle cx="366.5" cy="403.5" r="1.2"/>
<circle cx="369.5" cy="385.5" r="1.2"/>
<circle cx="366.5" cy="392.5" r="1.2"/>
<circle cx="372.5" cy="410.5" r="1.2"/>
<circle cx="370.5" cy="408.5" r="1.2"/>
<circle cx="374.5" cy="393.5" r="1.2"/>
<circle cx="369.5" cy="413.5" r="1.2"/>
<circle cx="369.5" cy="406.5" r="1.2"/>
<circle cx="372.5" cy="399.5" r="1.2"/>
<circle cx="365.5" cy="387.5" r="1.2"/>
<circle cx="372.5" cy="404.5" r="1.2"/>
<circle cx="375.5" cy="401.5" r="1.2"/>
<circle cx="367.5" cy="396.5" r="1.2"/>
<circle cx="365.5" cy="403.5" r="1.2"/>
<circle cx="368.5" cy="381.5" r="1.2"/>
<circle cx="376.5" cy="401.5" r="1.2"/>
<circle cx="377.5" cy="398.5" r="1.2"/>
<circle cx="371.5" cy="388.5" r="1.2"/>
<circle cx="370.5" cy="371.5" r="1.2"/>
<circle cx="370.5" cy="411.5" r="1.2"/>
<circle cx="375.5" cy="402.5" r="1.2"/>
<circle cx="367.5" cy="431.5" r="1.2"/>
<circle cx="374.5" cy="388.5" r="1.2"/>
<circle cx="373.5" cy="387.5" r="1.2"/>
<circle cx="377.5" cy="398.5" r="1.2"/>
<circle cx="374.5" cy="406.5" r="1.2"/>
<circle cx="367.5" cy="386.5" r="1.2"/>
<circle cx="371.5" cy="413.5" r="1.2"/>
<circle cx="371.5" cy="400.5" r="1.2"/>
<circle cx="365.5" cy="393.5" r="1.2"/>
<circle cx="367.5" cy="415.5" r="1.2"/>
<circle cx="363.5" cy="378.5" r="1.2"/>
<circle cx="361.5" cy="395.5" r="1.2"/>
<circle cx="372.5" cy="390.5" r="1.2"/>
<circle cx="362.5" cy="401.5" r="1.2"/>
<circle cx="369.5" cy="389.5" r="1.2"/>
<circle cx="365.5" cy="411.5" r="1.2"/>
<circle cx="374.5" cy="385.5" r="1.2"/>
<circle cx="371.5" cy="404.5" r="1.2"/>
<circle cx="371.5" cy="396.5" r="1.2"/>
<circle cx="373.5" cy="412.5" r="1.2"/>
<circle cx="369.5" cy="399.5" r="1.2"/>
<circle cx="363.5" cy="395.5" r="1.2"/>
<circle cx="369.5" cy="402.5" r="1.2"/>
<circle cx="371.5" cy="414.5" r="1.2"/>
<circle cx="368.5" cy="393.5" r="1.2"/>
<circle cx="370.5" cy="386.5" r="1.2"/>
<circle cx="363.5" cy="415.5" r="1.2"/>
<circle cx="370.5" cy="393.5" r="1.2"/>
<circle cx="380.5" cy="391.5" r="1.2"/>
<circle cx="364.5" cy="389.5" r="1.2"/>
<circle cx="364.5" cy="414.5" r="1.2"/>
<circle cx="382.5" cy="394.5" r="1.2"/>
<circle cx="372.5" cy="391.5" r="1.2"/>
<circle cx="378.5" cy="394.5" r="1.2"/>
<circle cx="375.5" cy="409.5" r="1.2"/>
<circle cx="362.5" cy="382.5" r="1.2"/>
<circle cx="376.5" cy="392.5" r="1.2"/>
<circle cx="370.5" cy="396.5" r="1.2"/>
<circle cx="365.5" cy="380.5" r="1.2"/>
<circle cx="372.5" cy="392.5" r="1.2"/>
<circle cx="371.5" cy="386.5" r="1.2"/>
<circle cx="371.5" cy="389.5" r="1.2"/>
<circle cx="363.5" cy="392.5" r="1.2"/>
<circle cx="380.5" cy="403.5" r="1.2"/>
<circle cx="368.5" cy="388.5" r="1.2"/>
<circle cx="374.5" cy="391.5" r="1.2"/>
<circle cx="360.5" cy="392.5" r="1.2"/>
<circle cx="363.5" cy="407.5" r="1.2"/>
<circle cx="372.5" cy="401.5" r="1.2"/>
<circle cx="373.5" cy="362.5" r="1.2"/>
<circle cx="373.5" cy="390.5" r="1.2"/>
<circle cx="364.5" cy="405.5" r="1.2"/>
<circle cx="363.5" cy="404.5" r="1.2"/>
<circle cx="363.5" cy="405.5" r="1.2"/>
<circle cx="368.5" cy="409.5" r="1.2"/>
<circle cx="362.5" cy="413.5" r="1.2"/>
<circle cx="371.5" cy="397.5" r="1.2"/>
<circle cx="374.5" cy="386.5" r="1.2"/>
<circle cx="367.5" cy="390.5" r="1.2"/>
<circle cx="361.5" cy="372.5" r="1.2"/>
<circle cx="375.5" cy="400.5" r="1.2"/>
<circle cx="363.5" cy="393.5" r="1.2"/>
<circle cx="359.5" cy="406.5" r="1.2"/>
<circle cx="373.5" cy="397.5" r="1.2"/>
<circle cx="366.5" cy="387.5" r="1.2"/>
<circle cx="363.5" cy="394.5" r="1.2"/>
<circle cx="366.5" cy="407.5" r="1.2"/>
<circle cx="371.5" cy="409.5" r="1.2"/>
<circle cx="378.5" cy="404.5" r="1.2"/>
<circle cx="379.5" cy="410.5" r="1.2"/>
<circle cx="372.5" cy="411.5" r="1.2"/>
<circle cx="362.5" cy="396.5" r="1.2"/>
<circle cx="372.5" cy="412.5" r="1.2"/>
<circle cx="375.5" cy="407.5" r="1.2"/>
<circle cx="369.5" cy="393.5" r="1.2"/>
<circle cx="372.5" cy="418.5" r="1.2"/>
<circle cx="377.5" cy="391.5" r="1.2"/>
<circle cx="367.5" cy="409.5" r="1.2"/>
<circle cx="360.5" cy="413.5" r="1.2"/>
<circle cx="372.5" cy="401.5" r="1.2"/>
<circle cx="363.5" cy="404.5" r="1.2"/>
<circle cx="377.5" cy="401.5" r="1.2"/>
<circle cx="366.5" cy="383.5" r="1.2"/>
<circle cx="371.5" cy="397.5" r="1.2"/>
<circle cx="366.5" cy="415.5" r="1.2"/>
<circle cx="363.5" cy="403.5" r="1.2"/>
<circle cx="368.5" cy="394.5" r="1.2"/>
<circle cx="372.5" cy="395.5" r="1.2"/>
<circle cx="370.5" cy="409.5" r="1.2"/>
<circle cx="358.5" cy="404.5" r="1.2"/>
<circle cx="364.5" cy="405.5" r="1.2"/>
<circle cx="367.5" cy="412.5" r="1.2"/>
<circle cx="363.5" cy="399.5" r="1.2"/>
<circle cx="369.5" cy="405.5" r="1.2"/>
<circle cx="371.5" cy="400.5" r="1.2"/>
<circle cx="364.5" cy="397.5" r="1.2"/>
<circle cx="378.5" cy="405.5" r="1.2"/>
<circle cx="375.5" cy="382.5" r="1.2"/>
<circle cx="376.5" cy="407.5" r="1.2"/>
<circle cx="379.5" cy="396.5" r="1.2"/>
<circle cx="367.5" cy="400.5" r="1.2"/>
<circle cx="372.5" cy="397.5" r="1.2"/>
<circle cx="368.5" cy="383.5" r="1.2"/>
<circle cx="365.5" cy="409.5" r="1.2"/>
<circle cx="373.5" cy="390.5" r="1.2"/>
<circle cx="374.5" cy="410.5" r="1.2"/>
<circle cx="374.5" cy="392.5" r="1.2"/>
<circle cx="378.5" cy="412.5" r="1.2"/>
<circle cx="370.5" cy="401.5" r="1.2"/>
<circle cx="361.5" cy="406.5" r="1.2"/>
<circle cx="374.5" cy="403.5" r="1.2"/>
<circle cx="365.5" cy="388.5" r="1.2"/>
<circle cx="374.5" cy="387.5" r="1.2"/>
<circle cx="365.5" cy="398.5" r="1.2"/>
<circle cx="374.5" cy="405.5" r="1.2"/>
<circle cx="365.5" cy="388.5" r="1.2"/>
<circle cx="377.5" cy="411.5" r="1.2"/>
<circle cx="355.5" cy="414.5" r="1.2"/>
<circle cx="364.5" cy="399.5" r="1.2"/>
<circle cx="372.5" cy="399.5" r="1.2"/>
<circle cx="365.5" cy="396.5" r="1.2"/>
<circle cx="364.5" cy="398.5" r="1.2"/>
<circle cx="365.5" cy="368.5" r="1.2"/>
<circle cx="378.5" cy="419.5" r="1.2"/>
<circle cx="357.5" cy="409.5" r="1.2"/>
<circle cx="349.5" cy="417.5" r="1.2"/>
<circle cx="360.5" cy="375.5" r="1.2"/>
<circle cx="364.5" cy="418.5" r="1.2"/>
<circle cx="353.5" cy="428.5" r="1.2"/>
<circle cx="368.5" cy="403.5" r="1.2"/>
<circle cx="382.5" cy="414.5" r="1.2"/>
<circle cx="381.5" cy="391.5" r="1.2"/>
<circle cx="369.5" cy="449.5" r="1.2"/>
<circle cx="354.5" cy="379.5" r="1.2"/>
<circle cx="385.5" cy="392.5" r="1.2"/>
<circle cx="378.5" cy="408.5" r="1.2"/>
<circle cx="364.5" cy="415.5" r="1.2"/>
<circle cx="380.5" cy="389.5" r="1.2"/>
<circle cx="366.5" cy="406.5" r="1.2"/>
<circle cx="375.5" cy="389.5" r="1.2"/>
<circle cx="359.5" cy="353.5" r="1.2"/>
<circle cx="372.5" cy="397.5" r="1.2"/>
<circle cx="386.5" cy="371.5" r="1.2"/>
<circle cx="368.5" cy="384.5" r="1.2"/>
<circle cx="356.5" cy="414.5" r="1.2"/>
<circle cx="342.5" cy="366.5" r="1.2"/>
<circle cx="346.5" cy="380.5" r="1.2"/>
<circle cx="359.5" cy="423.5" r="1.2"/>
<circle cx="366.5" cy="391.5" r="1.2"/>
<circle cx="376.5" cy="352.5" r="1.2"/>
<circle cx="373.5" cy="375.5" r="1.2"/>
<circle cx="362.5" cy="379.5" r="1.2"/>
<circle cx="371.5" cy="410.5" r="1.2"/>
<circle cx="368.5" cy="399.5" r="1.2"/>
<circle cx="371.5" cy="387.5" r="1.2"/>
<circle cx="363.5" cy="417.5" r="1.2"/>
<circle cx="378.5" cy="441.5" r="1.2"/>
<circle cx="361.5" cy="358.5" r="1.2"/>
<circle cx="337.5" cy="416.5" r="1.2"/>
<circle cx="377.5" cy="440.5" r="1.2"/>
<circle cx="399.5" cy="464.5" r="1.2"/>
<circle cx="386.5" cy="357.5" r="1.2"/>
<circle cx="379.5" cy="403.5" r="1.2"/>
<circle cx="373.5" cy="421.5" r="1.2"/>
<circle cx="378.5" cy="427.5" r="1.2"/>
<circle cx="366.5" cy="372.5" r="1.2"/>
<circle cx="356.5" cy="407.5" r="1.2"/>
<circle cx="371.5" cy="432.5" r="1.2"/>
<circle cx="382.5" cy="389.5" r="1.2"/>
<circle cx="351.5" cy="399.5" r="1.2"/>
<circle cx="360.5" cy="415.5" r="1.2"/>
<circle cx="370.5" cy="416.5" r="1.2"/>
<circle cx="380.5" cy="416.5" r="1.2"/>
<circle cx="380.5" cy="399.5" r="1.2"/>
<circle cx="379.5" cy="412.5" r="1.2"/>
<circle cx="363.5" cy="427.5" r="1.2"/>
<circle cx="376.5" cy="373.5" r="1.2"/>
<circle cx="394.5" cy="364.5" r="1.2"/>
<circle cx="372.5" cy="403.5" r="1.2"/>
<circle cx="373.5" cy="398.5" r="1.2"/>
<circle cx="386.5" cy="373.5" r="1.2"/>
<circle cx="359.5" cy="415.5" r="1.2"/>
<circle cx="493.5" cy="352.5" r="1.2"/>
<circle cx="472.5" cy="341.5" r="1.2"/>
<circle cx="469.5" cy="359.5" r="1.2"/>
<circle cx="468.5" cy="380.5" r="1.2"/>
<circle cx="486.5" cy="370.5" r="1.2"/>
<circle cx="467.5" cy="365.5" r="1.2"/>
<circle cx="484.5" cy="356.5" r="1.2"/>
<circle cx="475.5" cy="376.5" r="1.2"/>
<circle cx="473.5" cy="374.5" r="1.2"/>
<circle cx="479.5" cy="351.5" r="1.2"/>
<circle cx="474.5" cy="331.5" r="1.2"/>
<circle cx="482.5" cy="348.5" r="1.2"/>
<circle cx="477.5" cy="358.5" r="1.2"/>
<circle cx="487.5" cy="342.5" r="1.2"/>
<circle cx="457.5" cy="343.5" r="1.2"/>
<circle cx="481.5" cy="344.5" r="1.2"/>
<circle cx="481.5" cy="371.5" r="1.2"/>
<circle cx="459.5" cy="333.5" r="1.2"/>
<circle cx="478.5" cy="373.5" r="1.2"/>
<circle cx="479.5" cy="360.5" r="1.2"/>
<circle cx="450.5" cy="384.5" r="1.2"/>
<circle cx="453.5" cy="352.5" r="1.2"/>
<circle cx="474.5" cy="359.5" r="1.2"/>
<circle cx="478.5" cy="348.5" r="1.2"/>
<circle cx="447.5" cy="359.5" r="1.2"/>
<circle cx="464.5" cy="371.5" r="1.2"/>
<circle cx="467.5" cy="357.5" r="1.2"/>
<circle cx="471.5" cy="373.5" r="1.2"/>
<circle cx="468.5" cy="331.5" r="1.2"/>
<circle cx="461.5" cy="376.5" r="1.2"/>
<circle cx="478.5" cy="348.5" r="1.2"/>
<circle cx="481.5" cy="369.5" r="1.2"/>
<circle cx="488.5" cy="365.5" r="1.2"/>
<circle cx="460.5" cy="363.5" r="1.2"/>
<circle cx="473.5" cy="347.5" r="1.2"/>
<circle cx="483.5" cy="356.5" r="1.2"/>
<circle cx="487.5" cy="355.5" r="1.2"/>
<circle cx="486.5" cy="373.5" r="1.2"/>
<circle cx="454.5" cy="346.5" r="1.2"/>
<circle cx="456.5" cy="359.5" r="1.2"/>
<circle cx="473.5" cy="362.5" r="1.2"/>
<circle cx="469.5" cy="339.5" r="1.2"/>
<circle cx="441.5" cy="345.5" r="1.2"/>
<circle cx="505.5" cy="355.5" r="1.2"/>
<circle cx="474.5" cy="347.5" r="1.2"/>
<circle cx="499.5" cy="370.5" r="1.2"/>
<circle cx="476.5" cy="358.5" r="1.2"/>
<circle cx="482.5" cy="354.5" r="1.2"/>
<circle cx="483.5" cy="361.5" r="1.2"/>
<circle cx="475.5" cy="364.5" r="1.2"/>
<circle cx="466.5" cy="357.5" r="1.2"/>
<circle cx="473.5" cy="370.5" r="1.2"/>
<circle cx="495.5" cy="357.5" r="1.2"/>
<circle cx="456.5" cy="342.5" r="1.2"/>
<circle cx="465.5" cy="349.5" r="1.2"/>
<circle cx="474.5" cy="352.5" r="1.2"/>
<circle cx="477.5" cy="363.5" r="1.2"/>
<circle cx="475.5" cy="331.5" r="1.2"/>
<circle cx="445.5" cy="355.5" r="1.2"/>
<circle cx="480.5" cy="368.5" r="1.2"/>
<circle cx="456.5" cy="329.5" r="1.2"/>
<circle cx="470.5" cy="330.5" r="1.2"/>
<circle cx="482.5" cy="355.5" r="1.2"/>
<circle cx="481.5" cy="348.5" r="1.2"/>
<circle cx="490.5" cy="350.5" r="1.2"/>
<circle cx="477.5" cy="353.5" r="1.2"/>
<circle cx="493.5" cy="346.5" r="1.2"/>
<circle cx="461.5" cy="363.5" r="1.2"/>
<circle cx="479.5" cy="363.5" r="1.2"/>
<circle cx="470.5" cy="367.5" r="1.2"/>
<circle cx="471.5" cy="350.5" r="1.2"/>
<circle cx="488.5" cy="355.5" r="1.2"/>
<circle cx="502.5" cy="356.5" r="1.2"/>
<circle cx="517.5" cy="343.5" r="1.2"/>
<circle cx="481.5" cy="362.5" r="1.2"/>
<circle cx="437.5" cy="357.5" r="1.2"/>
<circle cx="477.5" cy="332.5" r="1.2"/>
<circle cx="456.5" cy="332.5" r="1.2"/>
<circle cx="471.5" cy="347.5" r="1.2"/>
<circle cx="441.5" cy="354.5" r="1.2"/>
<circle cx="470.5" cy="347.5" r="1.2"/>
<circle cx="476.5" cy="370.5" r="1.2"/>
<circle cx="487.5" cy="347.5" r="1.2"/>
<circle cx="483.5" cy="343.5" r="1.2"/>
<circle cx="489.5" cy="356.5" r="1.2"/>
<circle cx="457.5" cy="372.5" r="1.2"/>
<circle cx="493.5" cy="347.5" r="1.2"/>
<circle cx="476.5" cy="361.5" r="1.2"/>
<circle cx="475.5" cy="355.5" r="1.2"/>
<circle cx="470.5" cy="364.5" r="1.2"/>
<circle cx="503.5" cy="353.5" r="1.2"/>
<circle cx="467.5" cy="371.5" r="1.2"/>
<circle cx="465.5" cy="347.5" r="1.2"/>
<circle cx="485.5" cy="358.5" r="1.2"/>
<circle cx="475.5" cy="359.5" r="1.2"/>
<circle cx="460.5" cy="340.5" r="1.2"/>
<circle cx="480.5" cy="325.5" r="1.2"/>
<circle cx="465.5" cy="357.5" r="1.2"/>
<circle cx="486.5" cy="359.5" r="1.2"/>
<circle cx="456.5" cy="367.5" r="1.2"/>
<circle cx="476.5" cy="351.5" r="1.2"/>
<circle cx="473.5" cy="343.5" r="1.2"/>
<circle cx="488.5" cy="352.5" r="1.2"/>
<circle cx="475.5" cy="359.5" r="1.2"/>
<circle cx="482.5" cy="344.5" r="1.2"/>
<circle cx="475.5" cy="350.5" r="1.2"/>
<circle cx="470.5" cy="373.5" r="1.2"/>
<circle cx="461.5" cy="346.5" r="1.2"/>
<circle cx="481.5" cy="336.5" r="1.2"/>
<circle cx="475.5" cy="345.5" r="1.2"/>
<circle cx="492.5" cy="343.5" r="1.2"/>
<circle cx="467.5" cy="358.5" r="1.2"/>
<circle cx="476.5" cy="368.5" r="1.2"/>
<circle cx="481.5" cy="343.5" r="1.2"/>
<circle cx="468.5" cy="331.5" r="1.2"/>
<circle cx="471.5" cy="358.5" r="1.2"/>
<circle cx="471.5" cy="364.5" r="1.2"/>
<circle cx="480.5" cy="355.5" r="1.2"/>
<circle cx="497.5" cy="348.5" r="1.2"/>
<circle cx="482.5" cy="358.5" r="1.2"/>
<circle cx="456.5" cy="357.5" r="1.2"/>
<circle cx="463.5" cy="344.5" r="1.2"/>
<circle cx="474.5" cy="335.5" r="1.2"/>
<circle cx="484.5" cy="345.5" r="1.2"/>
<circle cx="478.5" cy="353.5" r="1.2"/>
<circle cx="483.5" cy="344.5" r="1.2"/>
<circle cx="465.5" cy="350.5" r="1.2"/>
<circle cx="509.5" cy="357.5" r="1.2"/>
<circle cx="471.5" cy="364.5" r="1.2"/>
<circle cx="455.5" cy="341.5" r="1.2"/>
<circle cx="475.5" cy="352.5" r="1.2"/>
<circle cx="499.5" cy="325.5" r="1.2"/>
<circle cx="463.5" cy="343.5" r="1.2"/>
<circle cx="483.5" cy="351.5" r="1.2"/>
<circle cx="481.5" cy="356.5" r="1.2"/>
<circle cx="496.5" cy="348.5" r="1.2"/>
<circle cx="479.5" cy="340.5" r="1.2"/>
<circle cx="487.5" cy="350.5" r="1.2"/>
<circle cx="479.5" cy="334.5" r="1.2"/>
<circle cx="481.5" cy="357.5" r="1.2"/>
<circle cx="463.5" cy="360.5" r="1.2"/>
<circle cx="461.5" cy="354.5" r="1.2"/>
<circle cx="478.5" cy="381.5" r="1.2"/>
<circle cx="475.5" cy="348.5" r="1.2"/>
<circle cx="477.5" cy="367.5" r="1.2"/>
<circle cx="491.5" cy="364.5" r="1.2"/>
<circle cx="458.5" cy="369.5" r="1.2"/>
<circle cx="474.5" cy="343.5" r="1.2"/>
<circle cx="490.5" cy="353.5" r="1.2"/>
<circle cx="459.5" cy="364.5" r="1.2"/>
<circle cx="463.5" cy="358.5" r="1.2"/>
<circle cx="451.5" cy="354.5" r="1.2"/>
<circle cx="483.5" cy="357.5" r="1.2"/>
<circle cx="481.5" cy="367.5" r="1.2"/>
<circle cx="455.5" cy="363.5" r="1.2"/>
<circle cx="490.5" cy="343.5" r="1.2"/>
<circle cx="469.5" cy="341.5" r="1.2"/>
<circle cx="470.5" cy="337.5" r="1.2"/>
<circle cx="481.5" cy="361.5" r="1.2"/>
<circle cx="485.5" cy="365.5" r="1.2"/>
<circle cx="462.5" cy="373.5" r="1.2"/>
<circle cx="478.5" cy="356.5" r="1.2"/>
<circle cx="474.5" cy="361.5" r="1.2"/>
<circle cx="494.5" cy="361.5" r="1.2"/>
<circle cx="465.5" cy="340.5" r="1.2"/>
<circle cx="493.5" cy="351.5" r="1.2"/>
<circle cx="452.5" cy="363.5" r="1.2"/>
<circle cx="483.5" cy="355.5" r="1.2"/>
<circle cx="495.5" cy="372.5" r="1.2"/>
<circle cx="484.5" cy="363.5" r="1.2"/>
<circle cx="492.5" cy="356.5" r="1.2"/>
<circle cx="488.5" cy="363.5" r="1.2"/>
<circle cx="456.5" cy="369.5" r="1.2"/>
<circle cx="467.5" cy="368.5" r="1.2"/>
<circle cx="491.5" cy="339.5" r="1.2"/>
<circle cx="478.5" cy="368.5" r="1.2"/>
<circle cx="473.5" cy="364.5" r="1.2"/>
<circle cx="494.5" cy="352.5" r="1.2"/>
<circle cx="481.5" cy="360.5" r="1.2"/>
<circle cx="448.5" cy="365.5" r="1.2"/>
<circle cx="460.5" cy="351.5" r="1.2"/>
<circle cx="476.5" cy="365.5" r="1.2"/>
<circle cx="469.5" cy="336.5" r="1.2"/>
<circle cx="462.5" cy="367.5" r="1.2"/>
<circle cx="472.5" cy="364.5" r="1.2"/>
<circle cx="469.5" cy="349.5" r="1.2"/>
<circle cx="498.5" cy="377.5" r="1.2"/>
<circle cx="474.5" cy="355.5" r="1.2"/>
<circle cx="474.5" cy="358.5" r="1.2"/>
<circle cx="470.5" cy="343.5" r="1.2"/>
<circle cx="468.5" cy="357.5" r="1.2"/>
<circle cx="475.5" cy="354.5" r="1.2"/>
<circle cx="472.5" cy="343.5" r="1.2"/>
<circle cx="474.5" cy="353.5" r="1.2"/>
<circle cx="474.5" cy="368.5" r="1.2"/>
<circle cx="464.5" cy="368.5" r="1.2"/>
<circle cx="477.5" cy="364.5" r="1.2"/>
<circle cx="461.5" cy="353.5" r="1.2"/>
<circle cx="482.5" cy="377.5" r="1.2"/>
<circle cx="497.5" cy="355.5" r="1.2"/>
<circle cx="473.5" cy="342.5" r="1.2"/>
<circle cx="476.5" cy="363.5" r="1.2"/>
<circle cx="504.5" cy="369.5" r="1.2"/>
<circle cx="473.5" cy="345.5" r="1.2"/>
<circle cx="460.5" cy="357.5" r="1.2"/>
<circle cx="480.5" cy="326.5" r="1.2"/>
<circle cx="463.5" cy="356.5" r="1.2"/>
<circle cx="483.5" cy="355.5" r="1.2"/>
<circle cx="459.5" cy="351.5" r="1.2"/>
<circle cx="476.5" cy="350.5" r="1.2"/>
</g>
<path d="M153 37.5V486.5M255 37.5V486.5M357 37.5V486.5M459 37.5V486.5M561 37.5V486.5" fill="none" stroke="#b0b0b0" stroke-opacity="0.2" stroke-width="2"/>
<path d="M113.5 466H600.5M113.5 415H600.5M113.5 364H600.5M113.5 313H600.5M113.5 262H600.5M113.5 211H600.5M113.5 160H600.5M113.5 109H600.5M113.5 58H600.5" fill="none" stroke="#b0b0b0" stroke-opacity="0.2" stroke-width="2"/>
</g>
<rect x="113.5" y="37.5" width="487.0" height="449.0" fill="none" stroke="#000" stroke-width="2.6"/>
<path d="M153.5 486.5v13.0M255.5 486.5v13.0M357.5 486.5v13.0M459.5 486.5v13.0M561.5 486.5v13.0M113.5 466.5h-12.0M113.5 415.5h-12.0M113.5 364.5h-12.0M113.5 313.5h-12.0M113.5 262.5h-12.0M113.5 211.5h-12.0M113.5 160.5h-12.0M113.5 109.5h-12.0M113.5 58.5h-12.0" fill="none" stroke="#000" stroke-width="2.6"/>
<g clip-path="url(#cr)">
<g fill="#d3d3d3" fill-opacity="0.13" stroke="#d3d3d3" stroke-opacity="0.13" stroke-width="2.08">
<circle cx="1053.5" cy="241.5" r="2.2"/>
<circle cx="1069.5" cy="266.5" r="2.2"/>
<circle cx="1048.5" cy="266.5" r="2.2"/>
<circle cx="1060.5" cy="260.5" r="2.2"/>
<circle cx="1063.5" cy="284.5" r="2.2"/>
<circle cx="1074.5" cy="260.5" r="2.2"/>
<circle cx="1062.5" cy="261.5" r="2.2"/>
<circle cx="1047.5" cy="253.5" r="2.2"/>
<circle cx="1064.5" cy="262.5" r="2.2"/>
<circle cx="1050.5" cy="250.5" r="2.2"/>
<circle cx="1041.5" cy="279.5" r="2.2"/>
<circle cx="1058.5" cy="268.5" r="2.2"/>
<circle cx="1027.5" cy="270.5" r="2.2"/>
<circle cx="1046.5" cy="275.5" r="2.2"/>
<circle cx="1032.5" cy="259.5" r="2.2"/>
<circle cx="1065.5" cy="262.5" r="2.2"/>
<circle cx="1042.5" cy="254.5" r="2.2"/>
<circle cx="1062.5" cy="263.5" r="2.2"/>
<circle cx="1060.5" cy="245.5" r="2.2"/>
<circle cx="1050.5" cy="270.5" r="2.2"/>
<circle cx="1057.5" cy="256.5" r="2.2"/>
<circle cx="1067.5" cy="276.5" r="2.2"/>
<circle cx="1044.5" cy="270.5" r="2.2"/>
<circle cx="1029.5" cy="257.5" r="2.2"/>
<circle cx="1060.5" cy="269.5" r="2.2"/>
<circle cx="1071.5" cy="248.5" r="2.2"/>
<circle cx="1061.5" cy="254.5" r="2.2"/>
<circle cx="1065.5" cy="277.5" r="2.2"/>
<circle cx="1061.5" cy="251.5" r="2.2"/>
<circle cx="1029.5" cy="254.5" r="2.2"/>
<circle cx="1049.5" cy="248.5" r="2.2"/>
<circle cx="1047.5" cy="259.5" r="2.2"/>
<circle cx="1057.5" cy="271.5" r="2.2"/>
<circle cx="1061.5" cy="260.5" r="2.2"/>
<circle cx="1059.5" cy="266.5" r="2.2"/>
<circle cx="1067.5" cy="251.5" r="2.2"/>
<circle cx="1050.5" cy="250.5" r="2.2"/>
<circle cx="1070.5" cy="235.5" r="2.2"/>
<circle cx="1031.5" cy="247.5" r="2.2"/>
<circle cx="1059.5" cy="260.5" r="2.2"/>
<circle cx="1039.5" cy="242.5" r="2.2"/>
<circle cx="1035.5" cy="251.5" r="2.2"/>
<circle cx="1070.5" cy="281.5" r="2.2"/>
<circle cx="1048.5" cy="277.5" r="2.2"/>
<circle cx="1056.5" cy="239.5" r="2.2"/>
<circle cx="1080.5" cy="283.5" r="2.2"/>
<circle cx="1045.5" cy="250.5" r="2.2"/>
<circle cx="1074.5" cy="253.5" r="2.2"/>
<circle cx="1042.5" cy="255.5" r="2.2"/>
<circle cx="1052.5" cy="262.5" r="2.2"/>
<circle cx="1043.5" cy="254.5" r="2.2"/>
<circle cx="1057.5" cy="260.5" r="2.2"/>
<circle cx="1050.5" cy="276.5" r="2.2"/>
<circle cx="1046.5" cy="243.5" r="2.2"/>
<circle cx="1050.5" cy="278.5" r="2.2"/>
<circle cx="1071.5" cy="252.5" r="2.2"/>
<circle cx="1081.5" cy="258.5" r="2.2"/>
<circle cx="1046.5" cy="279.5" r="2.2"/>
<circle cx="1070.5" cy="224.5" r="2.2"/>
<circle cx="1041.5" cy="268.5" r="2.2"/>
<circle cx="1061.5" cy="270.5" r="2.2"/>
<circle cx="1049.5" cy="264.5" r="2.2"/>
<circle cx="1055.5" cy="244.5" r="2.2"/>
<circle cx="1053.5" cy="247.5" r="2.2"/>
<circle cx="1047.5" cy="255.5" r="2.2"/>
<circle cx="1024.5" cy="279.5" r="2.2"/>
<circle cx="1063.5" cy="267.5" r="2.2"/>
<circle cx="1060.5" cy="252.5" r="2.2"/>
<circle cx="1070.5" cy="248.5" r="2.2"/>
<circle cx="1066.5" cy="261.5" r="2.2"/>
<circle cx="1043.5" cy="269.5" r="2.2"/>
<circle cx="1046.5" cy="274.5" r="2.2"/>
<circle cx="1045.5" cy="260.5" r="2.2"/>
<circle cx="1056.5" cy="264.5" r="2.2"/>
<circle cx="1027.5" cy="260.5" r="2.2"/>
<circle cx="1056.5" cy="244.5" r="2.2"/>
<circle cx="1060.5" cy="268.5" r="2.2"/>
<circle cx="1043.5" cy="232.5" r="2.2"/>
<circle cx="1063.5" cy="234.5" r="2.2"/>
<circle cx="1081.5" cy="270.5" r="2.2"/>
<circle cx="1058.5" cy="253.5" r="2.2"/>
<circle cx="1060.5" cy="252.5" r="2.2"/>
<circle cx="1055.5" cy="257.5" r="2.2"/>
<circle cx="1032.5" cy="261.5" r="2.2"/>
<circle cx="1042.5" cy="257.5" r="2.2"/>
<circle cx="1046.5" cy="251.5" r="2.2"/>
<circle cx="1064.5" cy="255.5" r="2.2"/>
<circle cx="1057.5" cy="258.5" r="2.2"/>
<circle cx="1046.5" cy="261.5" r="2.2"/>
<circle cx="1046.5" cy="254.5" r="2.2"/>
<circle cx="1053.5" cy="251.5" r="2.2"/>
<circle cx="1035.5" cy="247.5" r="2.2"/>
<circle cx="1042.5" cy="269.5" r="2.2"/>
<circle cx="1050.5" cy="267.5" r="2.2"/>
<circle cx="1056.5" cy="267.5" r="2.2"/>
<circle cx="1038.5" cy="270.5" r="2.2"/>
<circle cx="1070.5" cy="258.5" r="2.2"/>
<circle cx="1037.5" cy="259.5" r="2.2"/>
<circle cx="1031.5" cy="235.5" r="2.2"/>
<circle cx="1032.5" cy="253.5" r="2.2"/>
<circle cx="1060.5" cy="279.5" r="2.2"/>
<circle cx="1057.5" cy="246.5" r="2.2"/>
<circle cx="1059.5" cy="255.5" r="2.2"/>
<circle cx="1065.5" cy="257.5" r="2.2"/>
<circle cx="1057.5" cy="261.5" r="2.2"/>
<circle cx="1061.5" cy="272.5" r="2.2"/>
<circle cx="1063.5" cy="266.5" r="2.2"/>
<circle cx="1038.5" cy="254.5" r="2.2"/>
<circle cx="1075.5" cy="246.5" r="2.2"/>
<circle cx="1046.5" cy="250.5" r="2.2"/>
<circle cx="1046.5" cy="261.5" r="2.2"/>
<circle cx="1054.5" cy="290.5" r="2.2"/>
<circle cx="1055.5" cy="273.5" r="2.2"/>
<circle cx="1043.5" cy="279.5" r="2.2"/>
<circle cx="1032.5" cy="272.5" r="2.2"/>
<circle cx="1064.5" cy="237.5" r="2.2"/>
<circle cx="1052.5" cy="244.5" r="2.2"/>
<circle cx="1049.5" cy="285.5" r="2.2"/>
<circle cx="1055.5" cy="253.5" r="2.2"/>
<circle cx="1047.5" cy="255.5" r="2.2"/>
<circle cx="1060.5" cy="271.5" r="2.2"/>
<circle cx="1033.5" cy="262.5" r="2.2"/>
<circle cx="1050.5" cy="264.5" r="2.2"/>
<circle cx="1066.5" cy="236.5" r="2.2"/>
<circle cx="1047.5" cy="250.5" r="2.2"/>
<circle cx="1065.5" cy="249.5" r="2.2"/>
<circle cx="1067.5" cy="264.5" r="2.2"/>
<circle cx="1062.5" cy="232.5" r="2.2"/>
<circle cx="1063.5" cy="267.5" r="2.2"/>
<circle cx="1061.5" cy="242.5" r="2.2"/>
<circle cx="1057.5" cy="267.5" r="2.2"/>
<circle cx="1073.5" cy="276.5" r="2.2"/>
<circle cx="1059.5" cy="259.5" r="2.2"/>
<circle cx="1036.5" cy="243.5" r="2.2"/>
<circle cx="1057.5" cy="275.5" r="2.2"/>
<circle cx="1061.5" cy="265.5" r="2.2"/>
<circle cx="1027.5" cy="268.5" r="2.2"/>
<circle cx="1056.5" cy="250.5" r="2.2"/>
<circle cx="1055.5" cy="258.5" r="2.2"/>
<circle cx="1059.5" cy="262.5" r="2.2"/>
<circle cx="1068.5" cy="257.5" r="2.2"/>
<circle cx="1056.5" cy="252.5" r="2.2"/>
<circle cx="1038.5" cy="269.5" r="2.2"/>
<circle cx="1073.5" cy="254.5" r="2.2"/>
<circle cx="1049.5" cy="254.5" r="2.2"/>
<circle cx="1046.5" cy="255.5" r="2.2"/>
<circle cx="1044.5" cy="255.5" r="2.2"/>
<circle cx="1031.5" cy="241.5" r="2.2"/>
<circle cx="1046.5" cy="280.5" r="2.2"/>
<circle cx="1049.5" cy="264.5" r="2.2"/>
<circle cx="1055.5" cy="274.5" r="2.2"/>
<circle cx="1058.5" cy="210.5" r="2.2"/>
<circle cx="1035.5" cy="254.5" r="2.2"/>
<circle cx="1048.5" cy="256.5" r="2.2"/>
<circle cx="1028.5" cy="275.5" r="2.2"/>
<circle cx="1059.5" cy="260.5" r="2.2"/>
<circle cx="1075.5" cy="269.5" r="2.2"/>
<circle cx="1055.5" cy="220.5" r="2.2"/>
<circle cx="1042.5" cy="271.5" r="2.2"/>
<circle cx="1052.5" cy="260.5" r="2.2"/>
<circle cx="1064.5" cy="257.5" r="2.2"/>
<circle cx="1042.5" cy="256.5" r="2.2"/>
<circle cx="1088.5" cy="242.5" r="2.2"/>
<circle cx="1015.5" cy="261.5" r="2.2"/>
<circle cx="1041.5" cy="251.5" r="2.2"/>
<circle cx="1050.5" cy="233.5" r="2.2"/>
<circle cx="1065.5" cy="247.5" r="2.2"/>
<circle cx="1055.5" cy="260.5" r="2.2"/>
<circle cx="1057.5" cy="242.5" r="2.2"/>
<circle cx="1060.5" cy="264.5" r="2.2"/>
<circle cx="1070.5" cy="256.5" r="2.2"/>
<circle cx="1051.5" cy="270.5" r="2.2"/>
<circle cx="1045.5" cy="268.5" r="2.2"/>
<circle cx="1015.5" cy="245.5" r="2.2"/>
<circle cx="1060.5" cy="262.5" r="2.2"/>
<circle cx="1067.5" cy="253.5" r="2.2"/>
<circle cx="1058.5" cy="292.5" r="2.2"/>
<circle cx="1049.5" cy="252.5" r="2.2"/>
<circle cx="1074.5" cy="234.5" r="2.2"/>
<circle cx="1072.5" cy="275.5" r="2.2"/>
<circle cx="1023.5" cy="251.5" r="2.2"/>
<circle cx="1053.5" cy="246.5" r="2.2"/>
<circle cx="1051.5" cy="256.5" r="2.2"/>
<circle cx="1032.5" cy="253.5" r="2.2"/>
<circle cx="1046.5" cy="254.5" r="2.2"/>
<circle cx="1059.5" cy="261.5" r="2.2"/>
<circle cx="1057.5" cy="259.5" r="2.2"/>
<circle cx="1063.5" cy="252.5" r="2.2"/>
<circle cx="1045.5" cy="267.5" r="2.2"/>
<circle cx="1076.5" cy="260.5" r="2.2"/>
<circle cx="1066.5" cy="254.5" r="2.2"/>
<circle cx="1045.5" cy="269.5" r="2.2"/>
<circle cx="1054.5" cy="256.5" r="2.2"/>
<circle cx="1061.5" cy="276.5" r="2.2"/>
<circle cx="1044.5" cy="260.5" r="2.2"/>
<circle cx="1074.5" cy="291.5" r="2.2"/>
<circle cx="1058.5" cy="266.5" r="2.2"/>
<circle cx="1058.5" cy="266.5" r="2.2"/>
<circle cx="1057.5" cy="238.5" r="2.2"/>
<circle cx="1057.5" cy="253.5" r="2.2"/>
<circle cx="1058.5" cy="269.5" r="2.2"/>
<circle cx="1060.5" cy="262.5" r="2.2"/>
<circle cx="1042.5" cy="260.5" r="2.2"/>
<circle cx="1049.5" cy="249.5" r="2.2"/>
<circle cx="1052.5" cy="266.5" r="2.2"/>
<circle cx="1072.5" cy="246.5" r="2.2"/>
<circle cx="1070.5" cy="251.5" r="2.2"/>
<circle cx="1051.5" cy="265.5" r="2.2"/>
<circle cx="1049.5" cy="246.5" r="2.2"/>
<circle cx="1054.5" cy="279.5" r="2.2"/>
<circle cx="1052.5" cy="278.5" r="2.2"/>
<circle cx="1055.5" cy="275.5" r="2.2"/>
<circle cx="1035.5" cy="257.5" r="2.2"/>
<circle cx="1051.5" cy="281.5" r="2.2"/>
<circle cx="1063.5" cy="230.5" r="2.2"/>
<circle cx="1033.5" cy="234.5" r="2.2"/>
<circle cx="1043.5" cy="266.5" r="2.2"/>
<circle cx="1050.5" cy="279.5" r="2.2"/>
<circle cx="1070.5" cy="252.5" r="2.2"/>
<circle cx="1042.5" cy="263.5" r="2.2"/>
<circle cx="1032.5" cy="264.5" r="2.2"/>
<circle cx="1065.5" cy="282.5" r="2.2"/>
<circle cx="1047.5" cy="257.5" r="2.2"/>
<circle cx="1067.5" cy="241.5" r="2.2"/>
<circle cx="1046.5" cy="269.5" r="2.2"/>
<circle cx="1059.5" cy="264.5" r="2.2"/>
<circle cx="1048.5" cy="244.5" r="2.2"/>
<circle cx="1075.5" cy="255.5" r="2.2"/>
<circle cx="1050.5" cy="251.5" r="2.2"/>
<circle cx="1027.5" cy="259.5" r="2.2"/>
<circle cx="1038.5" cy="227.5" r="2.2"/>
<circle cx="1062.5" cy="257.5" r="2.2"/>
<circle cx="1050.5" cy="293.5" r="2.2"/>
<circle cx="1062.5" cy="237.5" r="2.2"/>
<circle cx="1043.5" cy="250.5" r="2.2"/>
<circle cx="1062.5" cy="280.5" r="2.2"/>
<circle cx="1065.5" cy="241.5" r="2.2"/>
<circle cx="1056.5" cy="260.5" r="2.2"/>
<circle cx="1063.5" cy="280.5" r="2.2"/>
<circle cx="1054.5" cy="245.5" r="2.2"/>
<circle cx="1036.5" cy="246.5" r="2.2"/>
<circle cx="1047.5" cy="287.5" r="2.2"/>
<circle cx="1051.5" cy="272.5" r="2.2"/>
<circle cx="1057.5" cy="275.5" r="2.2"/>
<circle cx="1067.5" cy="269.5" r="2.2"/>
<circle cx="1057.5" cy="267.5" r="2.2"/>
<circle cx="1048.5" cy="243.5" r="2.2"/>
<circle cx="1055.5" cy="264.5" r="2.2"/>
<circle cx="1036.5" cy="243.5" r="2.2"/>
<circle cx="1062.5" cy="263.5" r="2.2"/>
<circle cx="1056.5" cy="273.5" r="2.2"/>
<circle cx="1039.5" cy="270.5" r="2.2"/>
<circle cx="1057.5" cy="255.5" r="2.2"/>
<circle cx="1042.5" cy="249.5" r="2.2"/>
<circle cx="1063.5" cy="257.5" r="2.2"/>
<circle cx="1067.5" cy="263.5" r="2.2"/>
<circle cx="1051.5" cy="253.5" r="2.2"/>
<circle cx="1052.5" cy="248.5" r="2.2"/>
<circle cx="1036.5" cy="240.5" r="2.2"/>
<circle cx="1042.5" cy="261.5" r="2.2"/>
<circle cx="989.5" cy="143.5" r="2.2"/>
<circle cx="1025.5" cy="137.5" r="2.2"/>
<circle cx="1019.5" cy="172.5" r="2.2"/>
<circle cx="997.5" cy="157.5" r="2.2"/>
<circle cx="995.5" cy="136.5" r="2.2"/>
<circle cx="1010.5" cy="151.5" r="2.2"/>
<circle cx="1014.5" cy="164.5" r="2.2"/>
<circle cx="996.5" cy="163.5" r="2.2"/>
<circle cx="1015.5" cy="147.5" r="2.2"/>
<circle cx="1016.5" cy="137.5" r="2.2"/>
<circle cx="990.5" cy="159.5" r="2.2"/>
<circle cx="1010.5" cy="169.5" r="2.2"/>
<circle cx="1001.5" cy="137.5" r="2.2"/>
<circle cx="1023.5" cy="137.5" r="2.2"/>
<circle cx="1008.5" cy="154.5" r="2.2"/>
<circle cx="1022.5" cy="156.5" r="2.2"/>
<circle cx="1012.5" cy="133.5" r="2.2"/>
<circle cx="1003.5" cy="159.5" r="2.2"/>
<circle cx="1008.5" cy="143.5" r="2.2"/>
<circle cx="1014.5" cy="149.5" r="2.2"/>
<circle cx="1015.5" cy="173.5" r="2.2"/>
<circle cx="996.5" cy="149.5" r="2.2"/>
<circle cx="995.5" cy="169.5" r="2.2"/>
<circle cx="992.5" cy="164.5" r="2.2"/>
<circle cx="1005.5" cy="165.5" r="2.2"/>
<circle cx="1011.5" cy="128.5" r="2.2"/>
<circle cx="1006.5" cy="134.5" r="2.2"/>
<circle cx="1012.5" cy="166.5" r="2.2"/>
<circle cx="1004.5" cy="164.5" r="2.2"/>
<circle cx="1018.5" cy="167.5" r="2.2"/>
<circle cx="1026.5" cy="143.5" r="2.2"/>
<circle cx="981.5" cy="141.5" r="2.2"/>
<circle cx="1029.5" cy="162.5" r="2.2"/>
<circle cx="1021.5" cy="175.5" r="2.2"/>
<circle cx="1011.5" cy="174.5" r="2.2"/>
<circle cx="1014.5" cy="175.5" r="2.2"/>
<circle cx="972.5" cy="146.5" r="2.2"/>
<circle cx="1039.5" cy="159.5" r="2.2"/>
<circle cx="1019.5" cy="150.5" r="2.2"/>
<circle cx="1003.5" cy="143.5" r="2.2"/>
<circle cx="1030.5" cy="168.5" r="2.2"/>
<circle cx="1015.5" cy="147.5" r="2.2"/>
<circle cx="989.5" cy="129.5" r="2.2"/>
<circle cx="1034.5" cy="164.5" r="2.2"/>
<circle cx="1031.5" cy="150.5" r="2.2"/>
<circle cx="1006.5" cy="131.5" r="2.2"/>
<circle cx="1011.5" cy="147.5" r="2.2"/>
<circle cx="1028.5" cy="134.5" r="2.2"/>
<circle cx="1020.5" cy="170.5" r="2.2"/>
<circle cx="987.5" cy="136.5" r="2.2"/>
<circle cx="995.5" cy="149.5" r="2.2"/>
<circle cx="993.5" cy="154.5" r="2.2"/>
<circle cx="991.5" cy="129.5" r="2.2"/>
<circle cx="994.5" cy="153.5" r="2.2"/>
<circle cx="1005.5" cy="135.5" r="2.2"/>
<circle cx="989.5" cy="152.5" r="2.2"/>
<circle cx="1005.5" cy="144.5" r="2.2"/>
<circle cx="1014.5" cy="157.5" r="2.2"/>
<circle cx="1011.5" cy="156.5" r="2.2"/>
<circle cx="1014.5" cy="153.5" r="2.2"/>
<circle cx="999.5" cy="152.5" r="2.2"/>
<circle cx="1013.5" cy="121.5" r="2.2"/>
<circle cx="1001.5" cy="147.5" r="2.2"/>
<circle cx="1028.5" cy="179.5" r="2.2"/>
<circle cx="984.5" cy="167.5" r="2.2"/>
<circle cx="1006.5" cy="118.5" r="2.2"/>
<circle cx="1013.5" cy="135.5" r="2.2"/>
<circle cx="1005.5" cy="184.5" r="2.2"/>
<circle cx="977.5" cy="137.5" r="2.2"/>
<circle cx="1010.5" cy="169.5" r="2.2"/>
<circle cx="1023.5" cy="172.5" r="2.2"/>
<circle cx="1023.5" cy="132.5" r="2.2"/>
<circle cx="998.5" cy="166.5" r="2.2"/>
<circle cx="1019.5" cy="166.5" r="2.2"/>
<circle cx="1019.5" cy="167.5" r="2.2"/>
<circle cx="1019.5" cy="150.5" r="2.2"/>
<circle cx="1002.5" cy="163.5" r="2.2"/>
<circle cx="1011.5" cy="177.5" r="2.2"/>
<circle cx="1004.5" cy="157.5" r="2.2"/>
<circle cx="1017.5" cy="168.5" r="2.2"/>
<circle cx="1031.5" cy="155.5" r="2.2"/>
<circle cx="992.5" cy="132.5" r="2.2"/>
<circle cx="1030.5" cy="154.5" r="2.2"/>
<circle cx="996.5" cy="151.5" r="2.2"/>
<circle cx="999.5" cy="155.5" r="2.2"/>
<circle cx="1029.5" cy="146.5" r="2.2"/>
<circle cx="1010.5" cy="146.5" r="2.2"/>
<circle cx="1007.5" cy="140.5" r="2.2"/>
<circle cx="1020.5" cy="156.5" r="2.2"/>
<circle cx="1009.5" cy="119.5" r="2.2"/>
<circle cx="1014.5" cy="154.5" r="2.2"/>
<circle cx="1036.5" cy="151.5" r="2.2"/>
<circle cx="993.5" cy="142.5" r="2.2"/>
<circle cx="996.5" cy="158.5" r="2.2"/>
<circle cx="1012.5" cy="153.5" r="2.2"/>
<circle cx="998.5" cy="159.5" r="2.2"/>
<circle cx="1000.5" cy="135.5" r="2.2"/>
<circle cx="998.5" cy="159.5" r="2.2"/>
<circle cx="1035.5" cy="159.5" r="2.2"/>
<circle cx="1028.5" cy="133.5" r="2.2"/>
<circle cx="1006.5" cy="170.5" r="2.2"/>
<circle cx="1014.5" cy="142.5" r="2.2"/>
<circle cx="1021.5" cy="150.5" r="2.2"/>
<circle cx="1024.5" cy="132.5" r="2.2"/>
<circle cx="994.5" cy="132.5" r="2.2"/>
<circle cx="1010.5" cy="159.5" r="2.2"/>
<circle cx="1004.5" cy="126.5" r="2.2"/>
<circle cx="1021.5" cy="175.5" r="2.2"/>
<circle cx="1009.5" cy="153.5" r="2.2"/>
<circle cx="1005.5" cy="158.5" r="2.2"/>
<circle cx="988.5" cy="140.5" r="2.2"/>
<circle cx="995.5" cy="156.5" r="2.2"/>
<circle cx="1000.5" cy="161.5" r="2.2"/>
<circle cx="1018.5" cy="146.5" r="2.2"/>
<circle cx="999.5" cy="164.5" r="2.2"/>
<circle cx="1001.5" cy="138.5" r="2.2"/>
<circle cx="1010.5" cy="148.5" r="2.2"/>
<circle cx="1003.5" cy="155.5" r="2.2"/>
<circle cx="1011.5" cy="176.5" r="2.2"/>
<circle cx="1030.5" cy="162.5" r="2.2"/>
<circle cx="1000.5" cy="133.5" r="2.2"/>
<circle cx="1011.5" cy="151.5" r="2.2"/>
<circle cx="1000.5" cy="172.5" r="2.2"/>
<circle cx="1010.5" cy="135.5" r="2.2"/>
<circle cx="996.5" cy="133.5" r="2.2"/>
<circle cx="993.5" cy="161.5" r="2.2"/>
<circle cx="1015.5" cy="151.5" r="2.2"/>
<circle cx="1017.5" cy="161.5" r="2.2"/>
<circle cx="994.5" cy="176.5" r="2.2"/>
<circle cx="992.5" cy="166.5" r="2.2"/>
<circle cx="989.5" cy="147.5" r="2.2"/>
<circle cx="999.5" cy="178.5" r="2.2"/>
<circle cx="1041.5" cy="162.5" r="2.2"/>
<circle cx="991.5" cy="134.5" r="2.2"/>
<circle cx="1024.5" cy="167.5" r="2.2"/>
<circle cx="988.5" cy="165.5" r="2.2"/>
<circle cx="1023.5" cy="155.5" r="2.2"/>
<circle cx="997.5" cy="152.5" r="2.2"/>
<circle cx="1024.5" cy="170.5" r="2.2"/>
<circle cx="1003.5" cy="170.5" r="2.2"/>
<circle cx="1037.5" cy="127.5" r="2.2"/>
<circle cx="1021.5" cy="153.5" r="2.2"/>
<circle cx="1017.5" cy="180.5" r="2.2"/>
<circle cx="1012.5" cy="169.5" r="2.2"/>
<circle cx="990.5" cy="161.5" r="2.2"/>
<circle cx="1003.5" cy="143.5" r="2.2"/>
<circle cx="1017.5" cy="148.5" r="2.2"/>
<circle cx="995.5" cy="142.5" r="2.2"/>
<circle cx="1006.5" cy="135.5" r="2.2"/>
<circle cx="995.5" cy="188.5" r="2.2"/>
<circle cx="1001.5" cy="122.5" r="2.2"/>
<circle cx="1014.5" cy="154.5" r="2.2"/>
<circle cx="1020.5" cy="144.5" r="2.2"/>
<circle cx="1014.5" cy="158.5" r="2.2"/>
<circle cx="1009.5" cy="148.5" r="2.2"/>
<circle cx="999.5" cy="166.5" r="2.2"/>
<circle cx="1010.5" cy="138.5" r="2.2"/>
<circle cx="1017.5" cy="144.5" r="2.2"/>
<circle cx="1015.5" cy="116.5" r="2.2"/>
<circle cx="1011.5" cy="137.5" r="2.2"/>
<circle cx="1034.5" cy="150.5" r="2.2"/>
<circle cx="1011.5" cy="137.5" r="2.2"/>
<circle cx="1031.5" cy="147.5" r="2.2"/>
<circle cx="1013.5" cy="150.5" r="2.2"/>
<circle cx="992.5" cy="136.5" r="2.2"/>
<circle cx="1004.5" cy="174.5" r="2.2"/>
<circle cx="1006.5" cy="174.5" r="2.2"/>
<circle cx="994.5" cy="151.5" r="2.2"/>
<circle cx="995.5" cy="137.5" r="2.2"/>
<circle cx="988.5" cy="148.5" r="2.2"/>
<circle cx="1015.5" cy="131.5" r="2.2"/>
<circle cx="1020.5" cy="148.5" r="2.2"/>
<circle cx="1009.5" cy="152.5" r="2.2"/>
<circle cx="1023.5" cy="160.5" r="2.2"/>
<circle cx="1015.5" cy="152.5" r="2.2"/>
<circle cx="1011.5" cy="155.5" r="2.2"/>
<circle cx="1037.5" cy="160.5" r="2.2"/>
<circle cx="1011.5" cy="147.5" r="2.2"/>
<circle cx="1016.5" cy="145.5" r="2.2"/>
<circle cx="1014.5" cy="138.5" r="2.2"/>
<circle cx="988.5" cy="151.5" r="2.2"/>
<circle cx="991.5" cy="148.5" r="2.2"/>
<circle cx="992.5" cy="164.5" r="2.2"/>
<circle cx="1007.5" cy="132.5" r="2.2"/>
<circle cx="1016.5" cy="147.5" r="2.2"/>
<circle cx="1027.5" cy="164.5" r="2.2"/>
<circle cx="980.5" cy="157.5" r="2.2"/>
<circle cx="1004.5" cy="134.5" r="2.2"/>
<circle cx="1037.5" cy="169.5" r="2.2"/>
<circle cx="1041.5" cy="130.5" r="2.2"/>
<circle cx="1019.5" cy="146.5" r="2.2"/>
<circle cx="1041.5" cy="150.5" r="2.2"/>
<circle cx="1002.5" cy="149.5" r="2.2"/>
<circle cx="990.5" cy="145.5" r="2.2"/>
<circle cx="1007.5" cy="147.5" r="2.2"/>
<circle cx="1013.5" cy="165.5" r="2.2"/>
<circle cx="1026.5" cy="165.5" r="2.2"/>
<circle cx="1020.5" cy="172.5" r="2.2"/>
<circle cx="1013.5" cy="162.5" r="2.2"/>
<circle cx="1009.5" cy="160.5" r="2.2"/>
<circle cx="979.5" cy="166.5" r="2.2"/>
<circle cx="1009.5" cy="143.5" r="2.2"/>
<circle cx="988.5" cy="180.5" r="2.2"/>
<circle cx="996.5" cy="154.5" r="2.2"/>
<circle cx="999.5" cy="162.5" r="2.2"/>
<circle cx="1020.5" cy="138.5" r="2.2"/>
<circle cx="1018.5" cy="164.5" r="2.2"/>
<circle cx="1009.5" cy="154.5" r="2.2"/>
<circle cx="989.5" cy="139.5" r="2.2"/>
<circle cx="1009.5" cy="158.5" r="2.2"/>
<circle cx="1027.5" cy="141.5" r="2.2"/>
<circle cx="1020.5" cy="135.5" r="2.2"/>
<circle cx="1018.5" cy="168.5" r="2.2"/>
<circle cx="1003.5" cy="137.5" r="2.2"/>
<circle cx="998.5" cy="150.5" r="2.2"/>
<circle cx="1013.5" cy="132.5" r="2.2"/>
<circle cx="1026.5" cy="139.5" r="2.2"/>
<circle cx="1006.5" cy="139.5" r="2.2"/>
<circle cx="1015.5" cy="153.5" r="2.2"/>
<circle cx="1026.5" cy="144.5" r="2.2"/>
<circle cx="998.5" cy="134.5" r="2.2"/>
<circle cx="1005.5" cy="143.5" r="2.2"/>
<circle cx="987.5" cy="151.5" r="2.2"/>
<circle cx="995.5" cy="164.5" r="2.2"/>
<circle cx="982.5" cy="122.5" r="2.2"/>
<circle cx="1006.5" cy="148.5" r="2.2"/>
<circle cx="1023.5" cy="153.5" r="2.2"/>
<circle cx="1015.5" cy="169.5" r="2.2"/>
<circle cx="1011.5" cy="157.5" r="2.2"/>
<circle cx="1015.5" cy="149.5" r="2.2"/>
<circle cx="989.5" cy="176.5" r="2.2"/>
<circle cx="994.5" cy="141.5" r="2.2"/>
<circle cx="1014.5" cy="146.5" r="2.2"/>
<circle cx="981.5" cy="187.5" r="2.2"/>
<circle cx="1000.5" cy="156.5" r="2.2"/>
<circle cx="1000.5" cy="146.5" r="2.2"/>
<circle cx="1006.5" cy="167.5" r="2.2"/>
<circle cx="996.5" cy="149.5" r="2.2"/>
<circle cx="1009.5" cy="152.5" r="2.2"/>
<circle cx="1038.5" cy="155.5" r="2.2"/>
<circle cx="1010.5" cy="165.5" r="2.2"/>
<circle cx="1003.5" cy="144.5" r="2.2"/>
<circle cx="1016.5" cy="153.5" r="2.2"/>
<circle cx="1013.5" cy="150.5" r="2.2"/>
<circle cx="982.5" cy="195.5" r="2.2"/>
<circle cx="1039.5" cy="140.5" r="2.2"/>
<circle cx="1007.5" cy="175.5" r="2.2"/>
<circle cx="991.5" cy="133.5" r="2.2"/>
<circle cx="970.5" cy="156.5" r="2.2"/>
<circle cx="1020.5" cy="149.5" r="2.2"/>
<circle cx="1018.5" cy="153.5" r="2.2"/>
<circle cx="1040.5" cy="165.5" r="2.2"/>
<circle cx="989.5" cy="147.5" r="2.2"/>
<circle cx="1027.5" cy="152.5" r="2.2"/>
<circle cx="1022.5" cy="158.5" r="2.2"/>
<circle cx="992.5" cy="132.5" r="2.2"/>
<circle cx="1029.5" cy="130.5" r="2.2"/>
<circle cx="1002.5" cy="167.5" r="2.2"/>
<circle cx="992.5" cy="154.5" r="2.2"/>
<circle cx="1016.5" cy="144.5" r="2.2"/>
<circle cx="881.5" cy="104.5" r="2.2"/>
<circle cx="900.5" cy="105.5" r="2.2"/>
<circle cx="900.5" cy="109.5" r="2.2"/>
<circle cx="908.5" cy="105.5" r="2.2"/>
<circle cx="903.5" cy="116.5" r="2.2"/>
<circle cx="905.5" cy="108.5" r="2.2"/>
<circle cx="871.5" cy="100.5" r="2.2"/>
<circle cx="896.5" cy="94.5" r="2.2"/>
<circle cx="898.5" cy="108.5" r="2.2"/>
<circle cx="903.5" cy="107.5" r="2.2"/>
<circle cx="894.5" cy="131.5" r="2.2"/>
<circle cx="925.5" cy="128.5" r="2.2"/>
<circle cx="895.5" cy="98.5" r="2.2"/>
<circle cx="905.5" cy="99.5" r="2.2"/>
<circle cx="910.5" cy="89.5" r="2.2"/>
<circle cx="904.5" cy="67.5" r="2.2"/>
<circle cx="886.5" cy="103.5" r="2.2"/>
<circle cx="895.5" cy="114.5" r="2.2"/>
<circle cx="904.5" cy="87.5" r="2.2"/>
<circle cx="890.5" cy="116.5" r="2.2"/>
<circle cx="910.5" cy="99.5" r="2.2"/>
<circle cx="926.5" cy="93.5" r="2.2"/>
<circle cx="903.5" cy="111.5" r="2.2"/>
<circle cx="903.5" cy="109.5" r="2.2"/>
<circle cx="882.5" cy="106.5" r="2.2"/>
<circle cx="898.5" cy="110.5" r="2.2"/>
<circle cx="894.5" cy="84.5" r="2.2"/>
<circle cx="909.5" cy="94.5" r="2.2"/>
<circle cx="892.5" cy="120.5" r="2.2"/>
<circle cx="896.5" cy="103.5" r="2.2"/>
<circle cx="895.5" cy="109.5" r="2.2"/>
<circle cx="913.5" cy="102.5" r="2.2"/>
<circle cx="887.5" cy="112.5" r="2.2"/>
<circle cx="891.5" cy="104.5" r="2.2"/>
<circle cx="884.5" cy="109.5" r="2.2"/>
<circle cx="909.5" cy="106.5" r="2.2"/>
<circle cx="888.5" cy="115.5" r="2.2"/>
<circle cx="902.5" cy="100.5" r="2.2"/>
<circle cx="911.5" cy="108.5" r="2.2"/>
<circle cx="882.5" cy="87.5" r="2.2"/>
<circle cx="904.5" cy="101.5" r="2.2"/>
<circle cx="904.5" cy="121.5" r="2.2"/>
<circle cx="896.5" cy="103.5" r="2.2"/>
<circle cx="914.5" cy="106.5" r="2.2"/>
<circle cx="858.5" cy="110.5" r="2.2"/>
<circle cx="905.5" cy="89.5" r="2.2"/>
<circle cx="910.5" cy="73.5" r="2.2"/>
<circle cx="919.5" cy="88.5" r="2.2"/>
<circle cx="913.5" cy="125.5" r="2.2"/>
<circle cx="911.5" cy="98.5" r="2.2"/>
<circle cx="893.5" cy="99.5" r="2.2"/>
<circle cx="906.5" cy="113.5" r="2.2"/>
<circle cx="898.5" cy="110.5" r="2.2"/>
<circle cx="903.5" cy="112.5" r="2.2"/>
<circle cx="907.5" cy="132.5" r="2.2"/>
<circle cx="896.5" cy="129.5" r="2.2"/>
<circle cx="893.5" cy="100.5" r="2.2"/>
<circle cx="900.5" cy="108.5" r="2.2"/>
<circle cx="901.5" cy="85.5" r="2.2"/>
<circle cx="885.5" cy="95.5" r="2.2"/>
<circle cx="880.5" cy="113.5" r="2.2"/>
<circle cx="902.5" cy="118.5" r="2.2"/>
<circle cx="903.5" cy="97.5" r="2.2"/>
<circle cx="884.5" cy="108.5" r="2.2"/>
<circle cx="895.5" cy="133.5" r="2.2"/>
<circle cx="897.5" cy="117.5" r="2.2"/>
<circle cx="918.5" cy="118.5" r="2.2"/>
<circle cx="923.5" cy="114.5" r="2.2"/>
<circle cx="926.5" cy="99.5" r="2.2"/>
<circle cx="906.5" cy="96.5" r="2.2"/>
<circle cx="912.5" cy="88.5" r="2.2"/>
<circle cx="923.5" cy="111.5" r="2.2"/>
<circle cx="883.5" cy="143.5" r="2.2"/>
<circle cx="895.5" cy="96.5" r="2.2"/>
<circle cx="905.5" cy="105.5" r="2.2"/>
<circle cx="895.5" cy="115.5" r="2.2"/>
<circle cx="896.5" cy="101.5" r="2.2"/>
<circle cx="876.5" cy="97.5" r="2.2"/>
<circle cx="880.5" cy="109.5" r="2.2"/>
<circle cx="891.5" cy="111.5" r="2.2"/>
<circle cx="886.5" cy="122.5" r="2.2"/>
<circle cx="897.5" cy="121.5" r="2.2"/>
<circle cx="933.5" cy="112.5" r="2.2"/>
<circle cx="891.5" cy="114.5" r="2.2"/>
<circle cx="885.5" cy="140.5" r="2.2"/>
<circle cx="896.5" cy="102.5" r="2.2"/>
<circle cx="880.5" cy="107.5" r="2.2"/>
<circle cx="884.5" cy="107.5" r="2.2"/>
<circle cx="905.5" cy="100.5" r="2.2"/>
<circle cx="906.5" cy="116.5" r="2.2"/>
<circle cx="912.5" cy="113.5" r="2.2"/>
<circle cx="905.5" cy="97.5" r="2.2"/>
<circle cx="896.5" cy="124.5" r="2.2"/>
<circle cx="908.5" cy="122.5" r="2.2"/>
<circle cx="888.5" cy="122.5" r="2.2"/>
<circle cx="911.5" cy="109.5" r="2.2"/>
<circle cx="870.5" cy="97.5" r="2.2"/>
<circle cx="928.5" cy="82.5" r="2.2"/>
<circle cx="892.5" cy="106.5" r="2.2"/>
<circle cx="907.5" cy="95.5" r="2.2"/>
<circle cx="900.5" cy="121.5" r="2.2"/>
<circle cx="910.5" cy="98.5" r="2.2"/>
<circle cx="882.5" cy="112.5" r="2.2"/>
<circle cx="903.5" cy="107.5" r="2.2"/>
<circle cx="907.5" cy="96.5" r="2.2"/>
<circle cx="907.5" cy="108.5" r="2.2"/>
<circle cx="882.5" cy="98.5" r="2.2"/>
<circle cx="919.5" cy="80.5" r="2.2"/>
<circle cx="899.5" cy="107.5" r="2.2"/>
<circle cx="919.5" cy="87.5" r="2.2"/>
<circle cx="904.5" cy="97.5" r="2.2"/>
<circle cx="890.5" cy="99.5" r="2.2"/>
<circle cx="889.5" cy="109.5" r="2.2"/>
<circle cx="898.5" cy="113.5" r="2.2"/>
<circle cx="871.5" cy="118.5" r="2.2"/>
<circle cx="904.5" cy="108.5" r="2.2"/>
<circle cx="894.5" cy="101.5" r="2.2"/>
<circle cx="909.5" cy="95.5" r="2.2"/>
<circle cx="889.5" cy="106.5" r="2.2"/>
<circle cx="895.5" cy="119.5" r="2.2"/>
<circle cx="880.5" cy="108.5" r="2.2"/>
<circle cx="888.5" cy="78.5" r="2.2"/>
<circle cx="898.5" cy="110.5" r="2.2"/>
<circle cx="894.5" cy="81.5" r="2.2"/>
<circle cx="887.5" cy="109.5" r="2.2"/>
<circle cx="889.5" cy="108.5" r="2.2"/>
<circle cx="899.5" cy="92.5" r="2.2"/>
<circle cx="881.5" cy="107.5" r="2.2"/>
<circle cx="922.5" cy="114.5" r="2.2"/>
<circle cx="897.5" cy="119.5" r="2.2"/>
<circle cx="864.5" cy="108.5" r="2.2"/>
<circle cx="916.5" cy="113.5" r="2.2"/>
<circle cx="875.5" cy="103.5" r="2.2"/>
<circle cx="901.5" cy="93.5" r="2.2"/>
<circle cx="912.5" cy="110.5" r="2.2"/>
<circle cx="905.5" cy="131.5" r="2.2"/>
<circle cx="915.5" cy="104.5" r="2.2"/>
<circle cx="914.5" cy="92.5" r="2.2"/>
<circle cx="896.5" cy="109.5" r="2.2"/>
<circle cx="888.5" cy="135.5" r="2.2"/>
<circle cx="898.5" cy="105.5" r="2.2"/>
<circle cx="885.5" cy="97.5" r="2.2"/>
<circle cx="901.5" cy="101.5" r="2.2"/>
<circle cx="889.5" cy="131.5" r="2.2"/>
<circle cx="910.5" cy="98.5" r="2.2"/>
<circle cx="898.5" cy="112.5" r="2.2"/>
<circle cx="896.5" cy="109.5" r="2.2"/>
<circle cx="893.5" cy="134.5" r="2.2"/>
<circle cx="910.5" cy="127.5" r="2.2"/>
<circle cx="895.5" cy="111.5" r="2.2"/>
<circle cx="903.5" cy="129.5" r="2.2"/>
<circle cx="916.5" cy="98.5" r="2.2"/>
<circle cx="910.5" cy="90.5" r="2.2"/>
<circle cx="889.5" cy="149.5" r="2.2"/>
<circle cx="904.5" cy="89.5" r="2.2"/>
<circle cx="916.5" cy="114.5" r="2.2"/>
<circle cx="899.5" cy="103.5" r="2.2"/>
<circle cx="875.5" cy="116.5" r="2.2"/>
<circle cx="891.5" cy="85.5" r="2.2"/>
<circle cx="891.5" cy="85.5" r="2.2"/>
<circle cx="900.5" cy="129.5" r="2.2"/>
<circle cx="930.5" cy="120.5" r="2.2"/>
<circle cx="908.5" cy="83.5" r="2.2"/>
<circle cx="893.5" cy="123.5" r="2.2"/>
<circle cx="914.5" cy="106.5" r="2.2"/>
<circle cx="883.5" cy="121.5" r="2.2"/>
<circle cx="895.5" cy="93.5" r="2.2"/>
<circle cx="896.5" cy="98.5" r="2.2"/>
<circle cx="922.5" cy="89.5" r="2.2"/>
<circle cx="919.5" cy="90.5" r="2.2"/>
<circle cx="878.5" cy="90.5" r="2.2"/>
<circle cx="904.5" cy="108.5" r="2.2"/>
<circle cx="885.5" cy="128.5" r="2.2"/>
<circle cx="885.5" cy="107.5" r="2.2"/>
<circle cx="884.5" cy="118.5" r="2.2"/>
<circle cx="892.5" cy="98.5" r="2.2"/>
<circle cx="896.5" cy="108.5" r="2.2"/>
<circle cx="918.5" cy="111.5" r="2.2"/>
<circle cx="908.5" cy="121.5" r="2.2"/>
<circle cx="904.5" cy="105.5" r="2.2"/>
<circle cx="902.5" cy="113.5" r="2.2"/>
<circle cx="886.5" cy="111.5" r="2.2"/>
<circle cx="894.5" cy="93.5" r="2.2"/>
<circle cx="912.5" cy="123.5" r="2.2"/>
<circle cx="908.5" cy="113.5" r="2.2"/>
<circle cx="906.5" cy="113.5" r="2.2"/>
<circle cx="880.5" cy="93.5" r="2.2"/>
<circle cx="906.5" cy="123.5" r="2.2"/>
<circle cx="874.5" cy="114.5" r="2.2"/>
<circle cx="884.5" cy="111.5" r="2.2"/>
<circle cx="908.5" cy="87.5" r="2.2"/>
<circle cx="895.5" cy="88.5" r="2.2"/>
<circle cx="916.5" cy="112.5" r="2.2"/>
<circle cx="877.5" cy="95.5" r="2.2"/>
<circle cx="908.5" cy="75.5" r="2.2"/>
<circle cx="919.5" cy="96.5" r="2.2"/>
<circle cx="923.5" cy="121.5" r="2.2"/>
<circle cx="903.5" cy="110.5" r="2.2"/>
<circle cx="924.5" cy="99.5" r="2.2"/>
<circle cx="859.5" cy="88.5" r="2.2"/>
<circle cx="888.5" cy="96.5" r="2.2"/>
<circle cx="894.5" cy="103.5" r="2.2"/>
<circle cx="909.5" cy="104.5" r="2.2"/>
<circle cx="887.5" cy="87.5" r="2.2"/>
<circle cx="906.5" cy="107.5" r="2.2"/>
<circle cx="910.5" cy="114.5" r="2.2"/>
<circle cx="926.5" cy="103.5" r="2.2"/>
<circle cx="905.5" cy="102.5" r="2.2"/>
<circle cx="888.5" cy="122.5" r="2.2"/>
<circle cx="903.5" cy="101.5" r="2.2"/>
<circle cx="918.5" cy="100.5" r="2.2"/>
<circle cx="886.5" cy="99.5" r="2.2"/>
<circle cx="911.5" cy="93.5" r="2.2"/>
<circle cx="905.5" cy="123.5" r="2.2"/>
<circle cx="916.5" cy="116.5" r="2.2"/>
<circle cx="908.5" cy="127.5" r="2.2"/>
<circle cx="911.5" cy="117.5" r="2.2"/>
<circle cx="915.5" cy="82.5" r="2.2"/>
<circle cx="916.5" cy="122.5" r="2.2"/>
<circle cx="888.5" cy="118.5" r="2.2"/>
<circle cx="909.5" cy="102.5" r="2.2"/>
<circle cx="902.5" cy="102.5" r="2.2"/>
<circle cx="908.5" cy="97.5" r="2.2"/>
<circle cx="923.5" cy="107.5" r="2.2"/>
<circle cx="903.5" cy="131.5" r="2.2"/>
<circle cx="882.5" cy="116.5" r="2.2"/>
<circle cx="884.5" cy="103.5" r="2.2"/>
<circle cx="914.5" cy="112.5" r="2.2"/>
<circle cx="894.5" cy="113.5" r="2.2"/>
<circle cx="902.5" cy="114.5" r="2.2"/>
<circle cx="906.5" cy="102.5" r="2.2"/>
<circle cx="905.5" cy="96.5" r="2.2"/>
<circle cx="900.5" cy="105.5" r="2.2"/>
<circle cx="924.5" cy="107.5" r="2.2"/>
<circle cx="911.5" cy="106.5" r="2.2"/>
<circle cx="894.5" cy="113.5" r="2.2"/>
<circle cx="889.5" cy="106.5" r="2.2"/>
<circle cx="892.5" cy="112.5" r="2.2"/>
<circle cx="916.5" cy="108.5" r="2.2"/>
<circle cx="915.5" cy="103.5" r="2.2"/>
<circle cx="912.5" cy="115.5" r="2.2"/>
<circle cx="902.5" cy="71.5" r="2.2"/>
<circle cx="911.5" cy="93.5" r="2.2"/>
<circle cx="903.5" cy="95.5" r="2.2"/>
<circle cx="884.5" cy="118.5" r="2.2"/>
<circle cx="906.5" cy="95.5" r="2.2"/>
<circle cx="894.5" cy="109.5" r="2.2"/>
<circle cx="895.5" cy="109.5" r="2.2"/>
<circle cx="884.5" cy="126.5" r="2.2"/>
<circle cx="899.5" cy="130.5" r="2.2"/>
<circle cx="887.5" cy="116.5" r="2.2"/>
<circle cx="886.5" cy="103.5" r="2.2"/>
<circle cx="894.5" cy="108.5" r="2.2"/>
<circle cx="886.5" cy="117.5" r="2.2"/>
<circle cx="907.5" cy="102.5" r="2.2"/>
<circle cx="893.5" cy="102.5" r="2.2"/>
<circle cx="902.5" cy="105.5" r="2.2"/>
<circle cx="921.5" cy="112.5" r="2.2"/>
<circle cx="905.5" cy="101.5" r="2.2"/>
<circle cx="896.5" cy="123.5" r="2.2"/>
<circle cx="801.5" cy="148.5" r="2.2"/>
<circle cx="792.5" cy="151.5" r="2.2"/>
<circle cx="792.5" cy="164.5" r="2.2"/>
<circle cx="796.5" cy="176.5" r="2.2"/>
<circle cx="791.5" cy="172.5" r="2.2"/>
<circle cx="787.5" cy="142.5" r="2.2"/>
<circle cx="788.5" cy="158.5" r="2.2"/>
<circle cx="798.5" cy="155.5" r="2.2"/>
<circle cx="786.5" cy="157.5" r="2.2"/>
<circle cx="812.5" cy="143.5" r="2.2"/>
<circle cx="798.5" cy="168.5" r="2.2"/>
<circle cx="800.5" cy="169.5" r="2.2"/>
<circle cx="798.5" cy="167.5" r="2.2"/>
<circle cx="818.5" cy="175.5" r="2.2"/>
<circle cx="808.5" cy="141.5" r="2.2"/>
<circle cx="767.5" cy="155.5" r="2.2"/>
<circle cx="811.5" cy="137.5" r="2.2"/>
<circle cx="769.5" cy="159.5" r="2.2"/>
<circle cx="775.5" cy="166.5" r="2.2"/>
<circle cx="783.5" cy="127.5" r="2.2"/>
<circle cx="793.5" cy="155.5" r="2.2"/>
<circle cx="787.5" cy="143.5" r="2.2"/>
<circle cx="801.5" cy="164.5" r="2.2"/>
<circle cx="811.5" cy="167.5" r="2.2"/>
<circle cx="788.5" cy="146.5" r="2.2"/>
<circle cx="814.5" cy="157.5" r="2.2"/>
<circle cx="795.5" cy="134.5" r="2.2"/>
<circle cx="800.5" cy="137.5" r="2.2"/>
<circle cx="805.5" cy="149.5" r="2.2"/>
<circle cx="800.5" cy="140.5" r="2.2"/>
<circle cx="791.5" cy="130.5" r="2.2"/>
<circle cx="764.5" cy="164.5" r="2.2"/>
<circle cx="811.5" cy="146.5" r="2.2"/>
<circle cx="783.5" cy="147.5" r="2.2"/>
<circle cx="806.5" cy="160.5" r="2.2"/>
<circle cx="802.5" cy="154.5" r="2.2"/>
<circle cx="790.5" cy="153.5" r="2.2"/>
<circle cx="806.5" cy="167.5" r="2.2"/>
<circle cx="786.5" cy="143.5" r="2.2"/>
<circle cx="775.5" cy="173.5" r="2.2"/>
<circle cx="799.5" cy="152.5" r="2.2"/>
<circle cx="789.5" cy="150.5" r="2.2"/>
<circle cx="778.5" cy="113.5" r="2.2"/>
<circle cx="778.5" cy="158.5" r="2.2"/>
<circle cx="772.5" cy="158.5" r="2.2"/>
<circle cx="812.5" cy="152.5" r="2.2"/>
<circle cx="799.5" cy="159.5" r="2.2"/>
<circle cx="816.5" cy="150.5" r="2.2"/>
<circle cx="774.5" cy="142.5" r="2.2"/>
<circle cx="786.5" cy="144.5" r="2.2"/>
<circle cx="793.5" cy="148.5" r="2.2"/>
<circle cx="793.5" cy="164.5" r="2.2"/>
<circle cx="771.5" cy="139.5" r="2.2"/>
<circle cx="789.5" cy="148.5" r="2.2"/>
<circle cx="785.5" cy="179.5" r="2.2"/>
<circle cx="774.5" cy="133.5" r="2.2"/>
<circle cx="781.5" cy="157.5" r="2.2"/>
<circle cx="771.5" cy="159.5" r="2.2"/>
<circle cx="786.5" cy="155.5" r="2.2"/>
<circle cx="790.5" cy="161.5" r="2.2"/>
<circle cx="784.5" cy="152.5" r="2.2"/>
<circle cx="796.5" cy="154.5" r="2.2"/>
<circle cx="815.5" cy="149.5" r="2.2"/>
<circle cx="793.5" cy="161.5" r="2.2"/>
<circle cx="805.5" cy="166.5" r="2.2"/>
<circle cx="769.5" cy="165.5" r="2.2"/>
<circle cx="800.5" cy="168.5" r="2.2"/>
<circle cx="809.5" cy="152.5" r="2.2"/>
<circle cx="771.5" cy="155.5" r="2.2"/>
<circle cx="815.5" cy="164.5" r="2.2"/>
<circle cx="774.5" cy="145.5" r="2.2"/>
<circle cx="809.5" cy="138.5" r="2.2"/>
<circle cx="787.5" cy="150.5" r="2.2"/>
<circle cx="796.5" cy="136.5" r="2.2"/>
<circle cx="820.5" cy="154.5" r="2.2"/>
<circle cx="809.5" cy="157.5" r="2.2"/>
<circle cx="799.5" cy="165.5" r="2.2"/>
<circle cx="781.5" cy="147.5" r="2.2"/>
<circle cx="779.5" cy="140.5" r="2.2"/>
<circle cx="784.5" cy="151.5" r="2.2"/>
<circle cx="790.5" cy="157.5" r="2.2"/>
<circle cx="793.5" cy="138.5" r="2.2"/>
<circle cx="833.5" cy="168.5" r="2.2"/>
<circle cx="795.5" cy="155.5" r="2.2"/>
<circle cx="779.5" cy="148.5" r="2.2"/>
<circle cx="779.5" cy="153.5" r="2.2"/>
<circle cx="808.5" cy="179.5" r="2.2"/>
<circle cx="795.5" cy="146.5" r="2.2"/>
<circle cx="778.5" cy="145.5" r="2.2"/>
<circle cx="796.5" cy="157.5" r="2.2"/>
<circle cx="808.5" cy="170.5" r="2.2"/>
<circle cx="800.5" cy="155.5" r="2.2"/>
<circle cx="777.5" cy="155.5" r="2.2"/>
<circle cx="786.5" cy="141.5" r="2.2"/>
<circle cx="771.5" cy="155.5" r="2.2"/>
<circle cx="785.5" cy="131.5" r="2.2"/>
<circle cx="776.5" cy="138.5" r="2.2"/>
<circle cx="767.5" cy="148.5" r="2.2"/>
<circle cx="789.5" cy="147.5" r="2.2"/>
<circle cx="782.5" cy="179.5" r="2.2"/>
<circle cx="770.5" cy="135.5" r="2.2"/>
<circle cx="794.5" cy="164.5" r="2.2"/>
<circle cx="803.5" cy="162.5" r="2.2"/>
<circle cx="781.5" cy="169.5" r="2.2"/>
<circle cx="807.5" cy="126.5" r="2.2"/>
<circle cx="778.5" cy="148.5" r="2.2"/>
<circle cx="804.5" cy="124.5" r="2.2"/>
<circle cx="759.5" cy="150.5" r="2.2"/>
<circle cx="800.5" cy="172.5" r="2.2"/>
<circle cx="796.5" cy="150.5" r="2.2"/>
<circle cx="801.5" cy="160.5" r="2.2"/>
<circle cx="797.5" cy="161.5" r="2.2"/>
<circle cx="799.5" cy="150.5" r="2.2"/>
<circle cx="786.5" cy="172.5" r="2.2"/>
<circle cx="813.5" cy="137.5" r="2.2"/>
<circle cx="803.5" cy="161.5" r="2.2"/>
<circle cx="786.5" cy="130.5" r="2.2"/>
<circle cx="801.5" cy="164.5" r="2.2"/>
<circle cx="792.5" cy="151.5" r="2.2"/>
<circle cx="788.5" cy="165.5" r="2.2"/>
<circle cx="808.5" cy="144.5" r="2.2"/>
<circle cx="788.5" cy="174.5" r="2.2"/>
<circle cx="783.5" cy="152.5" r="2.2"/>
<circle cx="803.5" cy="157.5" r="2.2"/>
<circle cx="806.5" cy="150.5" r="2.2"/>
<circle cx="781.5" cy="190.5" r="2.2"/>
<circle cx="775.5" cy="172.5" r="2.2"/>
<circle cx="789.5" cy="148.5" r="2.2"/>
<circle cx="810.5" cy="152.5" r="2.2"/>
<circle cx="775.5" cy="120.5" r="2.2"/>
<circle cx="795.5" cy="156.5" r="2.2"/>
<circle cx="788.5" cy="170.5" r="2.2"/>
<circle cx="800.5" cy="147.5" r="2.2"/>
<circle cx="813.5" cy="137.5" r="2.2"/>
<circle cx="803.5" cy="135.5" r="2.2"/>
<circle cx="787.5" cy="158.5" r="2.2"/>
<circle cx="791.5" cy="169.5" r="2.2"/>
<circle cx="789.5" cy="156.5" r="2.2"/>
<circle cx="800.5" cy="152.5" r="2.2"/>
<circle cx="766.5" cy="152.5" r="2.2"/>
<circle cx="810.5" cy="177.5" r="2.2"/>
<circle cx="781.5" cy="152.5" r="2.2"/>
<circle cx="773.5" cy="159.5" r="2.2"/>
<circle cx="792.5" cy="170.5" r="2.2"/>
<circle cx="795.5" cy="146.5" r="2.2"/>
<circle cx="774.5" cy="151.5" r="2.2"/>
<circle cx="806.5" cy="154.5" r="2.2"/>
<circle cx="797.5" cy="143.5" r="2.2"/>
<circle cx="788.5" cy="139.5" r="2.2"/>
<circle cx="797.5" cy="165.5" r="2.2"/>
<circle cx="799.5" cy="140.5" r="2.2"/>
<circle cx="802.5" cy="160.5" r="2.2"/>
<circle cx="798.5" cy="133.5" r="2.2"/>
<circle cx="795.5" cy="136.5" r="2.2"/>
<circle cx="809.5" cy="152.5" r="2.2"/>
<circle cx="801.5" cy="156.5" r="2.2"/>
<circle cx="806.5" cy="153.5" r="2.2"/>
<circle cx="784.5" cy="152.5" r="2.2"/>
<circle cx="791.5" cy="146.5" r="2.2"/>
<circle cx="798.5" cy="167.5" r="2.2"/>
<circle cx="783.5" cy="147.5" r="2.2"/>
<circle cx="798.5" cy="150.5" r="2.2"/>
<circle cx="827.5" cy="136.5" r="2.2"/>
<circle cx="791.5" cy="142.5" r="2.2"/>
<circle cx="810.5" cy="146.5" r="2.2"/>
<circle cx="768.5" cy="150.5" r="2.2"/>
<circle cx="793.5" cy="122.5" r="2.2"/>
<circle cx="767.5" cy="130.5" r="2.2"/>
<circle cx="790.5" cy="139.5" r="2.2"/>
<circle cx="788.5" cy="149.5" r="2.2"/>
<circle cx="807.5" cy="150.5" r="2.2"/>
<circle cx="806.5" cy="152.5" r="2.2"/>
<circle cx="787.5" cy="154.5" r="2.2"/>
<circle cx="785.5" cy="153.5" r="2.2"/>
<circle cx="811.5" cy="167.5" r="2.2"/>
<circle cx="770.5" cy="151.5" r="2.2"/>
<circle cx="815.5" cy="137.5" r="2.2"/>
<circle cx="810.5" cy="134.5" r="2.2"/>
<circle cx="783.5" cy="149.5" r="2.2"/>
<circle cx="756.5" cy="159.5" r="2.2"/>
<circle cx="801.5" cy="172.5" r="2.2"/>
<circle cx="765.5" cy="168.5" r="2.2"/>
<circle cx="795.5" cy="135.5" r="2.2"/>
<circle cx="827.5" cy="131.5" r="2.2"/>
<circle cx="772.5" cy="182.5" r="2.2"/>
<circle cx="795.5" cy="136.5" r="2.2"/>
<circle cx="771.5" cy="158.5" r="2.2"/>
<circle cx="787.5" cy="150.5" r="2.2"/>
<circle cx="790.5" cy="144.5" r="2.2"/>
<circle cx="807.5" cy="150.5" r="2.2"/>
<circle cx="803.5" cy="124.5" r="2.2"/>
<circle cx="779.5" cy="165.5" r="2.2"/>
<circle cx="800.5" cy="125.5" r="2.2"/>
<circle cx="795.5" cy="136.5" r="2.2"/>
<circle cx="789.5" cy="138.5" r="2.2"/>
<circle cx="785.5" cy="141.5" r="2.2"/>
<circle cx="799.5" cy="145.5" r="2.2"/>
<circle cx="812.5" cy="136.5" r="2.2"/>
<circle cx="785.5" cy="138.5" r="2.2"/>
<circle cx="770.5" cy="137.5" r="2.2"/>
<circle cx="831.5" cy="143.5" r="2.2"/>
<circle cx="800.5" cy="149.5" r="2.2"/>
<circle cx="805.5" cy="156.5" r="2.2"/>
<circle cx="803.5" cy="153.5" r="2.2"/>
<circle cx="788.5" cy="148.5" r="2.2"/>
<circle cx="793.5" cy="173.5" r="2.2"/>
<circle cx="822.5" cy="148.5" r="2.2"/>
<circle cx="771.5" cy="135.5" r="2.2"/>
<circle cx="793.5" cy="147.5" r="2.2"/>
<circle cx="803.5" cy="162.5" r="2.2"/>
<circle cx="754.5" cy="151.5" r="2.2"/>
<circle cx="797.5" cy="136.5" r="2.2"/>
<circle cx="784.5" cy="153.5" r="2.2"/>
<circle cx="799.5" cy="154.5" r="2.2"/>
<circle cx="790.5" cy="146.5" r="2.2"/>
<circle cx="780.5" cy="128.5" r="2.2"/>
<circle cx="781.5" cy="149.5" r="2.2"/>
<circle cx="789.5" cy="159.5" r="2.2"/>
<circle cx="801.5" cy="136.5" r="2.2"/>
<circle cx="813.5" cy="142.5" r="2.2"/>
<circle cx="788.5" cy="138.5" r="2.2"/>
<circle cx="774.5" cy="149.5" r="2.2"/>
<circle cx="801.5" cy="142.5" r="2.2"/>
<circle cx="778.5" cy="170.5" r="2.2"/>
<circle cx="816.5" cy="157.5" r="2.2"/>
<circle cx="771.5" cy="166.5" r="2.2"/>
<circle cx="794.5" cy="134.5" r="2.2"/>
<circle cx="794.5" cy="134.5" r="2.2"/>
<circle cx="797.5" cy="143.5" r="2.2"/>
<circle cx="807.5" cy="155.5" r="2.2"/>
<circle cx="797.5" cy="155.5" r="2.2"/>
<circle cx="785.5" cy="141.5" r="2.2"/>
<circle cx="782.5" cy="149.5" r="2.2"/>
<circle cx="783.5" cy="151.5" r="2.2"/>
<circle cx="786.5" cy="135.5" r="2.2"/>
<circle cx="794.5" cy="149.5" r="2.2"/>
<circle cx="815.5" cy="189.5" r="2.2"/>
<circle cx="778.5" cy="187.5" r="2.2"/>
<circle cx="793.5" cy="144.5" r="2.2"/>
<circle cx="802.5" cy="147.5" r="2.2"/>
<circle cx="781.5" cy="127.5" r="2.2"/>
<circle cx="797.5" cy="154.5" r="2.2"/>
<circle cx="778.5" cy="145.5" r="2.2"/>
<circle cx="786.5" cy="157.5" r="2.2"/>
<circle cx="795.5" cy="148.5" r="2.2"/>
<circle cx="782.5" cy="134.5" r="2.2"/>
<circle cx="779.5" cy="166.5" r="2.2"/>
<circle cx="797.5" cy="149.5" r="2.2"/>
<circle cx="793.5" cy="156.5" r="2.2"/>
<circle cx="793.5" cy="158.5" r="2.2"/>
<circle cx="770.5" cy="141.5" r="2.2"/>
<circle cx="779.5" cy="154.5" r="2.2"/>
<circle cx="802.5" cy="151.5" r="2.2"/>
<circle cx="829.5" cy="170.5" r="2.2"/>
<circle cx="782.5" cy="150.5" r="2.2"/>
<circle cx="811.5" cy="154.5" r="2.2"/>
<circle cx="773.5" cy="136.5" r="2.2"/>
<circle cx="780.5" cy="154.5" r="2.2"/>
<circle cx="804.5" cy="160.5" r="2.2"/>
<circle cx="786.5" cy="144.5" r="2.2"/>
<circle cx="745.5" cy="254.5" r="2.2"/>
<circle cx="737.5" cy="261.5" r="2.2"/>
<circle cx="736.5" cy="284.5" r="2.2"/>
<circle cx="767.5" cy="252.5" r="2.2"/>
<circle cx="757.5" cy="275.5" r="2.2"/>
<circle cx="747.5" cy="262.5" r="2.2"/>
<circle cx="732.5" cy="250.5" r="2.2"/>
<circle cx="740.5" cy="262.5" r="2.2"/>
<circle cx="731.5" cy="243.5" r="2.2"/>
<circle cx="756.5" cy="253.5" r="2.2"/>
<circle cx="738.5" cy="268.5" r="2.2"/>
<circle cx="761.5" cy="263.5" r="2.2"/>
<circle cx="750.5" cy="257.5" r="2.2"/>
<circle cx="735.5" cy="234.5" r="2.2"/>
<circle cx="726.5" cy="255.5" r="2.2"/>
<circle cx="747.5" cy="285.5" r="2.2"/>
<circle cx="751.5" cy="251.5" r="2.2"/>
<circle cx="748.5" cy="272.5" r="2.2"/>
<circle cx="752.5" cy="241.5" r="2.2"/>
<circle cx="750.5" cy="231.5" r="2.2"/>
<circle cx="757.5" cy="246.5" r="2.2"/>
<circle cx="763.5" cy="270.5" r="2.2"/>
<circle cx="742.5" cy="251.5" r="2.2"/>
<circle cx="753.5" cy="234.5" r="2.2"/>
<circle cx="760.5" cy="256.5" r="2.2"/>
<circle cx="750.5" cy="263.5" r="2.2"/>
<circle cx="744.5" cy="266.5" r="2.2"/>
<circle cx="757.5" cy="266.5" r="2.2"/>
<circle cx="744.5" cy="256.5" r="2.2"/>
<circle cx="742.5" cy="262.5" r="2.2"/>
<circle cx="724.5" cy="253.5" r="2.2"/>
<circle cx="744.5" cy="255.5" r="2.2"/>
<circle cx="752.5" cy="289.5" r="2.2"/>
<circle cx="774.5" cy="256.5" r="2.2"/>
<circle cx="750.5" cy="287.5" r="2.2"/>
<circle cx="755.5" cy="251.5" r="2.2"/>
<circle cx="745.5" cy="253.5" r="2.2"/>
<circle cx="763.5" cy="263.5" r="2.2"/>
<circle cx="739.5" cy="235.5" r="2.2"/>
<circle cx="752.5" cy="260.5" r="2.2"/>
<circle cx="774.5" cy="254.5" r="2.2"/>
<circle cx="747.5" cy="252.5" r="2.2"/>
<circle cx="745.5" cy="253.5" r="2.2"/>
<circle cx="751.5" cy="267.5" r="2.2"/>
<circle cx="746.5" cy="252.5" r="2.2"/>
<circle cx="753.5" cy="247.5" r="2.2"/>
<circle cx="757.5" cy="253.5" r="2.2"/>
<circle cx="755.5" cy="263.5" r="2.2"/>
<circle cx="746.5" cy="240.5" r="2.2"/>
<circle cx="728.5" cy="251.5" r="2.2"/>
<circle cx="783.5" cy="287.5" r="2.2"/>
<circle cx="765.5" cy="286.5" r="2.2"/>
<circle cx="753.5" cy="231.5" r="2.2"/>
<circle cx="765.5" cy="272.5" r="2.2"/>
<circle cx="734.5" cy="281.5" r="2.2"/>
<circle cx="756.5" cy="264.5" r="2.2"/>
<circle cx="748.5" cy="254.5" r="2.2"/>
<circle cx="753.5" cy="249.5" r="2.2"/>
<circle cx="749.5" cy="284.5" r="2.2"/>
<circle cx="764.5" cy="303.5" r="2.2"/>
<circle cx="761.5" cy="268.5" r="2.2"/>
<circle cx="746.5" cy="267.5" r="2.2"/>
<circle cx="744.5" cy="259.5" r="2.2"/>
<circle cx="745.5" cy="276.5" r="2.2"/>
<circle cx="757.5" cy="268.5" r="2.2"/>
<circle cx="762.5" cy="261.5" r="2.2"/>
<circle cx="740.5" cy="251.5" r="2.2"/>
<circle cx="757.5" cy="273.5" r="2.2"/>
<circle cx="745.5" cy="235.5" r="2.2"/>
<circle cx="737.5" cy="272.5" r="2.2"/>
<circle cx="750.5" cy="278.5" r="2.2"/>
<circle cx="721.5" cy="285.5" r="2.2"/>
<circle cx="752.5" cy="248.5" r="2.2"/>
<circle cx="754.5" cy="252.5" r="2.2"/>
<circle cx="735.5" cy="247.5" r="2.2"/>
<circle cx="760.5" cy="270.5" r="2.2"/>
<circle cx="758.5" cy="264.5" r="2.2"/>
<circle cx="750.5" cy="252.5" r="2.2"/>
<circle cx="732.5" cy="235.5" r="2.2"/>
<circle cx="739.5" cy="260.5" r="2.2"/>
<circle cx="743.5" cy="251.5" r="2.2"/>
<circle cx="753.5" cy="258.5" r="2.2"/>
<circle cx="763.5" cy="254.5" r="2.2"/>
<circle cx="744.5" cy="305.5" r="2.2"/>
<circle cx="745.5" cy="263.5" r="2.2"/>
<circle cx="739.5" cy="272.5" r="2.2"/>
<circle cx="754.5" cy="241.5" r="2.2"/>
<circle cx="768.5" cy="240.5" r="2.2"/>
<circle cx="740.5" cy="254.5" r="2.2"/>
<circle cx="733.5" cy="246.5" r="2.2"/>
<circle cx="752.5" cy="268.5" r="2.2"/>
<circle cx="747.5" cy="262.5" r="2.2"/>
<circle cx="741.5" cy="237.5" r="2.2"/>
<circle cx="781.5" cy="245.5" r="2.2"/>
<circle cx="759.5" cy="256.5" r="2.2"/>
<circle cx="744.5" cy="223.5" r="2.2"/>
<circle cx="744.5" cy="252.5" r="2.2"/>
<circle cx="747.5" cy="249.5" r="2.2"/>
<circle cx="747.5" cy="249.5" r="2.2"/>
<circle cx="734.5" cy="260.5" r="2.2"/>
<circle cx="763.5" cy="275.5" r="2.2"/>
<circle cx="741.5" cy="236.5" r="2.2"/>
<circle cx="752.5" cy="241.5" r="2.2"/>
<circle cx="724.5" cy="256.5" r="2.2"/>
<circle cx="734.5" cy="281.5" r="2.2"/>
<circle cx="752.5" cy="239.5" r="2.2"/>
<circle cx="732.5" cy="276.5" r="2.2"/>
<circle cx="742.5" cy="260.5" r="2.2"/>
<circle cx="734.5" cy="222.5" r="2.2"/>
<circle cx="754.5" cy="264.5" r="2.2"/>
<circle cx="742.5" cy="221.5" r="2.2"/>
<circle cx="772.5" cy="266.5" r="2.2"/>
<circle cx="752.5" cy="238.5" r="2.2"/>
<circle cx="735.5" cy="268.5" r="2.2"/>
<circle cx="762.5" cy="270.5" r="2.2"/>
<circle cx="743.5" cy="280.5" r="2.2"/>
<circle cx="740.5" cy="247.5" r="2.2"/>
<circle cx="739.5" cy="280.5" r="2.2"/>
<circle cx="741.5" cy="230.5" r="2.2"/>
<circle cx="750.5" cy="268.5" r="2.2"/>
<circle cx="749.5" cy="251.5" r="2.2"/>
<circle cx="749.5" cy="288.5" r="2.2"/>
<circle cx="751.5" cy="262.5" r="2.2"/>
<circle cx="757.5" cy="281.5" r="2.2"/>
<circle cx="759.5" cy="267.5" r="2.2"/>
<circle cx="729.5" cy="237.5" r="2.2"/>
<circle cx="742.5" cy="253.5" r="2.2"/>
<circle cx="746.5" cy="241.5" r="2.2"/>
<circle cx="760.5" cy="241.5" r="2.2"/>
<circle cx="755.5" cy="285.5" r="2.2"/>
<circle cx="729.5" cy="256.5" r="2.2"/>
<circle cx="737.5" cy="251.5" r="2.2"/>
<circle cx="749.5" cy="282.5" r="2.2"/>
<circle cx="736.5" cy="278.5" r="2.2"/>
<circle cx="738.5" cy="262.5" r="2.2"/>
<circle cx="755.5" cy="237.5" r="2.2"/>
<circle cx="737.5" cy="268.5" r="2.2"/>
<circle cx="764.5" cy="244.5" r="2.2"/>
<circle cx="750.5" cy="297.5" r="2.2"/>
<circle cx="736.5" cy="256.5" r="2.2"/>
<circle cx="741.5" cy="227.5" r="2.2"/>
<circle cx="748.5" cy="254.5" r="2.2"/>
<circle cx="735.5" cy="276.5" r="2.2"/>
<circle cx="740.5" cy="269.5" r="2.2"/>
<circle cx="745.5" cy="253.5" r="2.2"/>
<circle cx="750.5" cy="243.5" r="2.2"/>
<circle cx="733.5" cy="256.5" r="2.2"/>
<circle cx="750.5" cy="233.5" r="2.2"/>
<circle cx="745.5" cy="254.5" r="2.2"/>
<circle cx="739.5" cy="252.5" r="2.2"/>
<circle cx="752.5" cy="269.5" r="2.2"/>
<circle cx="743.5" cy="260.5" r="2.2"/>
<circle cx="754.5" cy="278.5" r="2.2"/>
<circle cx="757.5" cy="264.5" r="2.2"/>
<circle cx="768.5" cy="235.5" r="2.2"/>
<circle cx="743.5" cy="269.5" r="2.2"/>
<circle cx="774.5" cy="249.5" r="2.2"/>
<circle cx="754.5" cy="266.5" r="2.2"/>
<circle cx="746.5" cy="246.5" r="2.2"/>
<circle cx="754.5" cy="273.5" r="2.2"/>
<circle cx="761.5" cy="254.5" r="2.2"/>
<circle cx="737.5" cy="243.5" r="2.2"/>
<circle cx="746.5" cy="246.5" r="2.2"/>
<circle cx="741.5" cy="253.5" r="2.2"/>
<circle cx="730.5" cy="253.5" r="2.2"/>
<circle cx="731.5" cy="256.5" r="2.2"/>
<circle cx="720.5" cy="260.5" r="2.2"/>
<circle cx="755.5" cy="251.5" r="2.2"/>
<circle cx="761.5" cy="277.5" r="2.2"/>
<circle cx="765.5" cy="233.5" r="2.2"/>
<circle cx="734.5" cy="272.5" r="2.2"/>
<circle cx="741.5" cy="259.5" r="2.2"/>
<circle cx="749.5" cy="299.5" r="2.2"/>
<circle cx="754.5" cy="263.5" r="2.2"/>
<circle cx="736.5" cy="244.5" r="2.2"/>
<circle cx="744.5" cy="240.5" r="2.2"/>
<circle cx="753.5" cy="264.5" r="2.2"/>
<circle cx="760.5" cy="246.5" r="2.2"/>
<circle cx="742.5" cy="285.5" r="2.2"/>
<circle cx="741.5" cy="249.5" r="2.2"/>
<circle cx="745.5" cy="230.5" r="2.2"/>
<circle cx="750.5" cy="256.5" r="2.2"/>
<circle cx="752.5" cy="274.5" r="2.2"/>
<circle cx="746.5" cy="270.5" r="2.2"/>
<circle cx="722.5" cy="288.5" r="2.2"/>
<circle cx="755.5" cy="266.5" r="2.2"/>
<circle cx="746.5" cy="283.5" r="2.2"/>
<circle cx="741.5" cy="246.5" r="2.2"/>
<circle cx="748.5" cy="268.5" r="2.2"/>
<circle cx="764.5" cy="260.5" r="2.2"/>
<circle cx="744.5" cy="240.5" r="2.2"/>
<circle cx="729.5" cy="250.5" r="2.2"/>
<circle cx="735.5" cy="272.5" r="2.2"/>
<circle cx="740.5" cy="257.5" r="2.2"/>
<circle cx="749.5" cy="254.5" r="2.2"/>
<circle cx="750.5" cy="236.5" r="2.2"/>
<circle cx="766.5" cy="248.5" r="2.2"/>
<circle cx="756.5" cy="265.5" r="2.2"/>
<circle cx="735.5" cy="249.5" r="2.2"/>
<circle cx="748.5" cy="245.5" r="2.2"/>
<circle cx="728.5" cy="215.5" r="2.2"/>
<circle cx="734.5" cy="258.5" r="2.2"/>
<circle cx="758.5" cy="282.5" r="2.2"/>
<circle cx="741.5" cy="292.5" r="2.2"/>
<circle cx="732.5" cy="291.5" r="2.2"/>
<circle cx="749.5" cy="254.5" r="2.2"/>
<circle cx="744.5" cy="238.5" r="2.2"/>
<circle cx="763.5" cy="259.5" r="2.2"/>
<circle cx="745.5" cy="264.5" r="2.2"/>
<circle cx="743.5" cy="238.5" r="2.2"/>
<circle cx="750.5" cy="264.5" r="2.2"/>
<circle cx="745.5" cy="250.5" r="2.2"/>
<circle cx="743.5" cy="254.5" r="2.2"/>
<circle cx="747.5" cy="237.5" r="2.2"/>
<circle cx="760.5" cy="282.5" r="2.2"/>
<circle cx="746.5" cy="247.5" r="2.2"/>
<circle cx="743.5" cy="246.5" r="2.2"/>
<circle cx="751.5" cy="249.5" r="2.2"/>
<circle cx="747.5" cy="254.5" r="2.2"/>
<circle cx="753.5" cy="283.5" r="2.2"/>
<circle cx="738.5" cy="276.5" r="2.2"/>
<circle cx="766.5" cy="254.5" r="2.2"/>
<circle cx="752.5" cy="256.5" r="2.2"/>
<circle cx="742.5" cy="271.5" r="2.2"/>
<circle cx="757.5" cy="265.5" r="2.2"/>
<circle cx="765.5" cy="256.5" r="2.2"/>
<circle cx="749.5" cy="263.5" r="2.2"/>
<circle cx="747.5" cy="258.5" r="2.2"/>
<circle cx="764.5" cy="221.5" r="2.2"/>
<circle cx="735.5" cy="255.5" r="2.2"/>
<circle cx="755.5" cy="274.5" r="2.2"/>
<circle cx="741.5" cy="266.5" r="2.2"/>
<circle cx="721.5" cy="248.5" r="2.2"/>
<circle cx="747.5" cy="260.5" r="2.2"/>
<circle cx="748.5" cy="255.5" r="2.2"/>
<circle cx="773.5" cy="256.5" r="2.2"/>
<circle cx="757.5" cy="267.5" r="2.2"/>
<circle cx="751.5" cy="264.5" r="2.2"/>
<circle cx="746.5" cy="274.5" r="2.2"/>
<circle cx="739.5" cy="251.5" r="2.2"/>
<circle cx="756.5" cy="251.5" r="2.2"/>
<circle cx="740.5" cy="254.5" r="2.2"/>
<circle cx="720.5" cy="243.5" r="2.2"/>
<circle cx="747.5" cy="254.5" r="2.2"/>
<circle cx="760.5" cy="266.5" r="2.2"/>
<circle cx="758.5" cy="266.5" r="2.2"/>
<circle cx="754.5" cy="265.5" r="2.2"/>
<circle cx="751.5" cy="235.5" r="2.2"/>
<circle cx="741.5" cy="269.5" r="2.2"/>
<circle cx="744.5" cy="254.5" r="2.2"/>
<circle cx="778.5" cy="268.5" r="2.2"/>
<circle cx="726.5" cy="269.5" r="2.2"/>
<circle cx="731.5" cy="268.5" r="2.2"/>
<circle cx="748.5" cy="274.5" r="2.2"/>
<circle cx="740.5" cy="289.5" r="2.2"/>
<circle cx="750.5" cy="271.5" r="2.2"/>
<circle cx="760.5" cy="241.5" r="2.2"/>
<circle cx="738.5" cy="265.5" r="2.2"/>
<circle cx="748.5" cy="246.5" r="2.2"/>
<circle cx="730.5" cy="260.5" r="2.2"/>
<circle cx="818.5" cy="368.5" r="2.2"/>
<circle cx="796.5" cy="366.5" r="2.2"/>
<circle cx="777.5" cy="353.5" r="2.2"/>
<circle cx="796.5" cy="364.5" r="2.2"/>
<circle cx="803.5" cy="356.5" r="2.2"/>
<circle cx="767.5" cy="360.5" r="2.2"/>
<circle cx="785.5" cy="364.5" r="2.2"/>
<circle cx="783.5" cy="378.5" r="2.2"/>
<circle cx="806.5" cy="366.5" r="2.2"/>
<circle cx="789.5" cy="370.5" r="2.2"/>
<circle cx="794.5" cy="366.5" r="2.2"/>
<circle cx="761.5" cy="378.5" r="2.2"/>
<circle cx="790.5" cy="356.5" r="2.2"/>
<circle cx="811.5" cy="379.5" r="2.2"/>
<circle cx="819.5" cy="365.5" r="2.2"/>
<circle cx="800.5" cy="373.5" r="2.2"/>
<circle cx="785.5" cy="346.5" r="2.2"/>
<circle cx="790.5" cy="367.5" r="2.2"/>
<circle cx="809.5" cy="343.5" r="2.2"/>
<circle cx="773.5" cy="368.5" r="2.2"/>
<circle cx="793.5" cy="341.5" r="2.2"/>
<circle cx="827.5" cy="366.5" r="2.2"/>
<circle cx="798.5" cy="354.5" r="2.2"/>
<circle cx="809.5" cy="370.5" r="2.2"/>
<circle cx="805.5" cy="375.5" r="2.2"/>
<circle cx="757.5" cy="384.5" r="2.2"/>
<circle cx="796.5" cy="355.5" r="2.2"/>
<circle cx="763.5" cy="390.5" r="2.2"/>
<circle cx="793.5" cy="411.5" r="2.2"/>
<circle cx="801.5" cy="351.5" r="2.2"/>
<circle cx="753.5" cy="355.5" r="2.2"/>
<circle cx="791.5" cy="346.5" r="2.2"/>
<circle cx="798.5" cy="368.5" r="2.2"/>
<circle cx="795.5" cy="352.5" r="2.2"/>
<circle cx="796.5" cy="365.5" r="2.2"/>
<circle cx="774.5" cy="359.5" r="2.2"/>
<circle cx="794.5" cy="340.5" r="2.2"/>
<circle cx="794.5" cy="366.5" r="2.2"/>
<circle cx="786.5" cy="355.5" r="2.2"/>
<circle cx="791.5" cy="374.5" r="2.2"/>
<circle cx="816.5" cy="341.5" r="2.2"/>
<circle cx="788.5" cy="379.5" r="2.2"/>
<circle cx="809.5" cy="376.5" r="2.2"/>
<circle cx="832.5" cy="367.5" r="2.2"/>
<circle cx="807.5" cy="382.5" r="2.2"/>
<circle cx="794.5" cy="350.5" r="2.2"/>
<circle cx="800.5" cy="372.5" r="2.2"/>
<circle cx="827.5" cy="355.5" r="2.2"/>
<circle cx="791.5" cy="373.5" r="2.2"/>
<circle cx="791.5" cy="346.5" r="2.2"/>
<circle cx="784.5" cy="364.5" r="2.2"/>
<circle cx="783.5" cy="348.5" r="2.2"/>
<circle cx="792.5" cy="353.5" r="2.2"/>
<circle cx="802.5" cy="373.5" r="2.2"/>
<circle cx="804.5" cy="352.5" r="2.2"/>
<circle cx="779.5" cy="355.5" r="2.2"/>
<circle cx="843.5" cy="369.5" r="2.2"/>
<circle cx="803.5" cy="383.5" r="2.2"/>
<circle cx="801.5" cy="373.5" r="2.2"/>
<circle cx="805.5" cy="365.5" r="2.2"/>
<circle cx="778.5" cy="350.5" r="2.2"/>
<circle cx="791.5" cy="379.5" r="2.2"/>
<circle cx="795.5" cy="378.5" r="2.2"/>
<circle cx="800.5" cy="366.5" r="2.2"/>
<circle cx="789.5" cy="356.5" r="2.2"/>
<circle cx="777.5" cy="352.5" r="2.2"/>
<circle cx="767.5" cy="343.5" r="2.2"/>
<circle cx="797.5" cy="368.5" r="2.2"/>
<circle cx="784.5" cy="357.5" r="2.2"/>
<circle cx="792.5" cy="367.5" r="2.2"/>
<circle cx="808.5" cy="371.5" r="2.2"/>
<circle cx="791.5" cy="359.5" r="2.2"/>
<circle cx="809.5" cy="367.5" r="2.2"/>
<circle cx="796.5" cy="364.5" r="2.2"/>
<circle cx="804.5" cy="344.5" r="2.2"/>
<circle cx="782.5" cy="367.5" r="2.2"/>
<circle cx="794.5" cy="357.5" r="2.2"/>
<circle cx="815.5" cy="365.5" r="2.2"/>
<circle cx="797.5" cy="349.5" r="2.2"/>
<circle cx="777.5" cy="375.5" r="2.2"/>
<circle cx="788.5" cy="365.5" r="2.2"/>
<circle cx="797.5" cy="372.5" r="2.2"/>
<circle cx="818.5" cy="374.5" r="2.2"/>
<circle cx="791.5" cy="350.5" r="2.2"/>
<circle cx="805.5" cy="365.5" r="2.2"/>
<circle cx="799.5" cy="354.5" r="2.2"/>
<circle cx="794.5" cy="356.5" r="2.2"/>
<circle cx="782.5" cy="364.5" r="2.2"/>
<circle cx="772.5" cy="377.5" r="2.2"/>
<circle cx="778.5" cy="348.5" r="2.2"/>
<circle cx="788.5" cy="361.5" r="2.2"/>
<circle cx="781.5" cy="368.5" r="2.2"/>
<circle cx="790.5" cy="377.5" r="2.2"/>
<circle cx="806.5" cy="388.5" r="2.2"/>
<circle cx="803.5" cy="329.5" r="2.2"/>
<circle cx="783.5" cy="365.5" r="2.2"/>
<circle cx="773.5" cy="366.5" r="2.2"/>
<circle cx="770.5" cy="357.5" r="2.2"/>
<circle cx="787.5" cy="391.5" r="2.2"/>
<circle cx="776.5" cy="387.5" r="2.2"/>
<circle cx="790.5" cy="354.5" r="2.2"/>
<circle cx="788.5" cy="382.5" r="2.2"/>
<circle cx="782.5" cy="364.5" r="2.2"/>
<circle cx="760.5" cy="358.5" r="2.2"/>
<circle cx="799.5" cy="400.5" r="2.2"/>
<circle cx="809.5" cy="388.5" r="2.2"/>
<circle cx="790.5" cy="350.5" r="2.2"/>
<circle cx="770.5" cy="392.5" r="2.2"/>
<circle cx="777.5" cy="381.5" r="2.2"/>
<circle cx="791.5" cy="373.5" r="2.2"/>
<circle cx="786.5" cy="373.5" r="2.2"/>
<circle cx="790.5" cy="378.5" r="2.2"/>
<circle cx="797.5" cy="366.5" r="2.2"/>
<circle cx="779.5" cy="341.5" r="2.2"/>
<circle cx="775.5" cy="356.5" r="2.2"/>
<circle cx="782.5" cy="361.5" r="2.2"/>
<circle cx="800.5" cy="354.5" r="2.2"/>
<circle cx="812.5" cy="378.5" r="2.2"/>
<circle cx="832.5" cy="361.5" r="2.2"/>
<circle cx="782.5" cy="385.5" r="2.2"/>
<circle cx="825.5" cy="343.5" r="2.2"/>
<circle cx="793.5" cy="355.5" r="2.2"/>
<circle cx="811.5" cy="365.5" r="2.2"/>
<circle cx="787.5" cy="366.5" r="2.2"/>
<circle cx="805.5" cy="366.5" r="2.2"/>
<circle cx="776.5" cy="355.5" r="2.2"/>
<circle cx="769.5" cy="376.5" r="2.2"/>
<circle cx="810.5" cy="363.5" r="2.2"/>
<circle cx="796.5" cy="364.5" r="2.2"/>
<circle cx="807.5" cy="366.5" r="2.2"/>
<circle cx="766.5" cy="362.5" r="2.2"/>
<circle cx="751.5" cy="394.5" r="2.2"/>
<circle cx="815.5" cy="351.5" r="2.2"/>
<circle cx="787.5" cy="367.5" r="2.2"/>
<circle cx="794.5" cy="352.5" r="2.2"/>
<circle cx="782.5" cy="378.5" r="2.2"/>
<circle cx="784.5" cy="364.5" r="2.2"/>
<circle cx="797.5" cy="371.5" r="2.2"/>
<circle cx="804.5" cy="380.5" r="2.2"/>
<circle cx="792.5" cy="375.5" r="2.2"/>
<circle cx="779.5" cy="349.5" r="2.2"/>
<circle cx="789.5" cy="380.5" r="2.2"/>
<circle cx="794.5" cy="380.5" r="2.2"/>
<circle cx="801.5" cy="354.5" r="2.2"/>
<circle cx="807.5" cy="380.5" r="2.2"/>
<circle cx="791.5" cy="340.5" r="2.2"/>
<circle cx="790.5" cy="348.5" r="2.2"/>
<circle cx="814.5" cy="385.5" r="2.2"/>
<circle cx="810.5" cy="355.5" r="2.2"/>
<circle cx="805.5" cy="342.5" r="2.2"/>
<circle cx="800.5" cy="365.5" r="2.2"/>
<circle cx="802.5" cy="371.5" r="2.2"/>
<circle cx="800.5" cy="394.5" r="2.2"/>
<circle cx="817.5" cy="373.5" r="2.2"/>
<circle cx="801.5" cy="362.5" r="2.2"/>
<circle cx="795.5" cy="364.5" r="2.2"/>
<circle cx="794.5" cy="388.5" r="2.2"/>
<circle cx="786.5" cy="349.5" r="2.2"/>
<circle cx="779.5" cy="380.5" r="2.2"/>
<circle cx="822.5" cy="349.5" r="2.2"/>
<circle cx="815.5" cy="366.5" r="2.2"/>
<circle cx="797.5" cy="355.5" r="2.2"/>
<circle cx="801.5" cy="367.5" r="2.2"/>
<circle cx="773.5" cy="376.5" r="2.2"/>
<circle cx="772.5" cy="344.5" r="2.2"/>
<circle cx="788.5" cy="368.5" r="2.2"/>
<circle cx="797.5" cy="366.5" r="2.2"/>
<circle cx="800.5" cy="375.5" r="2.2"/>
<circle cx="772.5" cy="342.5" r="2.2"/>
<circle cx="783.5" cy="373.5" r="2.2"/>
<circle cx="782.5" cy="374.5" r="2.2"/>
<circle cx="793.5" cy="356.5" r="2.2"/>
<circle cx="778.5" cy="362.5" r="2.2"/>
<circle cx="783.5" cy="350.5" r="2.2"/>
<circle cx="776.5" cy="365.5" r="2.2"/>
<circle cx="802.5" cy="385.5" r="2.2"/>
<circle cx="794.5" cy="364.5" r="2.2"/>
<circle cx="782.5" cy="369.5" r="2.2"/>
<circle cx="806.5" cy="363.5" r="2.2"/>
<circle cx="787.5" cy="369.5" r="2.2"/>
<circle cx="799.5" cy="349.5" r="2.2"/>
<circle cx="803.5" cy="356.5" r="2.2"/>
<circle cx="814.5" cy="388.5" r="2.2"/>
<circle cx="773.5" cy="398.5" r="2.2"/>
<circle cx="804.5" cy="398.5" r="2.2"/>
<circle cx="792.5" cy="356.5" r="2.2"/>
<circle cx="773.5" cy="376.5" r="2.2"/>
<circle cx="789.5" cy="357.5" r="2.2"/>
<circle cx="772.5" cy="362.5" r="2.2"/>
<circle cx="802.5" cy="365.5" r="2.2"/>
<circle cx="794.5" cy="350.5" r="2.2"/>
<circle cx="795.5" cy="367.5" r="2.2"/>
<circle cx="788.5" cy="358.5" r="2.2"/>
<circle cx="788.5" cy="358.5" r="2.2"/>
<circle cx="794.5" cy="351.5" r="2.2"/>
<circle cx="782.5" cy="366.5" r="2.2"/>
<circle cx="797.5" cy="361.5" r="2.2"/>
<circle cx="808.5" cy="361.5" r="2.2"/>
<circle cx="805.5" cy="340.5" r="2.2"/>
<circle cx="804.5" cy="381.5" r="2.2"/>
<circle cx="773.5" cy="358.5" r="2.2"/>
<circle cx="787.5" cy="363.5" r="2.2"/>
<circle cx="790.5" cy="349.5" r="2.2"/>
<circle cx="808.5" cy="382.5" r="2.2"/>
<circle cx="796.5" cy="371.5" r="2.2"/>
<circle cx="774.5" cy="358.5" r="2.2"/>
<circle cx="790.5" cy="361.5" r="2.2"/>
<circle cx="826.5" cy="349.5" r="2.2"/>
<circle cx="807.5" cy="372.5" r="2.2"/>
<circle cx="776.5" cy="350.5" r="2.2"/>
<circle cx="788.5" cy="366.5" r="2.2"/>
<circle cx="787.5" cy="365.5" r="2.2"/>
<circle cx="825.5" cy="371.5" r="2.2"/>
<circle cx="788.5" cy="364.5" r="2.2"/>
<circle cx="796.5" cy="383.5" r="2.2"/>
<circle cx="768.5" cy="375.5" r="2.2"/>
<circle cx="789.5" cy="378.5" r="2.2"/>
<circle cx="779.5" cy="380.5" r="2.2"/>
<circle cx="787.5" cy="369.5" r="2.2"/>
<circle cx="770.5" cy="374.5" r="2.2"/>
<circle cx="797.5" cy="369.5" r="2.2"/>
<circle cx="774.5" cy="372.5" r="2.2"/>
<circle cx="792.5" cy="357.5" r="2.2"/>
<circle cx="770.5" cy="358.5" r="2.2"/>
<circle cx="786.5" cy="364.5" r="2.2"/>
<circle cx="801.5" cy="379.5" r="2.2"/>
<circle cx="781.5" cy="369.5" r="2.2"/>
<circle cx="802.5" cy="375.5" r="2.2"/>
<circle cx="773.5" cy="377.5" r="2.2"/>
<circle cx="797.5" cy="352.5" r="2.2"/>
<circle cx="785.5" cy="372.5" r="2.2"/>
<circle cx="789.5" cy="369.5" r="2.2"/>
<circle cx="779.5" cy="373.5" r="2.2"/>
<circle cx="794.5" cy="366.5" r="2.2"/>
<circle cx="792.5" cy="381.5" r="2.2"/>
<circle cx="784.5" cy="377.5" r="2.2"/>
<circle cx="806.5" cy="348.5" r="2.2"/>
<circle cx="796.5" cy="346.5" r="2.2"/>
<circle cx="788.5" cy="371.5" r="2.2"/>
<circle cx="774.5" cy="364.5" r="2.2"/>
<circle cx="786.5" cy="366.5" r="2.2"/>
<circle cx="798.5" cy="371.5" r="2.2"/>
<circle cx="777.5" cy="368.5" r="2.2"/>
<circle cx="791.5" cy="367.5" r="2.2"/>
<circle cx="801.5" cy="370.5" r="2.2"/>
<circle cx="788.5" cy="344.5" r="2.2"/>
<circle cx="806.5" cy="368.5" r="2.2"/>
<circle cx="779.5" cy="373.5" r="2.2"/>
<circle cx="797.5" cy="356.5" r="2.2"/>
<circle cx="824.5" cy="370.5" r="2.2"/>
<circle cx="794.5" cy="372.5" r="2.2"/>
<circle cx="793.5" cy="372.5" r="2.2"/>
<circle cx="778.5" cy="353.5" r="2.2"/>
<circle cx="794.5" cy="350.5" r="2.2"/>
<circle cx="785.5" cy="363.5" r="2.2"/>
<circle cx="801.5" cy="392.5" r="2.2"/>
<circle cx="774.5" cy="357.5" r="2.2"/>
<circle cx="793.5" cy="391.5" r="2.2"/>
<circle cx="782.5" cy="381.5" r="2.2"/>
<circle cx="786.5" cy="346.5" r="2.2"/>
<circle cx="892.5" cy="384.5" r="2.2"/>
<circle cx="897.5" cy="421.5" r="2.2"/>
<circle cx="921.5" cy="399.5" r="2.2"/>
<circle cx="919.5" cy="385.5" r="2.2"/>
<circle cx="914.5" cy="395.5" r="2.2"/>
<circle cx="877.5" cy="422.5" r="2.2"/>
<circle cx="906.5" cy="408.5" r="2.2"/>
<circle cx="910.5" cy="417.5" r="2.2"/>
<circle cx="915.5" cy="384.5" r="2.2"/>
<circle cx="908.5" cy="400.5" r="2.2"/>
<circle cx="907.5" cy="399.5" r="2.2"/>
<circle cx="903.5" cy="418.5" r="2.2"/>
<circle cx="903.5" cy="409.5" r="2.2"/>
<circle cx="880.5" cy="408.5" r="2.2"/>
<circle cx="901.5" cy="408.5" r="2.2"/>
<circle cx="893.5" cy="404.5" r="2.2"/>
<circle cx="909.5" cy="420.5" r="2.2"/>
<circle cx="905.5" cy="400.5" r="2.2"/>
<circle cx="911.5" cy="423.5" r="2.2"/>
<circle cx="887.5" cy="411.5" r="2.2"/>
<circle cx="887.5" cy="378.5" r="2.2"/>
<circle cx="890.5" cy="422.5" r="2.2"/>
<circle cx="909.5" cy="418.5" r="2.2"/>
<circle cx="869.5" cy="413.5" r="2.2"/>
<circle cx="887.5" cy="418.5" r="2.2"/>
<circle cx="878.5" cy="424.5" r="2.2"/>
<circle cx="898.5" cy="413.5" r="2.2"/>
<circle cx="885.5" cy="421.5" r="2.2"/>
<circle cx="888.5" cy="410.5" r="2.2"/>
<circle cx="898.5" cy="429.5" r="2.2"/>
<circle cx="908.5" cy="421.5" r="2.2"/>
<circle cx="905.5" cy="424.5" r="2.2"/>
<circle cx="903.5" cy="414.5" r="2.2"/>
<circle cx="900.5" cy="406.5" r="2.2"/>
<circle cx="905.5" cy="410.5" r="2.2"/>
<circle cx="901.5" cy="429.5" r="2.2"/>
<circle cx="898.5" cy="441.5" r="2.2"/>
<circle cx="869.5" cy="416.5" r="2.2"/>
<circle cx="896.5" cy="392.5" r="2.2"/>
<circle cx="908.5" cy="397.5" r="2.2"/>
<circle cx="895.5" cy="406.5" r="2.2"/>
<circle cx="915.5" cy="405.5" r="2.2"/>
<circle cx="904.5" cy="411.5" r="2.2"/>
<circle cx="887.5" cy="424.5" r="2.2"/>
<circle cx="880.5" cy="407.5" r="2.2"/>
<circle cx="896.5" cy="421.5" r="2.2"/>
<circle cx="904.5" cy="420.5" r="2.2"/>
<circle cx="913.5" cy="386.5" r="2.2"/>
<circle cx="906.5" cy="421.5" r="2.2"/>
<circle cx="880.5" cy="385.5" r="2.2"/>
<circle cx="906.5" cy="428.5" r="2.2"/>
<circle cx="914.5" cy="434.5" r="2.2"/>
<circle cx="894.5" cy="415.5" r="2.2"/>
<circle cx="895.5" cy="427.5" r="2.2"/>
<circle cx="932.5" cy="417.5" r="2.2"/>
<circle cx="905.5" cy="411.5" r="2.2"/>
<circle cx="878.5" cy="419.5" r="2.2"/>
<circle cx="903.5" cy="399.5" r="2.2"/>
<circle cx="895.5" cy="407.5" r="2.2"/>
<circle cx="895.5" cy="404.5" r="2.2"/>
<circle cx="867.5" cy="404.5" r="2.2"/>
<circle cx="891.5" cy="419.5" r="2.2"/>
<circle cx="862.5" cy="426.5" r="2.2"/>
<circle cx="908.5" cy="381.5" r="2.2"/>
<circle cx="890.5" cy="421.5" r="2.2"/>
<circle cx="906.5" cy="408.5" r="2.2"/>
<circle cx="892.5" cy="414.5" r="2.2"/>
<circle cx="895.5" cy="403.5" r="2.2"/>
<circle cx="911.5" cy="388.5" r="2.2"/>
<circle cx="912.5" cy="403.5" r="2.2"/>
<circle cx="902.5" cy="399.5" r="2.2"/>
<circle cx="887.5" cy="383.5" r="2.2"/>
<circle cx="904.5" cy="393.5" r="2.2"/>
<circle cx="889.5" cy="398.5" r="2.2"/>
<circle cx="905.5" cy="414.5" r="2.2"/>
<circle cx="891.5" cy="423.5" r="2.2"/>
<circle cx="924.5" cy="395.5" r="2.2"/>
<circle cx="902.5" cy="409.5" r="2.2"/>
<circle cx="890.5" cy="436.5" r="2.2"/>
<circle cx="876.5" cy="420.5" r="2.2"/>
<circle cx="898.5" cy="427.5" r="2.2"/>
<circle cx="911.5" cy="405.5" r="2.2"/>
<circle cx="902.5" cy="435.5" r="2.2"/>
<circle cx="897.5" cy="412.5" r="2.2"/>
<circle cx="883.5" cy="441.5" r="2.2"/>
<circle cx="926.5" cy="403.5" r="2.2"/>
<circle cx="895.5" cy="390.5" r="2.2"/>
<circle cx="915.5" cy="405.5" r="2.2"/>
<circle cx="903.5" cy="401.5" r="2.2"/>
<circle cx="920.5" cy="411.5" r="2.2"/>
<circle cx="897.5" cy="404.5" r="2.2"/>
<circle cx="862.5" cy="410.5" r="2.2"/>
<circle cx="895.5" cy="412.5" r="2.2"/>
<circle cx="898.5" cy="407.5" r="2.2"/>
<circle cx="901.5" cy="411.5" r="2.2"/>
<circle cx="898.5" cy="405.5" r="2.2"/>
<circle cx="893.5" cy="398.5" r="2.2"/>
<circle cx="877.5" cy="409.5" r="2.2"/>
<circle cx="906.5" cy="429.5" r="2.2"/>
<circle cx="894.5" cy="394.5" r="2.2"/>
<circle cx="898.5" cy="423.5" r="2.2"/>
<circle cx="860.5" cy="407.5" r="2.2"/>
<circle cx="901.5" cy="403.5" r="2.2"/>
<circle cx="928.5" cy="412.5" r="2.2"/>
<circle cx="902.5" cy="421.5" r="2.2"/>
<circle cx="899.5" cy="412.5" r="2.2"/>
<circle cx="910.5" cy="404.5" r="2.2"/>
<circle cx="890.5" cy="418.5" r="2.2"/>
<circle cx="919.5" cy="424.5" r="2.2"/>
<circle cx="910.5" cy="390.5" r="2.2"/>
<circle cx="909.5" cy="408.5" r="2.2"/>
<circle cx="918.5" cy="407.5" r="2.2"/>
<circle cx="900.5" cy="414.5" r="2.2"/>
<circle cx="916.5" cy="402.5" r="2.2"/>
<circle cx="921.5" cy="416.5" r="2.2"/>
<circle cx="896.5" cy="417.5" r="2.2"/>
<circle cx="904.5" cy="421.5" r="2.2"/>
<circle cx="912.5" cy="407.5" r="2.2"/>
<circle cx="887.5" cy="452.5" r="2.2"/>
<circle cx="875.5" cy="392.5" r="2.2"/>
<circle cx="899.5" cy="410.5" r="2.2"/>
<circle cx="894.5" cy="406.5" r="2.2"/>
<circle cx="874.5" cy="439.5" r="2.2"/>
<circle cx="878.5" cy="411.5" r="2.2"/>
<circle cx="909.5" cy="405.5" r="2.2"/>
<circle cx="898.5" cy="429.5" r="2.2"/>
<circle cx="911.5" cy="415.5" r="2.2"/>
<circle cx="900.5" cy="413.5" r="2.2"/>
<circle cx="894.5" cy="421.5" r="2.2"/>
<circle cx="892.5" cy="429.5" r="2.2"/>
<circle cx="903.5" cy="414.5" r="2.2"/>
<circle cx="914.5" cy="436.5" r="2.2"/>
<circle cx="916.5" cy="413.5" r="2.2"/>
<circle cx="898.5" cy="422.5" r="2.2"/>
<circle cx="889.5" cy="432.5" r="2.2"/>
<circle cx="912.5" cy="414.5" r="2.2"/>
<circle cx="910.5" cy="400.5" r="2.2"/>
<circle cx="893.5" cy="415.5" r="2.2"/>
<circle cx="895.5" cy="398.5" r="2.2"/>
<circle cx="902.5" cy="409.5" r="2.2"/>
<circle cx="910.5" cy="413.5" r="2.2"/>
<circle cx="928.5" cy="424.5" r="2.2"/>
<circle cx="917.5" cy="393.5" r="2.2"/>
<circle cx="885.5" cy="400.5" r="2.2"/>
<circle cx="904.5" cy="400.5" r="2.2"/>
<circle cx="884.5" cy="408.5" r="2.2"/>
<circle cx="887.5" cy="416.5" r="2.2"/>
<circle cx="919.5" cy="413.5" r="2.2"/>
<circle cx="870.5" cy="430.5" r="2.2"/>
<circle cx="885.5" cy="398.5" r="2.2"/>
<circle cx="891.5" cy="433.5" r="2.2"/>
<circle cx="915.5" cy="408.5" r="2.2"/>
<circle cx="905.5" cy="422.5" r="2.2"/>
<circle cx="919.5" cy="413.5" r="2.2"/>
<circle cx="873.5" cy="427.5" r="2.2"/>
<circle cx="889.5" cy="414.5" r="2.2"/>
<circle cx="910.5" cy="421.5" r="2.2"/>
<circle cx="892.5" cy="382.5" r="2.2"/>
<circle cx="901.5" cy="419.5" r="2.2"/>
<circle cx="900.5" cy="428.5" r="2.2"/>
<circle cx="907.5" cy="398.5" r="2.2"/>
<circle cx="892.5" cy="398.5" r="2.2"/>
<circle cx="896.5" cy="408.5" r="2.2"/>
<circle cx="890.5" cy="422.5" r="2.2"/>
<circle cx="880.5" cy="409.5" r="2.2"/>
<circle cx="896.5" cy="415.5" r="2.2"/>
<circle cx="885.5" cy="427.5" r="2.2"/>
<circle cx="891.5" cy="405.5" r="2.2"/>
<circle cx="904.5" cy="421.5" r="2.2"/>
<circle cx="904.5" cy="388.5" r="2.2"/>
<circle cx="901.5" cy="384.5" r="2.2"/>
<circle cx="906.5" cy="394.5" r="2.2"/>
<circle cx="893.5" cy="396.5" r="2.2"/>
<circle cx="884.5" cy="408.5" r="2.2"/>
<circle cx="895.5" cy="438.5" r="2.2"/>
<circle cx="882.5" cy="396.5" r="2.2"/>
<circle cx="907.5" cy="394.5" r="2.2"/>
<circle cx="903.5" cy="451.5" r="2.2"/>
<circle cx="903.5" cy="419.5" r="2.2"/>
<circle cx="893.5" cy="418.5" r="2.2"/>
<circle cx="890.5" cy="424.5" r="2.2"/>
<circle cx="917.5" cy="406.5" r="2.2"/>
<circle cx="891.5" cy="417.5" r="2.2"/>
<circle cx="913.5" cy="406.5" r="2.2"/>
<circle cx="903.5" cy="428.5" r="2.2"/>
<circle cx="894.5" cy="427.5" r="2.2"/>
<circle cx="874.5" cy="400.5" r="2.2"/>
<circle cx="895.5" cy="417.5" r="2.2"/>
<circle cx="887.5" cy="401.5" r="2.2"/>
<circle cx="928.5" cy="404.5" r="2.2"/>
<circle cx="912.5" cy="428.5" r="2.2"/>
<circle cx="902.5" cy="409.5" r="2.2"/>
<circle cx="920.5" cy="411.5" r="2.2"/>
<circle cx="887.5" cy="413.5" r="2.2"/>
<circle cx="894.5" cy="392.5" r="2.2"/>
<circle cx="909.5" cy="407.5" r="2.2"/>
<circle cx="902.5" cy="400.5" r="2.2"/>
<circle cx="893.5" cy="424.5" r="2.2"/>
<circle cx="874.5" cy="396.5" r="2.2"/>
<circle cx="907.5" cy="403.5" r="2.2"/>
<circle cx="900.5" cy="389.5" r="2.2"/>
<circle cx="887.5" cy="395.5" r="2.2"/>
<circle cx="888.5" cy="418.5" r="2.2"/>
<circle cx="883.5" cy="410.5" r="2.2"/>
<circle cx="896.5" cy="406.5" r="2.2"/>
<circle cx="892.5" cy="431.5" r="2.2"/>
<circle cx="907.5" cy="394.5" r="2.2"/>
<circle cx="910.5" cy="412.5" r="2.2"/>
<circle cx="905.5" cy="435.5" r="2.2"/>
<circle cx="895.5" cy="396.5" r="2.2"/>
<circle cx="906.5" cy="423.5" r="2.2"/>
<circle cx="911.5" cy="414.5" r="2.2"/>
<circle cx="910.5" cy="431.5" r="2.2"/>
<circle cx="893.5" cy="407.5" r="2.2"/>
<circle cx="904.5" cy="404.5" r="2.2"/>
<circle cx="900.5" cy="414.5" r="2.2"/>
<circle cx="906.5" cy="400.5" r="2.2"/>
<circle cx="879.5" cy="416.5" r="2.2"/>
<circle cx="897.5" cy="410.5" r="2.2"/>
<circle cx="913.5" cy="430.5" r="2.2"/>
<circle cx="907.5" cy="435.5" r="2.2"/>
<circle cx="890.5" cy="419.5" r="2.2"/>
<circle cx="896.5" cy="420.5" r="2.2"/>
<circle cx="893.5" cy="416.5" r="2.2"/>
<circle cx="896.5" cy="437.5" r="2.2"/>
<circle cx="881.5" cy="418.5" r="2.2"/>
<circle cx="907.5" cy="398.5" r="2.2"/>
<circle cx="938.5" cy="410.5" r="2.2"/>
<circle cx="889.5" cy="409.5" r="2.2"/>
<circle cx="909.5" cy="410.5" r="2.2"/>
<circle cx="885.5" cy="413.5" r="2.2"/>
<circle cx="899.5" cy="431.5" r="2.2"/>
<circle cx="883.5" cy="396.5" r="2.2"/>
<circle cx="870.5" cy="410.5" r="2.2"/>
<circle cx="896.5" cy="393.5" r="2.2"/>
<circle cx="908.5" cy="423.5" r="2.2"/>
<circle cx="917.5" cy="419.5" r="2.2"/>
<circle cx="926.5" cy="390.5" r="2.2"/>
<circle cx="899.5" cy="401.5" r="2.2"/>
<circle cx="902.5" cy="424.5" r="2.2"/>
<circle cx="914.5" cy="406.5" r="2.2"/>
<circle cx="911.5" cy="397.5" r="2.2"/>
<circle cx="919.5" cy="398.5" r="2.2"/>
<circle cx="899.5" cy="410.5" r="2.2"/>
<circle cx="905.5" cy="413.5" r="2.2"/>
<circle cx="897.5" cy="387.5" r="2.2"/>
<circle cx="906.5" cy="386.5" r="2.2"/>
<circle cx="890.5" cy="412.5" r="2.2"/>
<circle cx="894.5" cy="417.5" r="2.2"/>
<circle cx="896.5" cy="413.5" r="2.2"/>
<circle cx="894.5" cy="387.5" r="2.2"/>
<circle cx="909.5" cy="422.5" r="2.2"/>
<circle cx="893.5" cy="402.5" r="2.2"/>
<circle cx="907.5" cy="420.5" r="2.2"/>
<circle cx="912.5" cy="431.5" r="2.2"/>
<circle cx="894.5" cy="388.5" r="2.2"/>
<circle cx="865.5" cy="414.5" r="2.2"/>
<circle cx="913.5" cy="413.5" r="2.2"/>
<circle cx="890.5" cy="423.5" r="2.2"/>
<circle cx="872.5" cy="429.5" r="2.2"/>
<circle cx="1009.5" cy="374.5" r="2.2"/>
<circle cx="1008.5" cy="369.5" r="2.2"/>
<circle cx="1012.5" cy="389.5" r="2.2"/>
<circle cx="1004.5" cy="371.5" r="2.2"/>
<circle cx="1004.5" cy="379.5" r="2.2"/>
<circle cx="979.5" cy="358.5" r="2.2"/>
<circle cx="1019.5" cy="335.5" r="2.2"/>
<circle cx="1018.5" cy="345.5" r="2.2"/>
<circle cx="1016.5" cy="372.5" r="2.2"/>
<circle cx="1014.5" cy="382.5" r="2.2"/>
<circle cx="1011.5" cy="368.5" r="2.2"/>
<circle cx="994.5" cy="351.5" r="2.2"/>
<circle cx="1023.5" cy="361.5" r="2.2"/>
<circle cx="1019.5" cy="345.5" r="2.2"/>
<circle cx="1006.5" cy="385.5" r="2.2"/>
<circle cx="995.5" cy="357.5" r="2.2"/>
<circle cx="1011.5" cy="387.5" r="2.2"/>
<circle cx="1026.5" cy="364.5" r="2.2"/>
<circle cx="1029.5" cy="352.5" r="2.2"/>
<circle cx="1002.5" cy="365.5" r="2.2"/>
<circle cx="998.5" cy="378.5" r="2.2"/>
<circle cx="1004.5" cy="360.5" r="2.2"/>
<circle cx="1026.5" cy="379.5" r="2.2"/>
<circle cx="1017.5" cy="366.5" r="2.2"/>
<circle cx="1005.5" cy="352.5" r="2.2"/>
<circle cx="1003.5" cy="348.5" r="2.2"/>
<circle cx="1004.5" cy="379.5" r="2.2"/>
<circle cx="1018.5" cy="386.5" r="2.2"/>
<circle cx="992.5" cy="369.5" r="2.2"/>
<circle cx="1008.5" cy="370.5" r="2.2"/>
<circle cx="982.5" cy="384.5" r="2.2"/>
<circle cx="1015.5" cy="359.5" r="2.2"/>
<circle cx="995.5" cy="363.5" r="2.2"/>
<circle cx="1011.5" cy="353.5" r="2.2"/>
<circle cx="998.5" cy="347.5" r="2.2"/>
<circle cx="1004.5" cy="347.5" r="2.2"/>
<circle cx="1021.5" cy="380.5" r="2.2"/>
<circle cx="1004.5" cy="363.5" r="2.2"/>
<circle cx="1022.5" cy="385.5" r="2.2"/>
<circle cx="1002.5" cy="358.5" r="2.2"/>
<circle cx="1015.5" cy="380.5" r="2.2"/>
<circle cx="996.5" cy="361.5" r="2.2"/>
<circle cx="995.5" cy="363.5" r="2.2"/>
<circle cx="1021.5" cy="366.5" r="2.2"/>
<circle cx="972.5" cy="351.5" r="2.2"/>
<circle cx="1024.5" cy="347.5" r="2.2"/>
<circle cx="1020.5" cy="389.5" r="2.2"/>
<circle cx="1027.5" cy="362.5" r="2.2"/>
<circle cx="1021.5" cy="369.5" r="2.2"/>
<circle cx="1005.5" cy="370.5" r="2.2"/>
<circle cx="1030.5" cy="363.5" r="2.2"/>
<circle cx="1006.5" cy="384.5" r="2.2"/>
<circle cx="1015.5" cy="366.5" r="2.2"/>
<circle cx="1010.5" cy="353.5" r="2.2"/>
<circle cx="1018.5" cy="366.5" r="2.2"/>
<circle cx="1011.5" cy="365.5" r="2.2"/>
<circle cx="1018.5" cy="357.5" r="2.2"/>
<circle cx="1010.5" cy="378.5" r="2.2"/>
<circle cx="1020.5" cy="354.5" r="2.2"/>
<circle cx="994.5" cy="361.5" r="2.2"/>
<circle cx="1003.5" cy="396.5" r="2.2"/>
<circle cx="1008.5" cy="354.5" r="2.2"/>
<circle cx="998.5" cy="376.5" r="2.2"/>
<circle cx="1022.5" cy="381.5" r="2.2"/>
<circle cx="996.5" cy="371.5" r="2.2"/>
<circle cx="1017.5" cy="358.5" r="2.2"/>
<circle cx="1001.5" cy="371.5" r="2.2"/>
<circle cx="1009.5" cy="372.5" r="2.2"/>
<circle cx="997.5" cy="381.5" r="2.2"/>
<circle cx="1018.5" cy="369.5" r="2.2"/>
<circle cx="1047.5" cy="358.5" r="2.2"/>
<circle cx="998.5" cy="367.5" r="2.2"/>
<circle cx="1013.5" cy="361.5" r="2.2"/>
<circle cx="1014.5" cy="360.5" r="2.2"/>
<circle cx="1006.5" cy="358.5" r="2.2"/>
<circle cx="1038.5" cy="372.5" r="2.2"/>
<circle cx="1003.5" cy="357.5" r="2.2"/>
<circle cx="1025.5" cy="356.5" r="2.2"/>
<circle cx="1025.5" cy="367.5" r="2.2"/>
<circle cx="1005.5" cy="358.5" r="2.2"/>
<circle cx="1017.5" cy="344.5" r="2.2"/>
<circle cx="1029.5" cy="391.5" r="2.2"/>
<circle cx="1019.5" cy="376.5" r="2.2"/>
<circle cx="980.5" cy="361.5" r="2.2"/>
<circle cx="1006.5" cy="371.5" r="2.2"/>
<circle cx="991.5" cy="380.5" r="2.2"/>
<circle cx="1005.5" cy="387.5" r="2.2"/>
<circle cx="1007.5" cy="365.5" r="2.2"/>
<circle cx="1006.5" cy="363.5" r="2.2"/>
<circle cx="1007.5" cy="382.5" r="2.2"/>
<circle cx="994.5" cy="365.5" r="2.2"/>
<circle cx="1021.5" cy="365.5" r="2.2"/>
<circle cx="1001.5" cy="364.5" r="2.2"/>
<circle cx="984.5" cy="380.5" r="2.2"/>
<circle cx="1003.5" cy="368.5" r="2.2"/>
<circle cx="1004.5" cy="370.5" r="2.2"/>
<circle cx="992.5" cy="375.5" r="2.2"/>
<circle cx="1011.5" cy="392.5" r="2.2"/>
<circle cx="992.5" cy="372.5" r="2.2"/>
<circle cx="1028.5" cy="358.5" r="2.2"/>
<circle cx="1029.5" cy="349.5" r="2.2"/>
<circle cx="1002.5" cy="368.5" r="2.2"/>
<circle cx="992.5" cy="351.5" r="2.2"/>
<circle cx="1018.5" cy="359.5" r="2.2"/>
<circle cx="1017.5" cy="361.5" r="2.2"/>
<circle cx="1011.5" cy="363.5" r="2.2"/>
<circle cx="1024.5" cy="377.5" r="2.2"/>
<circle cx="994.5" cy="367.5" r="2.2"/>
<circle cx="1023.5" cy="364.5" r="2.2"/>
<circle cx="1005.5" cy="356.5" r="2.2"/>
<circle cx="1009.5" cy="392.5" r="2.2"/>
<circle cx="994.5" cy="395.5" r="2.2"/>
<circle cx="1005.5" cy="373.5" r="2.2"/>
<circle cx="1014.5" cy="338.5" r="2.2"/>
<circle cx="1000.5" cy="367.5" r="2.2"/>
<circle cx="1003.5" cy="405.5" r="2.2"/>
<circle cx="998.5" cy="376.5" r="2.2"/>
<circle cx="1012.5" cy="378.5" r="2.2"/>
<circle cx="991.5" cy="359.5" r="2.2"/>
<circle cx="1007.5" cy="379.5" r="2.2"/>
<circle cx="998.5" cy="371.5" r="2.2"/>
<circle cx="1019.5" cy="348.5" r="2.2"/>
<circle cx="990.5" cy="351.5" r="2.2"/>
<circle cx="1009.5" cy="362.5" r="2.2"/>
<circle cx="1021.5" cy="380.5" r="2.2"/>
<circle cx="1019.5" cy="384.5" r="2.2"/>
<circle cx="1002.5" cy="378.5" r="2.2"/>
<circle cx="1031.5" cy="345.5" r="2.2"/>
<circle cx="1018.5" cy="360.5" r="2.2"/>
<circle cx="1001.5" cy="343.5" r="2.2"/>
<circle cx="1027.5" cy="355.5" r="2.2"/>
<circle cx="1006.5" cy="371.5" r="2.2"/>
<circle cx="1007.5" cy="349.5" r="2.2"/>
<circle cx="995.5" cy="365.5" r="2.2"/>
<circle cx="1030.5" cy="355.5" r="2.2"/>
<circle cx="1031.5" cy="361.5" r="2.2"/>
<circle cx="1014.5" cy="348.5" r="2.2"/>
<circle cx="1017.5" cy="362.5" r="2.2"/>
<circle cx="1001.5" cy="386.5" r="2.2"/>
<circle cx="1028.5" cy="372.5" r="2.2"/>
<circle cx="998.5" cy="355.5" r="2.2"/>
<circle cx="996.5" cy="384.5" r="2.2"/>
<circle cx="1001.5" cy="367.5" r="2.2"/>
<circle cx="1012.5" cy="359.5" r="2.2"/>
<circle cx="1021.5" cy="368.5" r="2.2"/>
<circle cx="1013.5" cy="368.5" r="2.2"/>
<circle cx="1000.5" cy="361.5" r="2.2"/>
<circle cx="1013.5" cy="341.5" r="2.2"/>
<circle cx="1016.5" cy="376.5" r="2.2"/>
<circle cx="1016.5" cy="370.5" r="2.2"/>
<circle cx="1030.5" cy="389.5" r="2.2"/>
<circle cx="1000.5" cy="375.5" r="2.2"/>
<circle cx="1010.5" cy="368.5" r="2.2"/>
<circle cx="987.5" cy="391.5" r="2.2"/>
<circle cx="1011.5" cy="347.5" r="2.2"/>
<circle cx="1028.5" cy="371.5" r="2.2"/>
<circle cx="1015.5" cy="378.5" r="2.2"/>
<circle cx="989.5" cy="350.5" r="2.2"/>
<circle cx="1018.5" cy="371.5" r="2.2"/>
<circle cx="1004.5" cy="354.5" r="2.2"/>
<circle cx="1013.5" cy="371.5" r="2.2"/>
<circle cx="1012.5" cy="366.5" r="2.2"/>
<circle cx="1003.5" cy="376.5" r="2.2"/>
<circle cx="1021.5" cy="372.5" r="2.2"/>
<circle cx="993.5" cy="342.5" r="2.2"/>
<circle cx="1025.5" cy="359.5" r="2.2"/>
<circle cx="1008.5" cy="363.5" r="2.2"/>
<circle cx="989.5" cy="366.5" r="2.2"/>
<circle cx="1012.5" cy="369.5" r="2.2"/>
<circle cx="1014.5" cy="376.5" r="2.2"/>
<circle cx="1011.5" cy="387.5" r="2.2"/>
<circle cx="1008.5" cy="374.5" r="2.2"/>
<circle cx="991.5" cy="372.5" r="2.2"/>
<circle cx="1009.5" cy="374.5" r="2.2"/>
<circle cx="1021.5" cy="376.5" r="2.2"/>
<circle cx="1021.5" cy="357.5" r="2.2"/>
<circle cx="1000.5" cy="347.5" r="2.2"/>
<circle cx="990.5" cy="359.5" r="2.2"/>
<circle cx="1009.5" cy="356.5" r="2.2"/>
<circle cx="988.5" cy="382.5" r="2.2"/>
<circle cx="997.5" cy="366.5" r="2.2"/>
<circle cx="1009.5" cy="366.5" r="2.2"/>
<circle cx="1005.5" cy="376.5" r="2.2"/>
<circle cx="990.5" cy="372.5" r="2.2"/>
<circle cx="1015.5" cy="353.5" r="2.2"/>
<circle cx="1001.5" cy="352.5" r="2.2"/>
<circle cx="990.5" cy="356.5" r="2.2"/>
<circle cx="994.5" cy="363.5" r="2.2"/>
<circle cx="995.5" cy="379.5" r="2.2"/>
<circle cx="1001.5" cy="348.5" r="2.2"/>
<circle cx="999.5" cy="358.5" r="2.2"/>
<circle cx="1010.5" cy="363.5" r="2.2"/>
<circle cx="1012.5" cy="358.5" r="2.2"/>
<circle cx="992.5" cy="366.5" r="2.2"/>
<circle cx="1013.5" cy="374.5" r="2.2"/>
<circle cx="1013.5" cy="380.5" r="2.2"/>
<circle cx="1018.5" cy="376.5" r="2.2"/>
<circle cx="1004.5" cy="356.5" r="2.2"/>
<circle cx="1022.5" cy="374.5" r="2.2"/>
<circle cx="1000.5" cy="354.5" r="2.2"/>
<circle cx="970.5" cy="349.5" r="2.2"/>
<circle cx="1025.5" cy="381.5" r="2.2"/>
<circle cx="1024.5" cy="362.5" r="2.2"/>
<circle cx="1014.5" cy="397.5" r="2.2"/>
<circle cx="1001.5" cy="369.5" r="2.2"/>
<circle cx="1003.5" cy="372.5" r="2.2"/>
<circle cx="1004.5" cy="405.5" r="2.2"/>
<circle cx="1005.5" cy="376.5" r="2.2"/>
<circle cx="1007.5" cy="373.5" r="2.2"/>
<circle cx="1008.5" cy="363.5" r="2.2"/>
<circle cx="1031.5" cy="378.5" r="2.2"/>
<circle cx="1030.5" cy="370.5" r="2.2"/>
<circle cx="996.5" cy="386.5" r="2.2"/>
<circle cx="1019.5" cy="387.5" r="2.2"/>
<circle cx="1020.5" cy="362.5" r="2.2"/>
<circle cx="1000.5" cy="376.5" r="2.2"/>
<circle cx="1014.5" cy="365.5" r="2.2"/>
<circle cx="1018.5" cy="367.5" r="2.2"/>
<circle cx="1001.5" cy="360.5" r="2.2"/>
<circle cx="992.5" cy="356.5" r="2.2"/>
<circle cx="1009.5" cy="382.5" r="2.2"/>
<circle cx="994.5" cy="371.5" r="2.2"/>
<circle cx="984.5" cy="348.5" r="2.2"/>
<circle cx="1021.5" cy="381.5" r="2.2"/>
<circle cx="1006.5" cy="344.5" r="2.2"/>
<circle cx="1013.5" cy="380.5" r="2.2"/>
<circle cx="979.5" cy="389.5" r="2.2"/>
<circle cx="1024.5" cy="363.5" r="2.2"/>
<circle cx="990.5" cy="357.5" r="2.2"/>
<circle cx="1003.5" cy="376.5" r="2.2"/>
<circle cx="1001.5" cy="373.5" r="2.2"/>
<circle cx="1030.5" cy="379.5" r="2.2"/>
<circle cx="1002.5" cy="349.5" r="2.2"/>
<circle cx="1028.5" cy="380.5" r="2.2"/>
<circle cx="1035.5" cy="352.5" r="2.2"/>
<circle cx="988.5" cy="343.5" r="2.2"/>
<circle cx="988.5" cy="358.5" r="2.2"/>
<circle cx="992.5" cy="391.5" r="2.2"/>
<circle cx="1019.5" cy="361.5" r="2.2"/>
<circle cx="1007.5" cy="364.5" r="2.2"/>
<circle cx="1006.5" cy="370.5" r="2.2"/>
<circle cx="994.5" cy="359.5" r="2.2"/>
<circle cx="1008.5" cy="370.5" r="2.2"/>
<circle cx="1000.5" cy="371.5" r="2.2"/>
<circle cx="988.5" cy="371.5" r="2.2"/>
<circle cx="995.5" cy="350.5" r="2.2"/>
<circle cx="995.5" cy="373.5" r="2.2"/>
<circle cx="1008.5" cy="356.5" r="2.2"/>
<circle cx="1014.5" cy="367.5" r="2.2"/>
<circle cx="1037.5" cy="367.5" r="2.2"/>
<circle cx="1012.5" cy="330.5" r="2.2"/>
<circle cx="996.5" cy="354.5" r="2.2"/>
<circle cx="1014.5" cy="384.5" r="2.2"/>
<circle cx="1000.5" cy="356.5" r="2.2"/>
<circle cx="988.5" cy="369.5" r="2.2"/>
<circle cx="1020.5" cy="370.5" r="2.2"/>
<circle cx="1011.5" cy="376.5" r="2.2"/>
<circle cx="999.5" cy="375.5" r="2.2"/>
<circle cx="1003.5" cy="358.5" r="2.2"/>
<circle cx="1009.5" cy="340.5" r="2.2"/>
</g>
<g stroke="#000" stroke-opacity="0.7" stroke-width="0.7" fill-opacity="0.7">
<circle cx="766.5" cy="129.5" r="3.8" fill="#440154"/>
<circle cx="771.5" cy="129.5" r="3.8" fill="#481467"/>
<circle cx="777.5" cy="129.5" r="3.8" fill="#482576"/>
<circle cx="782.5" cy="130.5" r="3.8" fill="#453781"/>
<circle cx="787.5" cy="130.5" r="3.8" fill="#404688"/>
<circle cx="793.5" cy="130.5" r="3.8" fill="#39558c"/>
<circle cx="798.5" cy="130.5" r="3.8" fill="#33638d"/>
<circle cx="766.5" cy="134.5" r="3.8" fill="#440154"/>
<circle cx="772.5" cy="134.5" r="3.8" fill="#481467"/>
<circle cx="777.5" cy="134.5" r="3.8" fill="#482576"/>
<circle cx="782.5" cy="134.5" r="3.8" fill="#453781"/>
<circle cx="788.5" cy="134.5" r="3.8" fill="#404688"/>
<circle cx="793.5" cy="134.5" r="3.8" fill="#39558c"/>
<circle cx="798.5" cy="134.5" r="3.8" fill="#33638d"/>
<circle cx="767.5" cy="139.5" r="3.8" fill="#440154"/>
<circle cx="772.5" cy="139.5" r="3.8" fill="#481467"/>
<circle cx="777.5" cy="139.5" r="3.8" fill="#482576"/>
<circle cx="782.5" cy="139.5" r="3.8" fill="#453781"/>
<circle cx="788.5" cy="139.5" r="3.8" fill="#404688"/>
<circle cx="793.5" cy="139.5" r="3.8" fill="#39558c"/>
<circle cx="798.5" cy="138.5" r="3.8" fill="#33638d"/>
<circle cx="768.5" cy="145.5" r="3.8" fill="#440154"/>
<circle cx="773.5" cy="145.5" r="3.8" fill="#481467"/>
<circle cx="778.5" cy="145.5" r="3.8" fill="#482576"/>
<circle cx="783.5" cy="144.5" r="3.8" fill="#453781"/>
<circle cx="788.5" cy="144.5" r="3.8" fill="#404688"/>
<circle cx="793.5" cy="143.5" r="3.8" fill="#39558c"/>
<circle cx="798.5" cy="143.5" r="3.8" fill="#33638d"/>
<circle cx="769.5" cy="152.5" r="3.8" fill="#440154"/>
<circle cx="774.5" cy="151.5" r="3.8" fill="#481467"/>
<circle cx="778.5" cy="151.5" r="3.8" fill="#482576"/>
<circle cx="783.5" cy="150.5" r="3.8" fill="#453781"/>
<circle cx="788.5" cy="149.5" r="3.8" fill="#404688"/>
<circle cx="793.5" cy="149.5" r="3.8" fill="#39558c"/>
<circle cx="797.5" cy="148.5" r="3.8" fill="#33638d"/>
<circle cx="770.5" cy="158.5" r="3.8" fill="#440154"/>
<circle cx="774.5" cy="158.5" r="3.8" fill="#481467"/>
<circle cx="779.5" cy="157.5" r="3.8" fill="#482576"/>
<circle cx="783.5" cy="156.5" r="3.8" fill="#453781"/>
<circle cx="788.5" cy="155.5" r="3.8" fill="#404688"/>
<circle cx="793.5" cy="154.5" r="3.8" fill="#39558c"/>
<circle cx="797.5" cy="153.5" r="3.8" fill="#33638d"/>
<circle cx="771.5" cy="166.5" r="3.8" fill="#440154"/>
<circle cx="775.5" cy="164.5" r="3.8" fill="#481467"/>
<circle cx="779.5" cy="163.5" r="3.8" fill="#482576"/>
<circle cx="784.5" cy="162.5" r="3.8" fill="#453781"/>
<circle cx="788.5" cy="161.5" r="3.8" fill="#404688"/>
<circle cx="793.5" cy="160.5" r="3.8" fill="#39558c"/>
<circle cx="797.5" cy="159.5" r="3.8" fill="#33638d"/>
<circle cx="812.5" cy="127.5" r="3.8" fill="#2d718e"/>
<circle cx="806.5" cy="134.5" r="3.8" fill="#2d718e"/>
<circle cx="803.5" cy="139.5" r="3.8" fill="#2d718e"/>
<circle cx="802.5" cy="143.5" r="3.8" fill="#2d718e"/>
<circle cx="802.5" cy="148.5" r="3.8" fill="#2d718e"/>
<circle cx="801.5" cy="153.5" r="3.8" fill="#2d718e"/>
<circle cx="801.5" cy="157.5" r="3.8" fill="#2d718e"/>
<circle cx="815.5" cy="159.5" r="3.8" fill="#287d8e"/>
<circle cx="826.5" cy="146.5" r="3.8" fill="#287d8e"/>
<circle cx="834.5" cy="137.5" r="3.8" fill="#287d8e"/>
<circle cx="841.5" cy="129.5" r="3.8" fill="#287d8e"/>
<circle cx="849.5" cy="122.5" r="3.8" fill="#287d8e"/>
<circle cx="855.5" cy="116.5" r="3.8" fill="#287d8e"/>
<circle cx="859.5" cy="110.5" r="3.8" fill="#287d8e"/>
<circle cx="860.5" cy="106.5" r="3.8" fill="#287d8e"/>
<circle cx="794.5" cy="170.5" r="3.8" fill="#2d718e"/>
<circle cx="790.5" cy="177.5" r="3.8" fill="#33638d"/>
<circle cx="783.5" cy="186.5" r="3.8" fill="#39558c"/>
<circle cx="776.5" cy="194.5" r="3.8" fill="#404688"/>
<circle cx="771.5" cy="198.5" r="3.8" fill="#453781"/>
<circle cx="767.5" cy="201.5" r="3.8" fill="#482576"/>
<circle cx="764.5" cy="201.5" r="3.8" fill="#481467"/>
<circle cx="761.5" cy="201.5" r="3.8" fill="#440154"/>
<circle cx="848.5" cy="173.5" r="3.8" fill="#238a8d"/>
<circle cx="869.5" cy="131.5" r="3.8" fill="#238a8d"/>
<circle cx="880.5" cy="119.5" r="3.8" fill="#238a8d"/>
<circle cx="886.5" cy="112.5" r="3.8" fill="#238a8d"/>
<circle cx="887.5" cy="97.5" r="3.8" fill="#238a8d"/>
<circle cx="888.5" cy="100.5" r="3.8" fill="#238a8d"/>
<circle cx="889.5" cy="103.5" r="3.8" fill="#238a8d"/>
<circle cx="889.5" cy="106.5" r="3.8" fill="#238a8d"/>
<circle cx="889.5" cy="108.5" r="3.8" fill="#238a8d"/>
<circle cx="895.5" cy="96.5" r="3.8" fill="#1f968b"/>
<circle cx="896.5" cy="98.5" r="3.8" fill="#1f968b"/>
<circle cx="896.5" cy="101.5" r="3.8" fill="#1f968b"/>
<circle cx="897.5" cy="103.5" r="3.8" fill="#1f968b"/>
<circle cx="897.5" cy="106.5" r="3.8" fill="#1f968b"/>
<circle cx="897.5" cy="108.5" r="3.8" fill="#1f968b"/>
<circle cx="898.5" cy="111.5" r="3.8" fill="#1f968b"/>
<circle cx="898.5" cy="113.5" r="3.8" fill="#1f968b"/>
<circle cx="901.5" cy="119.5" r="3.8" fill="#1f968b"/>
<circle cx="902.5" cy="95.5" r="3.8" fill="#20a386"/>
<circle cx="903.5" cy="98.5" r="3.8" fill="#20a386"/>
<circle cx="904.5" cy="101.5" r="3.8" fill="#20a386"/>
<circle cx="905.5" cy="103.5" r="3.8" fill="#20a386"/>
<circle cx="905.5" cy="106.5" r="3.8" fill="#20a386"/>
<circle cx="906.5" cy="108.5" r="3.8" fill="#20a386"/>
<circle cx="911.5" cy="114.5" r="3.8" fill="#20a386"/>
<circle cx="917.5" cy="99.5" r="3.8" fill="#29af7f"/>
<circle cx="921.5" cy="103.5" r="3.8" fill="#29af7f"/>
<circle cx="925.5" cy="108.5" r="3.8" fill="#29af7f"/>
<circle cx="924.5" cy="123.5" r="3.8" fill="#29af7f"/>
<circle cx="936.5" cy="116.5" r="3.8" fill="#32b67a"/>
<circle cx="951.5" cy="110.5" r="3.8" fill="#48c16e"/>
<circle cx="950.5" cy="126.5" r="3.8" fill="#3dbc74"/>
<circle cx="963.5" cy="119.5" r="3.8" fill="#56c667"/>
<circle cx="943.5" cy="136.5" r="3.8" fill="#29af7f"/>
<circle cx="915.5" cy="155.5" r="3.8" fill="#1e9d89"/>
<circle cx="977.5" cy="129.5" r="3.8" fill="#56c667"/>
<circle cx="967.5" cy="138.5" r="3.8" fill="#3dbc74"/>
<circle cx="986.5" cy="124.5" r="3.8" fill="#75d054"/>
<circle cx="992.5" cy="130.5" r="3.8" fill="#75d054"/>
<circle cx="989.5" cy="138.5" r="3.8" fill="#56c667"/>
<circle cx="984.5" cy="150.5" r="3.8" fill="#3dbc74"/>
<circle cx="994.5" cy="144.5" r="3.8" fill="#56c667"/>
<circle cx="990.5" cy="157.5" r="3.8" fill="#3dbc74"/>
<circle cx="970.5" cy="171.5" r="3.8" fill="#29af7f"/>
<circle cx="1000.5" cy="127.5" r="3.8" fill="#6ece58"/>
<circle cx="1003.5" cy="126.5" r="3.8" fill="#7ad151"/>
<circle cx="1007.5" cy="126.5" r="3.8" fill="#90d743"/>
<circle cx="1010.5" cy="125.5" r="3.8" fill="#b0dd2f"/>
<circle cx="1013.5" cy="125.5" r="3.8" fill="#d5e21a"/>
<circle cx="1017.5" cy="125.5" r="3.8" fill="#fde725"/>
<circle cx="1000.5" cy="131.5" r="3.8" fill="#67cc5c"/>
<circle cx="1003.5" cy="131.5" r="3.8" fill="#73d056"/>
<circle cx="1006.5" cy="130.5" r="3.8" fill="#89d548"/>
<circle cx="1009.5" cy="130.5" r="3.8" fill="#aadc32"/>
<circle cx="1013.5" cy="129.5" r="3.8" fill="#d2e21b"/>
<circle cx="1016.5" cy="129.5" r="3.8" fill="#fbe723"/>
<circle cx="1000.5" cy="135.5" r="3.8" fill="#5ec962"/>
<circle cx="1003.5" cy="135.5" r="3.8" fill="#6ccd5a"/>
<circle cx="1006.5" cy="134.5" r="3.8" fill="#84d44b"/>
<circle cx="1009.5" cy="134.5" r="3.8" fill="#a5db36"/>
<circle cx="1012.5" cy="133.5" r="3.8" fill="#cde11d"/>
<circle cx="1016.5" cy="133.5" r="3.8" fill="#f8e621"/>
<circle cx="999.5" cy="140.5" r="3.8" fill="#58c765"/>
<circle cx="1002.5" cy="139.5" r="3.8" fill="#63cb5f"/>
<circle cx="1006.5" cy="138.5" r="3.8" fill="#7cd250"/>
<circle cx="1009.5" cy="138.5" r="3.8" fill="#9dd93b"/>
<circle cx="1012.5" cy="137.5" r="3.8" fill="#c8e020"/>
<circle cx="1015.5" cy="137.5" r="3.8" fill="#f6e620"/>
<circle cx="999.5" cy="144.5" r="3.8" fill="#50c46a"/>
<circle cx="1002.5" cy="143.5" r="3.8" fill="#5cc863"/>
<circle cx="1005.5" cy="143.5" r="3.8" fill="#75d054"/>
<circle cx="1008.5" cy="142.5" r="3.8" fill="#98d83e"/>
<circle cx="1011.5" cy="141.5" r="3.8" fill="#c2df23"/>
<circle cx="1014.5" cy="141.5" r="3.8" fill="#f4e61e"/>
<circle cx="999.5" cy="148.5" r="3.8" fill="#4ac16d"/>
<circle cx="1002.5" cy="148.5" r="3.8" fill="#56c667"/>
<circle cx="1005.5" cy="147.5" r="3.8" fill="#6ece58"/>
<circle cx="1008.5" cy="146.5" r="3.8" fill="#90d743"/>
<circle cx="1011.5" cy="145.5" r="3.8" fill="#bddf26"/>
<circle cx="1014.5" cy="145.5" r="3.8" fill="#f1e51d"/>
<circle cx="999.5" cy="153.5" r="3.8" fill="#44bf70"/>
<circle cx="1002.5" cy="152.5" r="3.8" fill="#50c46a"/>
<circle cx="1005.5" cy="151.5" r="3.8" fill="#67cc5c"/>
<circle cx="1008.5" cy="150.5" r="3.8" fill="#8bd646"/>
<circle cx="1010.5" cy="149.5" r="3.8" fill="#bade28"/>
<circle cx="1013.5" cy="149.5" r="3.8" fill="#ece51b"/>
<circle cx="999.5" cy="157.5" r="3.8" fill="#3dbc74"/>
<circle cx="1002.5" cy="156.5" r="3.8" fill="#4ac16d"/>
<circle cx="1004.5" cy="155.5" r="3.8" fill="#63cb5f"/>
<circle cx="1007.5" cy="154.5" r="3.8" fill="#86d549"/>
<circle cx="1010.5" cy="153.5" r="3.8" fill="#b5de2b"/>
<circle cx="1013.5" cy="153.5" r="3.8" fill="#eae51a"/>
<circle cx="999.5" cy="162.5" r="3.8" fill="#38b977"/>
<circle cx="1001.5" cy="161.5" r="3.8" fill="#44bf70"/>
<circle cx="1004.5" cy="160.5" r="3.8" fill="#5cc863"/>
<circle cx="1007.5" cy="159.5" r="3.8" fill="#7fd34e"/>
<circle cx="1009.5" cy="158.5" r="3.8" fill="#b0dd2f"/>
<circle cx="1012.5" cy="157.5" r="3.8" fill="#e7e419"/>
<circle cx="1019.5" cy="160.5" r="3.8" fill="#fde725"/>
<circle cx="1000.5" cy="179.5" r="3.8" fill="#29af7f"/>
<circle cx="1010.5" cy="186.5" r="3.8" fill="#48c16e"/>
<circle cx="1016.5" cy="193.5" r="3.8" fill="#65cb5e"/>
<circle cx="1021.5" cy="199.5" r="3.8" fill="#84d44b"/>
<circle cx="1027.5" cy="204.5" r="3.8" fill="#a8db34"/>
<circle cx="1033.5" cy="209.5" r="3.8" fill="#cae11f"/>
<circle cx="1038.5" cy="213.5" r="3.8" fill="#efe51c"/>
<circle cx="1043.5" cy="214.5" r="3.8" fill="#fde725"/>
<circle cx="998.5" cy="221.5" r="3.8" fill="#29af7f"/>
<circle cx="1028.5" cy="234.5" r="3.8" fill="#32b67a"/>
<circle cx="1037.5" cy="242.5" r="3.8" fill="#3dbc74"/>
<circle cx="1041.5" cy="249.5" r="3.8" fill="#56c667"/>
<circle cx="1044.5" cy="249.5" r="3.8" fill="#75d054"/>
<circle cx="1046.5" cy="249.5" r="3.8" fill="#95d840"/>
<circle cx="1049.5" cy="249.5" r="3.8" fill="#bade28"/>
<circle cx="1052.5" cy="248.5" r="3.8" fill="#dde318"/>
<circle cx="1055.5" cy="248.5" r="3.8" fill="#fde725"/>
<circle cx="1038.5" cy="259.5" r="3.8" fill="#3dbc74"/>
<circle cx="1041.5" cy="259.5" r="3.8" fill="#56c667"/>
<circle cx="1044.5" cy="258.5" r="3.8" fill="#75d054"/>
<circle cx="1047.5" cy="258.5" r="3.8" fill="#95d840"/>
<circle cx="1049.5" cy="257.5" r="3.8" fill="#bade28"/>
<circle cx="1052.5" cy="257.5" r="3.8" fill="#dde318"/>
<circle cx="1055.5" cy="256.5" r="3.8" fill="#fde725"/>
<circle cx="1041.5" cy="269.5" r="3.8" fill="#56c667"/>
<circle cx="1044.5" cy="268.5" r="3.8" fill="#75d054"/>
<circle cx="1047.5" cy="267.5" r="3.8" fill="#95d840"/>
<circle cx="1050.5" cy="266.5" r="3.8" fill="#bade28"/>
<circle cx="1053.5" cy="265.5" r="3.8" fill="#dde318"/>
<circle cx="1056.5" cy="265.5" r="3.8" fill="#fde725"/>
<circle cx="1035.5" cy="277.5" r="3.8" fill="#3dbc74"/>
<circle cx="1054.5" cy="283.5" r="3.8" fill="#fde725"/>
<circle cx="1049.5" cy="285.5" r="3.8" fill="#dde318"/>
<circle cx="1043.5" cy="292.5" r="3.8" fill="#bade28"/>
<circle cx="1035.5" cy="299.5" r="3.8" fill="#95d840"/>
<circle cx="1028.5" cy="307.5" r="3.8" fill="#75d054"/>
<circle cx="1020.5" cy="318.5" r="3.8" fill="#56c667"/>
<circle cx="1009.5" cy="330.5" r="3.8" fill="#3dbc74"/>
<circle cx="1002.5" cy="340.5" r="3.8" fill="#32b67a"/>
<circle cx="1025.5" cy="291.5" r="3.8" fill="#29af7f"/>
<circle cx="992.5" cy="314.5" r="3.8" fill="#20a386"/>
<circle cx="1040.5" cy="324.5" r="3.8" fill="#fde725"/>
<circle cx="1031.5" cy="331.5" r="3.8" fill="#dde318"/>
<circle cx="1023.5" cy="338.5" r="3.8" fill="#bade28"/>
<circle cx="1015.5" cy="346.5" r="3.8" fill="#95d840"/>
<circle cx="1007.5" cy="351.5" r="3.8" fill="#75d054"/>
<circle cx="1027.5" cy="353.5" r="3.8" fill="#fde725"/>
<circle cx="1018.5" cy="356.5" r="3.8" fill="#dde318"/>
<circle cx="1010.5" cy="360.5" r="3.8" fill="#bade28"/>
<circle cx="1015.5" cy="369.5" r="3.8" fill="#fde725"/>
<circle cx="992.5" cy="356.5" r="3.8" fill="#32b67a"/>
<circle cx="994.5" cy="356.5" r="3.8" fill="#35b779"/>
<circle cx="995.5" cy="356.5" r="3.8" fill="#3aba76"/>
<circle cx="997.5" cy="356.5" r="3.8" fill="#42be71"/>
<circle cx="999.5" cy="357.5" r="3.8" fill="#4ec36b"/>
<circle cx="1000.5" cy="357.5" r="3.8" fill="#5ec962"/>
<circle cx="1002.5" cy="357.5" r="3.8" fill="#70cf57"/>
<circle cx="1004.5" cy="358.5" r="3.8" fill="#84d44b"/>
<circle cx="992.5" cy="359.5" r="3.8" fill="#31b57b"/>
<circle cx="994.5" cy="359.5" r="3.8" fill="#34b679"/>
<circle cx="996.5" cy="360.5" r="3.8" fill="#3aba76"/>
<circle cx="998.5" cy="361.5" r="3.8" fill="#46c06f"/>
<circle cx="1000.5" cy="361.5" r="3.8" fill="#54c568"/>
<circle cx="1002.5" cy="362.5" r="3.8" fill="#67cc5c"/>
<circle cx="1004.5" cy="363.5" r="3.8" fill="#7cd250"/>
<circle cx="1006.5" cy="363.5" r="3.8" fill="#98d83e"/>
<circle cx="991.5" cy="362.5" r="3.8" fill="#2fb47c"/>
<circle cx="994.5" cy="363.5" r="3.8" fill="#32b67a"/>
<circle cx="996.5" cy="364.5" r="3.8" fill="#3bbb75"/>
<circle cx="999.5" cy="365.5" r="3.8" fill="#48c16e"/>
<circle cx="1001.5" cy="366.5" r="3.8" fill="#5ac864"/>
<circle cx="1004.5" cy="367.5" r="3.8" fill="#70cf57"/>
<circle cx="1006.5" cy="368.5" r="3.8" fill="#8bd646"/>
<circle cx="1009.5" cy="369.5" r="3.8" fill="#addc30"/>
<circle cx="991.5" cy="365.5" r="3.8" fill="#2eb37c"/>
<circle cx="994.5" cy="366.5" r="3.8" fill="#32b67a"/>
<circle cx="997.5" cy="367.5" r="3.8" fill="#3bbb75"/>
<circle cx="999.5" cy="369.5" r="3.8" fill="#4ac16d"/>
<circle cx="1002.5" cy="370.5" r="3.8" fill="#5ec962"/>
<circle cx="1005.5" cy="371.5" r="3.8" fill="#7ad151"/>
<circle cx="1008.5" cy="373.5" r="3.8" fill="#9bd93c"/>
<circle cx="1011.5" cy="374.5" r="3.8" fill="#c2df23"/>
<circle cx="990.5" cy="368.5" r="3.8" fill="#2cb17e"/>
<circle cx="994.5" cy="370.5" r="3.8" fill="#31b57b"/>
<circle cx="997.5" cy="371.5" r="3.8" fill="#3bbb75"/>
<circle cx="1000.5" cy="373.5" r="3.8" fill="#4cc26c"/>
<circle cx="1004.5" cy="374.5" r="3.8" fill="#65cb5e"/>
<circle cx="1007.5" cy="376.5" r="3.8" fill="#84d44b"/>
<circle cx="1010.5" cy="378.5" r="3.8" fill="#aadc32"/>
<circle cx="1014.5" cy="379.5" r="3.8" fill="#d8e219"/>
<circle cx="990.5" cy="371.5" r="3.8" fill="#2ab07f"/>
<circle cx="993.5" cy="373.5" r="3.8" fill="#2fb47c"/>
<circle cx="997.5" cy="375.5" r="3.8" fill="#3bbb75"/>
<circle cx="1001.5" cy="377.5" r="3.8" fill="#4ec36b"/>
<circle cx="1005.5" cy="379.5" r="3.8" fill="#69cd5b"/>
<circle cx="1009.5" cy="381.5" r="3.8" fill="#8ed645"/>
<circle cx="1012.5" cy="383.5" r="3.8" fill="#bade28"/>
<circle cx="1016.5" cy="385.5" r="3.8" fill="#ece51b"/>
<circle cx="989.5" cy="374.5" r="3.8" fill="#29af7f"/>
<circle cx="993.5" cy="376.5" r="3.8" fill="#2eb37c"/>
<circle cx="998.5" cy="379.5" r="3.8" fill="#3bbb75"/>
<circle cx="1002.5" cy="381.5" r="3.8" fill="#50c46a"/>
<circle cx="1006.5" cy="383.5" r="3.8" fill="#70cf57"/>
<circle cx="1010.5" cy="385.5" r="3.8" fill="#98d83e"/>
<circle cx="1014.5" cy="388.5" r="3.8" fill="#cae11f"/>
<circle cx="1019.5" cy="390.5" r="3.8" fill="#fde725"/>
<circle cx="977.5" cy="355.5" r="3.8" fill="#29af7f"/>
<circle cx="968.5" cy="367.5" r="3.8" fill="#29af7f"/>
<circle cx="961.5" cy="374.5" r="3.8" fill="#29af7f"/>
<circle cx="955.5" cy="380.5" r="3.8" fill="#29af7f"/>
<circle cx="947.5" cy="387.5" r="3.8" fill="#29af7f"/>
<circle cx="937.5" cy="396.5" r="3.8" fill="#29af7f"/>
<circle cx="929.5" cy="404.5" r="3.8" fill="#29af7f"/>
<circle cx="924.5" cy="411.5" r="3.8" fill="#29af7f"/>
<circle cx="982.5" cy="382.5" r="3.8" fill="#32b67a"/>
<circle cx="971.5" cy="392.5" r="3.8" fill="#32b67a"/>
<circle cx="923.5" cy="384.5" r="3.8" fill="#20a386"/>
<circle cx="938.5" cy="345.5" r="3.8" fill="#20a386"/>
<circle cx="912.5" cy="394.5" r="3.8" fill="#20a386"/>
<circle cx="906.5" cy="397.5" r="3.8" fill="#20a386"/>
<circle cx="905.5" cy="400.5" r="3.8" fill="#20a386"/>
<circle cx="904.5" cy="403.5" r="3.8" fill="#20a386"/>
<circle cx="903.5" cy="406.5" r="3.8" fill="#20a386"/>
<circle cx="903.5" cy="409.5" r="3.8" fill="#20a386"/>
<circle cx="903.5" cy="413.5" r="3.8" fill="#20a386"/>
<circle cx="903.5" cy="416.5" r="3.8" fill="#20a386"/>
<circle cx="895.5" cy="394.5" r="3.8" fill="#1f968b"/>
<circle cx="895.5" cy="397.5" r="3.8" fill="#1f968b"/>
<circle cx="895.5" cy="400.5" r="3.8" fill="#1f968b"/>
<circle cx="894.5" cy="403.5" r="3.8" fill="#1f968b"/>
<circle cx="894.5" cy="406.5" r="3.8" fill="#1f968b"/>
<circle cx="894.5" cy="410.5" r="3.8" fill="#1f968b"/>
<circle cx="893.5" cy="413.5" r="3.8" fill="#1f968b"/>
<circle cx="893.5" cy="416.5" r="3.8" fill="#1f968b"/>
<circle cx="883.5" cy="399.5" r="3.8" fill="#238a8d"/>
<circle cx="884.5" cy="403.5" r="3.8" fill="#238a8d"/>
<circle cx="884.5" cy="406.5" r="3.8" fill="#238a8d"/>
<circle cx="884.5" cy="410.5" r="3.8" fill="#238a8d"/>
<circle cx="884.5" cy="413.5" r="3.8" fill="#238a8d"/>
<circle cx="884.5" cy="417.5" r="3.8" fill="#238a8d"/>
<circle cx="878.5" cy="394.5" r="3.8" fill="#25838e"/>
<circle cx="866.5" cy="386.5" r="3.8" fill="#287d8e"/>
<circle cx="849.5" cy="377.5" r="3.8" fill="#287d8e"/>
<circle cx="835.5" cy="382.5" r="3.8" fill="#287d8e"/>
<circle cx="823.5" cy="373.5" r="3.8" fill="#287d8e"/>
<circle cx="813.5" cy="365.5" r="3.8" fill="#2a778e"/>
<circle cx="807.5" cy="358.5" r="3.8" fill="#2d718e"/>
<circle cx="852.5" cy="398.5" r="3.8" fill="#2d718e"/>
<circle cx="856.5" cy="405.5" r="3.8" fill="#2d718e"/>
<circle cx="861.5" cy="413.5" r="3.8" fill="#2d718e"/>
<circle cx="845.5" cy="390.5" r="3.8" fill="#2d718e"/>
<circle cx="880.5" cy="361.5" r="3.8" fill="#238a8d"/>
<circle cx="854.5" cy="307.5" r="3.8" fill="#238a8d"/>
<circle cx="825.5" cy="343.5" r="3.8" fill="#287d8e"/>
<circle cx="802.5" cy="372.5" r="3.8" fill="#33638d"/>
<circle cx="793.5" cy="377.5" r="3.8" fill="#39558c"/>
<circle cx="809.5" cy="381.5" r="3.8" fill="#33638d"/>
<circle cx="797.5" cy="386.5" r="3.8" fill="#39558c"/>
<circle cx="817.5" cy="389.5" r="3.8" fill="#33638d"/>
<circle cx="821.5" cy="397.5" r="3.8" fill="#33638d"/>
<circle cx="785.5" cy="355.5" r="3.8" fill="#481d6f"/>
<circle cx="788.5" cy="355.5" r="3.8" fill="#46307e"/>
<circle cx="790.5" cy="355.5" r="3.8" fill="#424186"/>
<circle cx="793.5" cy="355.5" r="3.8" fill="#3b528b"/>
<circle cx="796.5" cy="355.5" r="3.8" fill="#33628d"/>
<circle cx="798.5" cy="355.5" r="3.8" fill="#2d718e"/>
<circle cx="779.5" cy="360.5" r="3.8" fill="#440154"/>
<circle cx="782.5" cy="360.5" r="3.8" fill="#481668"/>
<circle cx="786.5" cy="359.5" r="3.8" fill="#482979"/>
<circle cx="789.5" cy="359.5" r="3.8" fill="#443a83"/>
<circle cx="792.5" cy="359.5" r="3.8" fill="#3e4c8a"/>
<circle cx="796.5" cy="358.5" r="3.8" fill="#375b8d"/>
<circle cx="799.5" cy="358.5" r="3.8" fill="#306a8e"/>
<circle cx="779.5" cy="365.5" r="3.8" fill="#440154"/>
<circle cx="782.5" cy="364.5" r="3.8" fill="#481668"/>
<circle cx="786.5" cy="364.5" r="3.8" fill="#482979"/>
<circle cx="789.5" cy="363.5" r="3.8" fill="#443a83"/>
<circle cx="793.5" cy="363.5" r="3.8" fill="#3e4c8a"/>
<circle cx="796.5" cy="362.5" r="3.8" fill="#375b8d"/>
<circle cx="799.5" cy="362.5" r="3.8" fill="#306a8e"/>
<circle cx="779.5" cy="369.5" r="3.8" fill="#440154"/>
<circle cx="782.5" cy="369.5" r="3.8" fill="#481668"/>
<circle cx="785.5" cy="368.5" r="3.8" fill="#482979"/>
<circle cx="788.5" cy="368.5" r="3.8" fill="#443b84"/>
<circle cx="791.5" cy="368.5" r="3.8" fill="#3d4d8a"/>
<circle cx="795.5" cy="368.5" r="3.8" fill="#365d8d"/>
<circle cx="779.5" cy="374.5" r="3.8" fill="#440154"/>
<circle cx="782.5" cy="373.5" r="3.8" fill="#481a6c"/>
<circle cx="786.5" cy="373.5" r="3.8" fill="#46307e"/>
<circle cx="789.5" cy="373.5" r="3.8" fill="#404688"/>
<circle cx="779.5" cy="378.5" r="3.8" fill="#440154"/>
<circle cx="781.5" cy="378.5" r="3.8" fill="#48186a"/>
<circle cx="784.5" cy="378.5" r="3.8" fill="#472e7c"/>
<circle cx="778.5" cy="383.5" r="3.8" fill="#440154"/>
<circle cx="780.5" cy="381.5" r="3.8" fill="#471063"/>
<circle cx="783.5" cy="379.5" r="3.8" fill="#481d6f"/>
<circle cx="786.5" cy="377.5" r="3.8" fill="#472a7a"/>
<circle cx="788.5" cy="375.5" r="3.8" fill="#453781"/>
<circle cx="791.5" cy="373.5" r="3.8" fill="#414287"/>
<circle cx="794.5" cy="371.5" r="3.8" fill="#3d4e8a"/>
<circle cx="796.5" cy="369.5" r="3.8" fill="#38598c"/>
<circle cx="799.5" cy="367.5" r="3.8" fill="#33638d"/>
<circle cx="769.5" cy="344.5" r="3.8" fill="#460a5d"/>
<circle cx="777.5" cy="350.5" r="3.8" fill="#481d6f"/>
<circle cx="750.5" cy="309.5" r="3.8" fill="#440154"/>
<circle cx="755.5" cy="311.5" r="3.8" fill="#481467"/>
<circle cx="762.5" cy="314.5" r="3.8" fill="#482576"/>
<circle cx="768.5" cy="318.5" r="3.8" fill="#453781"/>
<circle cx="774.5" cy="322.5" r="3.8" fill="#404688"/>
<circle cx="782.5" cy="326.5" r="3.8" fill="#39558c"/>
<circle cx="789.5" cy="331.5" r="3.8" fill="#33638d"/>
<circle cx="795.5" cy="333.5" r="3.8" fill="#2d718e"/>
<circle cx="743.5" cy="241.5" r="3.8" fill="#440154"/>
<circle cx="745.5" cy="243.5" r="3.8" fill="#481467"/>
<circle cx="747.5" cy="244.5" r="3.8" fill="#482576"/>
<circle cx="748.5" cy="246.5" r="3.8" fill="#453781"/>
<circle cx="750.5" cy="248.5" r="3.8" fill="#404688"/>
<circle cx="751.5" cy="249.5" r="3.8" fill="#39558c"/>
<circle cx="753.5" cy="246.5" r="3.8" fill="#33638d"/>
<circle cx="756.5" cy="239.5" r="3.8" fill="#306a8e"/>
<circle cx="740.5" cy="258.5" r="3.8" fill="#440154"/>
<circle cx="742.5" cy="258.5" r="3.8" fill="#481769"/>
<circle cx="743.5" cy="258.5" r="3.8" fill="#472a7a"/>
<circle cx="745.5" cy="258.5" r="3.8" fill="#433e85"/>
<circle cx="747.5" cy="258.5" r="3.8" fill="#3c4f8a"/>
<circle cx="748.5" cy="258.5" r="3.8" fill="#355f8d"/>
<circle cx="750.5" cy="258.5" r="3.8" fill="#2e6f8e"/>
<circle cx="751.5" cy="258.5" r="3.8" fill="#287d8e"/>
<circle cx="740.5" cy="275.5" r="3.8" fill="#440154"/>
<circle cx="742.5" cy="274.5" r="3.8" fill="#481467"/>
<circle cx="745.5" cy="273.5" r="3.8" fill="#482576"/>
<circle cx="747.5" cy="271.5" r="3.8" fill="#453781"/>
<circle cx="749.5" cy="270.5" r="3.8" fill="#404688"/>
<circle cx="751.5" cy="269.5" r="3.8" fill="#39558c"/>
<circle cx="757.5" cy="272.5" r="3.8" fill="#33638d"/>
<circle cx="764.5" cy="281.5" r="3.8" fill="#2d718e"/>
<circle cx="776.5" cy="251.5" r="3.8" fill="#287d8e"/>
<circle cx="762.5" cy="230.5" r="3.8" fill="#2d718e"/>
<circle cx="788.5" cy="210.5" r="3.8" fill="#287d8e"/>
<circle cx="832.5" cy="227.5" r="3.8" fill="#238a8d"/>
<circle cx="794.5" cy="295.5" r="3.8" fill="#287d8e"/>
<circle cx="953.5" cy="295.5" r="3.8" fill="#20a386"/>
<circle cx="1013.5" cy="271.5" r="3.8" fill="#29af7f"/>
<circle cx="933.5" cy="213.5" r="3.8" fill="#20a386"/>
</g>
<path d="M800 37.5V486.5M900 37.5V486.5M1000 37.5V486.5" fill="none" stroke="#b0b0b0" stroke-opacity="0.2" stroke-width="2"/>
<path d="M708.5 459H1098.5M708.5 409H1098.5M708.5 359H1098.5M708.5 309H1098.5M708.5 259H1098.5M708.5 209H1098.5M708.5 159H1098.5M708.5 109H1098.5M708.5 59H1098.5" fill="none" stroke="#b0b0b0" stroke-opacity="0.2" stroke-width="2"/>
</g>
<rect x="785" y="224" width="236" height="76" rx="4.6" ry="4.6" fill="#fff" fill-opacity="0.8" stroke="#ccc" stroke-opacity="0.8" stroke-width="2"/>
<circle cx="817" cy="245.2" r="2.2" fill="#d3d3d3" fill-opacity="0.1" stroke="#d3d3d3" stroke-opacity="0.1" stroke-width="1.7"/>
<circle cx="817" cy="279.2" r="3.8" fill="#440154" fill-opacity="0.7" stroke="#000" stroke-opacity="0.7" stroke-width="0.7"/>
<rect x="708.5" y="37.5" width="390.0" height="449.0" fill="none" stroke="#000" stroke-width="2.6"/>
<path d="M800.5 486.5v13.0M900.5 486.5v13.0M1000.5 486.5v13.0M708.5 459.5h-12.0M708.5 409.5h-12.0M708.5 359.5h-12.0M708.5 309.5h-12.0M708.5 259.5h-12.0M708.5 209.5h-12.0M708.5 159.5h-12.0M708.5 109.5h-12.0M708.5 59.5h-12.0" fill="none" stroke="#000" stroke-width="2.6"/>
<rect x="1123.5" y="37.5" width="22.0" height="449.0" fill="url(#vg)" stroke="#000" stroke-width="2.6"/>
<path d="M1145.5 37.5h13.0M1145.5 93.5h13.0M1145.5 149.5h13.0M1145.5 205.5h13.0M1145.5 262.5h13.0M1145.5 318.5h13.0M1145.5 374.5h13.0M1145.5 430.5h13.0M1145.5 486.5h13.0" fill="none" stroke="#000" stroke-width="2.6"/>
<g opacity="0.999">
<text id="ltitle" font-size="25" textLength="256.16" lengthAdjust="spacingAndGlyphs" text-anchor="middle" x="356" y="28.5">Grid in Latent Space</text>
<text id="rtitle" font-size="25" textLength="354.62" lengthAdjust="spacingAndGlyphs" text-anchor="middle" x="903.5" y="28.5">Decoded Grid in Data Space</text>
<text id="lxlabel" font-size="25" textLength="23.29" lengthAdjust="spacingAndGlyphs" text-anchor="middle" x="356.5" y="548"><tspan font-style="italic">z</tspan><tspan font-size="70%" dy="4.5">1</tspan></text>
<text id="rxlabel" font-size="25" textLength="24.26" lengthAdjust="spacingAndGlyphs" text-anchor="middle" x="903.5" y="548"><tspan font-style="italic">x</tspan><tspan font-size="70%" dy="4.5">1</tspan></text>
<text id="lylabel" font-size="25" textLength="23.29" lengthAdjust="spacingAndGlyphs" text-anchor="middle" transform="translate(25 262.5) rotate(-90)"><tspan font-style="italic">z</tspan><tspan font-size="70%" dy="4.5">2</tspan></text>
<text id="rylabel" font-size="25" textLength="24.39" lengthAdjust="spacingAndGlyphs" text-anchor="middle" transform="translate(642 262) rotate(-90)"><tspan font-style="italic">x</tspan><tspan font-size="70%" dy="4.5">2</tspan></text>
<text id="cblabel" font-size="25" textLength="166.05" lengthAdjust="spacingAndGlyphs" text-anchor="middle" transform="translate(1242 262) rotate(-90)"><tspan font-style="italic">z</tspan><tspan font-size="70%" dy="4.5">1</tspan><tspan dy="-4.5"> coordinate</tspan></text>
<text id="lxtm2" font-size="24.4" textLength="30.67" lengthAdjust="spacingAndGlyphs" text-anchor="middle" x="152.5" y="521">−2</text>
<text id="lxtm1" font-size="24.4" textLength="30.93" lengthAdjust="spacingAndGlyphs" text-anchor="middle" x="255.5" y="521">−1</text>
<text id="lxt0" font-size="24.4" textLength="12.75" lengthAdjust="spacingAndGlyphs" text-anchor="middle" x="357.5" y="521">0</text>
<text id="lxt1" font-size="24.4" textLength="11.47" lengthAdjust="spacingAndGlyphs" text-anchor="middle" x="459" y="521">1</text>
<text id="lxt2" font-size="24.4" textLength="11.59" lengthAdjust="spacingAndGlyphs" text-anchor="middle" x="561" y="521">2</text>
<text id="lyt0" font-size="24.4" textLength="52.45" lengthAdjust="spacingAndGlyphs" text-anchor="end" x="94" y="474.8">−2.0</text>
<text id="lyt1" font-size="24.4" textLength="52.45" lengthAdjust="spacingAndGlyphs" text-anchor="end" x="94" y="423.8">−1.5</text>
<text id="lyt2" font-size="24.4" textLength="52.45" lengthAdjust="spacingAndGlyphs" text-anchor="end" x="94" y="372.8">−1.0</text>
<text id="lyt3" font-size="24.4" textLength="52.45" lengthAdjust="spacingAndGlyphs" text-anchor="end" x="94" y="321.8">−0.5</text>
<text id="lyt4" font-size="24.4" textLength="34.01" lengthAdjust="spacingAndGlyphs" text-anchor="end" x="93.5" y="270.8">0.0</text>
<text id="lyt5" font-size="24.4" textLength="32.91" lengthAdjust="spacingAndGlyphs" text-anchor="end" x="93" y="219.8">0.5</text>
<text id="lyt6" font-size="24.4" textLength="34.04" lengthAdjust="spacingAndGlyphs" text-anchor="end" x="94.5" y="168.8">1.0</text>
<text id="lyt7" font-size="24.4" textLength="34.04" lengthAdjust="spacingAndGlyphs" text-anchor="end" x="94.5" y="117.8">1.5</text>
<text id="lyt8" font-size="24.4" textLength="34.01" lengthAdjust="spacingAndGlyphs" text-anchor="end" x="94.5" y="66.8">2.0</text>
<text id="rxtm2" font-size="24.4" textLength="30.67" lengthAdjust="spacingAndGlyphs" text-anchor="middle" x="800.5" y="521">−2</text>
<text id="rxt0" font-size="24.4" textLength="12.75" lengthAdjust="spacingAndGlyphs" text-anchor="middle" x="900.5" y="521">0</text>
<text id="rxt2" font-size="24.4" textLength="11.59" lengthAdjust="spacingAndGlyphs" text-anchor="middle" x="1000" y="521">2</text>
<text id="rytm4" font-size="24.4" textLength="29.77" lengthAdjust="spacingAndGlyphs" text-anchor="end" x="689" y="467.8">−4</text>
<text id="rytm3" font-size="24.4" textLength="30.7" lengthAdjust="spacingAndGlyphs" text-anchor="end" x="689.5" y="417.8">−3</text>
<text id="rytm2" font-size="24.4" textLength="29.57" lengthAdjust="spacingAndGlyphs" text-anchor="end" x="688" y="367.8">−2</text>
<text id="rytm1" font-size="24.4" textLength="30.7" lengthAdjust="spacingAndGlyphs" text-anchor="end" x="689.5" y="317.8">−1</text>
<text id="ryt0" font-size="24.4" textLength="12.86" lengthAdjust="spacingAndGlyphs" text-anchor="end" x="690.5" y="267.8">0</text>
<text id="ryt1" font-size="24.4" textLength="12.75" lengthAdjust="spacingAndGlyphs" text-anchor="end" x="690.5" y="217.8">1</text>
<text id="ryt2" font-size="24.4" textLength="12.75" lengthAdjust="spacingAndGlyphs" text-anchor="end" x="690.5" y="167.8">2</text>
<text id="ryt3" font-size="24.4" textLength="13.41" lengthAdjust="spacingAndGlyphs" text-anchor="end" x="691.5" y="117.8">3</text>
<text id="ryt4" font-size="24.4" textLength="12.75" lengthAdjust="spacingAndGlyphs" text-anchor="end" x="689.5" y="67.8">4</text>
<text id="cbt0" font-size="24.4" textLength="34.08" lengthAdjust="spacingAndGlyphs" x="1163.5" y="45.8">2.0</text>
<text id="cbt1" font-size="24.4" textLength="34.2" lengthAdjust="spacingAndGlyphs" x="1164.5" y="101.8">1.5</text>
<text id="cbt2" font-size="24.4" textLength="33.24" lengthAdjust="spacingAndGlyphs" x="1164" y="158.8">1.0</text>
<text id="cbt3" font-size="24.4" textLength="32.96" lengthAdjust="spacingAndGlyphs" x="1164" y="214.8">0.5</text>
<text id="cbt4" font-size="24.4" textLength="34.08" lengthAdjust="spacingAndGlyphs" x="1163.5" y="270.8">0.0</text>
<text id="cbt5" font-size="24.4" textLength="52.6" lengthAdjust="spacingAndGlyphs" x="1165" y="326.8">−0.5</text>
<text id="cbt6" font-size="24.4" textLength="52.72" lengthAdjust="spacingAndGlyphs" x="1165" y="382.8">−1.0</text>
<text id="cbt7" font-size="24.4" textLength="52.6" lengthAdjust="spacingAndGlyphs" x="1165" y="438.8">−1.5</text>
<text id="cbt8" font-size="24.4" textLength="52.72" lengthAdjust="spacingAndGlyphs" x="1165" y="494.8">−2.0</text>
<text id="leg1" font-size="24.4" textLength="106.23" lengthAdjust="spacingAndGlyphs" x="857.5" y="250.5">Real data</text>
<text id="leg2" font-size="24.4" textLength="152.71" lengthAdjust="spacingAndGlyphs" x="857.5" y="285">Decoded grid</text>
</g>
</svg></body></html>
